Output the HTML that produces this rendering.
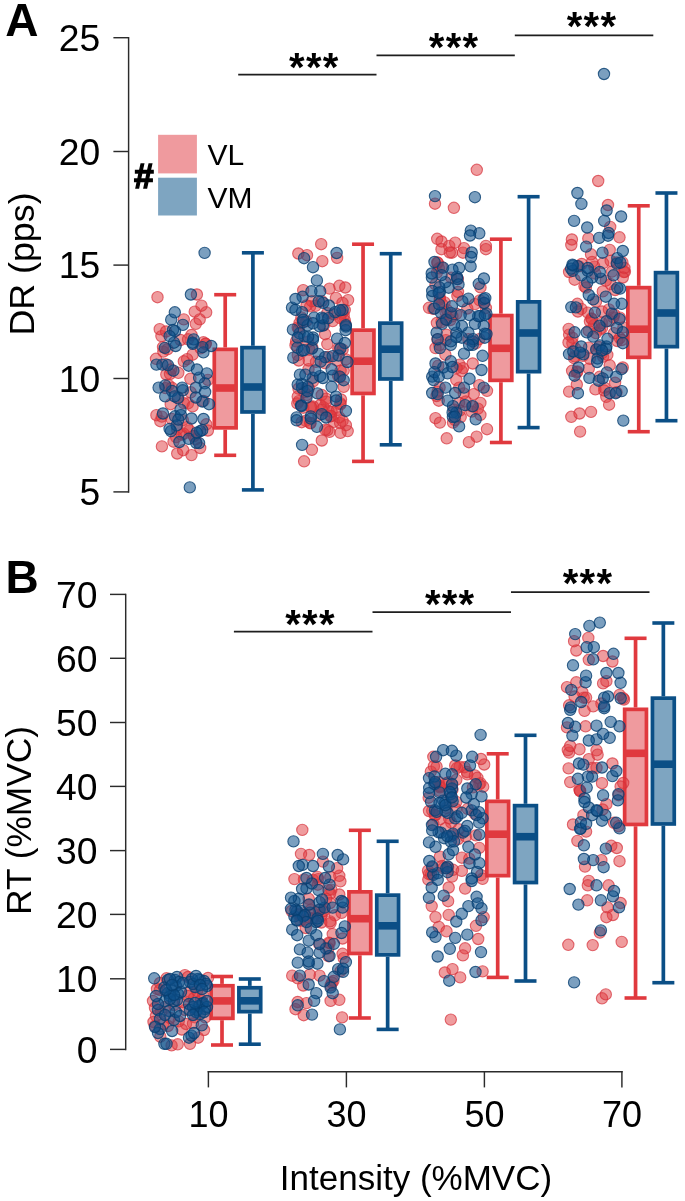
<!DOCTYPE html>
<html><head><meta charset="utf-8"><style>
html,body{margin:0;padding:0;background:#fff;}
svg{display:block;filter:blur(0.35px);}
text{font-family:"Liberation Sans",sans-serif;fill:#000;}
</style></head><body>
<svg width="685" height="1201" viewBox="0 0 685 1201">
<rect width="685" height="1201" fill="#fff"/>
<line x1="225.20" y1="294.70" x2="225.20" y2="347.50" stroke="#e0393e" stroke-width="3.7"/>
<line x1="225.20" y1="429.70" x2="225.20" y2="455.30" stroke="#e0393e" stroke-width="3.7"/>
<line x1="214.20" y1="294.70" x2="236.20" y2="294.70" stroke="#e0393e" stroke-width="3.6"/>
<line x1="214.20" y1="455.30" x2="236.20" y2="455.30" stroke="#e0393e" stroke-width="3.6"/>
<rect x="214.30" y="349.35" width="21.80" height="78.50" fill="#ef9a9e" stroke="#e0393e" stroke-width="3.7"/>
<rect x="214.30" y="384.20" width="21.80" height="7.60" fill="#e0393e"/>
<line x1="363.05" y1="244.20" x2="363.05" y2="328.30" stroke="#e0393e" stroke-width="3.7"/>
<line x1="363.05" y1="395.30" x2="363.05" y2="461.40" stroke="#e0393e" stroke-width="3.7"/>
<line x1="352.05" y1="244.20" x2="374.05" y2="244.20" stroke="#e0393e" stroke-width="3.6"/>
<line x1="352.05" y1="461.40" x2="374.05" y2="461.40" stroke="#e0393e" stroke-width="3.6"/>
<rect x="352.15" y="330.15" width="21.80" height="63.30" fill="#ef9a9e" stroke="#e0393e" stroke-width="3.7"/>
<rect x="352.15" y="357.40" width="21.80" height="7.60" fill="#e0393e"/>
<line x1="500.90" y1="239.20" x2="500.90" y2="313.70" stroke="#e0393e" stroke-width="3.7"/>
<line x1="500.90" y1="382.20" x2="500.90" y2="442.50" stroke="#e0393e" stroke-width="3.7"/>
<line x1="489.90" y1="239.20" x2="511.90" y2="239.20" stroke="#e0393e" stroke-width="3.6"/>
<line x1="489.90" y1="442.50" x2="511.90" y2="442.50" stroke="#e0393e" stroke-width="3.6"/>
<rect x="490.00" y="315.55" width="21.80" height="64.80" fill="#ef9a9e" stroke="#e0393e" stroke-width="3.7"/>
<rect x="490.00" y="344.50" width="21.80" height="7.60" fill="#e0393e"/>
<line x1="638.75" y1="205.80" x2="638.75" y2="285.80" stroke="#e0393e" stroke-width="3.7"/>
<line x1="638.75" y1="359.20" x2="638.75" y2="431.70" stroke="#e0393e" stroke-width="3.7"/>
<line x1="627.75" y1="205.80" x2="649.75" y2="205.80" stroke="#e0393e" stroke-width="3.6"/>
<line x1="627.75" y1="431.70" x2="649.75" y2="431.70" stroke="#e0393e" stroke-width="3.6"/>
<rect x="627.85" y="287.65" width="21.80" height="69.70" fill="#ef9a9e" stroke="#e0393e" stroke-width="3.7"/>
<rect x="627.85" y="325.40" width="21.80" height="7.60" fill="#e0393e"/>
<line x1="252.90" y1="252.80" x2="252.90" y2="345.80" stroke="#0b4f86" stroke-width="3.7"/>
<line x1="252.90" y1="413.80" x2="252.90" y2="489.90" stroke="#0b4f86" stroke-width="3.7"/>
<line x1="241.90" y1="252.80" x2="263.90" y2="252.80" stroke="#0b4f86" stroke-width="3.6"/>
<line x1="241.90" y1="489.90" x2="263.90" y2="489.90" stroke="#0b4f86" stroke-width="3.6"/>
<rect x="242.00" y="347.65" width="21.80" height="64.30" fill="#7ea5c1" stroke="#0b4f86" stroke-width="3.7"/>
<rect x="242.00" y="383.20" width="21.80" height="7.60" fill="#0b4f86"/>
<line x1="390.75" y1="253.70" x2="390.75" y2="321.30" stroke="#0b4f86" stroke-width="3.7"/>
<line x1="390.75" y1="380.80" x2="390.75" y2="444.80" stroke="#0b4f86" stroke-width="3.7"/>
<line x1="379.75" y1="253.70" x2="401.75" y2="253.70" stroke="#0b4f86" stroke-width="3.6"/>
<line x1="379.75" y1="444.80" x2="401.75" y2="444.80" stroke="#0b4f86" stroke-width="3.6"/>
<rect x="379.85" y="323.15" width="21.80" height="55.80" fill="#7ea5c1" stroke="#0b4f86" stroke-width="3.7"/>
<rect x="379.85" y="345.40" width="21.80" height="7.60" fill="#0b4f86"/>
<line x1="528.60" y1="196.70" x2="528.60" y2="300.00" stroke="#0b4f86" stroke-width="3.7"/>
<line x1="528.60" y1="373.50" x2="528.60" y2="427.60" stroke="#0b4f86" stroke-width="3.7"/>
<line x1="517.60" y1="196.70" x2="539.60" y2="196.70" stroke="#0b4f86" stroke-width="3.6"/>
<line x1="517.60" y1="427.60" x2="539.60" y2="427.60" stroke="#0b4f86" stroke-width="3.6"/>
<rect x="517.70" y="301.85" width="21.80" height="69.80" fill="#7ea5c1" stroke="#0b4f86" stroke-width="3.7"/>
<rect x="517.70" y="329.20" width="21.80" height="7.60" fill="#0b4f86"/>
<line x1="666.45" y1="193.00" x2="666.45" y2="270.80" stroke="#0b4f86" stroke-width="3.7"/>
<line x1="666.45" y1="348.50" x2="666.45" y2="420.70" stroke="#0b4f86" stroke-width="3.7"/>
<line x1="655.45" y1="193.00" x2="677.45" y2="193.00" stroke="#0b4f86" stroke-width="3.6"/>
<line x1="655.45" y1="420.70" x2="677.45" y2="420.70" stroke="#0b4f86" stroke-width="3.6"/>
<rect x="655.55" y="272.65" width="21.80" height="74.00" fill="#7ea5c1" stroke="#0b4f86" stroke-width="3.7"/>
<rect x="655.55" y="309.20" width="21.80" height="7.60" fill="#0b4f86"/>
<line x1="222.00" y1="976.50" x2="222.00" y2="983.90" stroke="#e0393e" stroke-width="3.7"/>
<line x1="222.00" y1="1020.20" x2="222.00" y2="1045.00" stroke="#e0393e" stroke-width="3.7"/>
<line x1="211.00" y1="976.50" x2="233.00" y2="976.50" stroke="#e0393e" stroke-width="3.6"/>
<line x1="211.00" y1="1045.00" x2="233.00" y2="1045.00" stroke="#e0393e" stroke-width="3.6"/>
<rect x="211.10" y="985.75" width="21.80" height="32.60" fill="#ef9a9e" stroke="#e0393e" stroke-width="3.7"/>
<rect x="211.10" y="997.10" width="21.80" height="7.60" fill="#e0393e"/>
<line x1="359.85" y1="830.30" x2="359.85" y2="890.00" stroke="#e0393e" stroke-width="3.7"/>
<line x1="359.85" y1="955.30" x2="359.85" y2="1018.00" stroke="#e0393e" stroke-width="3.7"/>
<line x1="348.85" y1="830.30" x2="370.85" y2="830.30" stroke="#e0393e" stroke-width="3.6"/>
<line x1="348.85" y1="1018.00" x2="370.85" y2="1018.00" stroke="#e0393e" stroke-width="3.6"/>
<rect x="348.95" y="891.85" width="21.80" height="61.60" fill="#ef9a9e" stroke="#e0393e" stroke-width="3.7"/>
<rect x="348.95" y="914.90" width="21.80" height="7.60" fill="#e0393e"/>
<line x1="497.70" y1="753.80" x2="497.70" y2="799.50" stroke="#e0393e" stroke-width="3.7"/>
<line x1="497.70" y1="877.50" x2="497.70" y2="977.40" stroke="#e0393e" stroke-width="3.7"/>
<line x1="486.70" y1="753.80" x2="508.70" y2="753.80" stroke="#e0393e" stroke-width="3.6"/>
<line x1="486.70" y1="977.40" x2="508.70" y2="977.40" stroke="#e0393e" stroke-width="3.6"/>
<rect x="486.80" y="801.35" width="21.80" height="74.30" fill="#ef9a9e" stroke="#e0393e" stroke-width="3.7"/>
<rect x="486.80" y="830.40" width="21.80" height="7.60" fill="#e0393e"/>
<line x1="635.55" y1="638.30" x2="635.55" y2="707.50" stroke="#e0393e" stroke-width="3.7"/>
<line x1="635.55" y1="826.30" x2="635.55" y2="998.00" stroke="#e0393e" stroke-width="3.7"/>
<line x1="624.55" y1="638.30" x2="646.55" y2="638.30" stroke="#e0393e" stroke-width="3.6"/>
<line x1="624.55" y1="998.00" x2="646.55" y2="998.00" stroke="#e0393e" stroke-width="3.6"/>
<rect x="624.65" y="709.35" width="21.80" height="115.10" fill="#ef9a9e" stroke="#e0393e" stroke-width="3.7"/>
<rect x="624.65" y="749.50" width="21.80" height="7.60" fill="#e0393e"/>
<line x1="249.80" y1="979.00" x2="249.80" y2="985.90" stroke="#0b4f86" stroke-width="3.7"/>
<line x1="249.80" y1="1013.50" x2="249.80" y2="1044.20" stroke="#0b4f86" stroke-width="3.7"/>
<line x1="238.80" y1="979.00" x2="260.80" y2="979.00" stroke="#0b4f86" stroke-width="3.6"/>
<line x1="238.80" y1="1044.20" x2="260.80" y2="1044.20" stroke="#0b4f86" stroke-width="3.6"/>
<rect x="238.90" y="987.75" width="21.80" height="23.90" fill="#7ea5c1" stroke="#0b4f86" stroke-width="3.7"/>
<rect x="238.90" y="997.00" width="21.80" height="7.60" fill="#0b4f86"/>
<line x1="387.65" y1="841.30" x2="387.65" y2="893.30" stroke="#0b4f86" stroke-width="3.7"/>
<line x1="387.65" y1="956.70" x2="387.65" y2="1029.40" stroke="#0b4f86" stroke-width="3.7"/>
<line x1="376.65" y1="841.30" x2="398.65" y2="841.30" stroke="#0b4f86" stroke-width="3.6"/>
<line x1="376.65" y1="1029.40" x2="398.65" y2="1029.40" stroke="#0b4f86" stroke-width="3.6"/>
<rect x="376.75" y="895.15" width="21.80" height="59.70" fill="#7ea5c1" stroke="#0b4f86" stroke-width="3.7"/>
<rect x="376.75" y="922.00" width="21.80" height="7.60" fill="#0b4f86"/>
<line x1="525.50" y1="735.30" x2="525.50" y2="803.80" stroke="#0b4f86" stroke-width="3.7"/>
<line x1="525.50" y1="884.40" x2="525.50" y2="981.00" stroke="#0b4f86" stroke-width="3.7"/>
<line x1="514.50" y1="735.30" x2="536.50" y2="735.30" stroke="#0b4f86" stroke-width="3.6"/>
<line x1="514.50" y1="981.00" x2="536.50" y2="981.00" stroke="#0b4f86" stroke-width="3.6"/>
<rect x="514.60" y="805.65" width="21.80" height="76.90" fill="#7ea5c1" stroke="#0b4f86" stroke-width="3.7"/>
<rect x="514.60" y="832.90" width="21.80" height="7.60" fill="#0b4f86"/>
<line x1="663.35" y1="623.00" x2="663.35" y2="696.30" stroke="#0b4f86" stroke-width="3.7"/>
<line x1="663.35" y1="825.80" x2="663.35" y2="982.70" stroke="#0b4f86" stroke-width="3.7"/>
<line x1="652.35" y1="623.00" x2="674.35" y2="623.00" stroke="#0b4f86" stroke-width="3.6"/>
<line x1="652.35" y1="982.70" x2="674.35" y2="982.70" stroke="#0b4f86" stroke-width="3.6"/>
<rect x="652.45" y="698.15" width="21.80" height="125.80" fill="#7ea5c1" stroke="#0b4f86" stroke-width="3.7"/>
<rect x="652.45" y="760.40" width="21.80" height="7.60" fill="#0b4f86"/>
<circle cx="189.5" cy="430.4" r="5.65" fill="rgba(224,58,62,0.5)" stroke="rgba(214,48,58,0.7)" stroke-width="1.1"/>
<circle cx="168.6" cy="385.2" r="5.65" fill="rgba(224,58,62,0.5)" stroke="rgba(214,48,58,0.7)" stroke-width="1.1"/>
<circle cx="191.5" cy="335.0" r="5.65" fill="rgba(224,58,62,0.5)" stroke="rgba(214,48,58,0.7)" stroke-width="1.1"/>
<circle cx="188.0" cy="403.3" r="5.65" fill="rgba(224,58,62,0.5)" stroke="rgba(214,48,58,0.7)" stroke-width="1.1"/>
<circle cx="163.3" cy="351.6" r="5.65" fill="rgba(224,58,62,0.5)" stroke="rgba(214,48,58,0.7)" stroke-width="1.1"/>
<circle cx="182.8" cy="420.2" r="5.65" fill="rgba(224,58,62,0.5)" stroke="rgba(214,48,58,0.7)" stroke-width="1.1"/>
<circle cx="165.6" cy="388.1" r="5.65" fill="rgba(224,58,62,0.5)" stroke="rgba(214,48,58,0.7)" stroke-width="1.1"/>
<circle cx="181.8" cy="434.7" r="5.65" fill="rgba(224,58,62,0.5)" stroke="rgba(214,48,58,0.7)" stroke-width="1.1"/>
<circle cx="193.9" cy="436.1" r="5.65" fill="rgba(224,58,62,0.5)" stroke="rgba(214,48,58,0.7)" stroke-width="1.1"/>
<circle cx="205.6" cy="343.8" r="5.65" fill="rgba(224,58,62,0.5)" stroke="rgba(214,48,58,0.7)" stroke-width="1.1"/>
<circle cx="177.2" cy="453.5" r="5.65" fill="rgba(224,58,62,0.5)" stroke="rgba(214,48,58,0.7)" stroke-width="1.1"/>
<circle cx="200.2" cy="448.0" r="5.65" fill="rgba(224,58,62,0.5)" stroke="rgba(214,48,58,0.7)" stroke-width="1.1"/>
<circle cx="178.3" cy="372.8" r="5.65" fill="rgba(224,58,62,0.5)" stroke="rgba(214,48,58,0.7)" stroke-width="1.1"/>
<circle cx="192.6" cy="354.7" r="5.65" fill="rgba(224,58,62,0.5)" stroke="rgba(214,48,58,0.7)" stroke-width="1.1"/>
<circle cx="183.2" cy="450.2" r="5.65" fill="rgba(224,58,62,0.5)" stroke="rgba(214,48,58,0.7)" stroke-width="1.1"/>
<circle cx="156.0" cy="358.8" r="5.65" fill="rgba(224,58,62,0.5)" stroke="rgba(214,48,58,0.7)" stroke-width="1.1"/>
<circle cx="173.5" cy="441.7" r="5.65" fill="rgba(224,58,62,0.5)" stroke="rgba(214,48,58,0.7)" stroke-width="1.1"/>
<circle cx="161.4" cy="336.1" r="5.65" fill="rgba(224,58,62,0.5)" stroke="rgba(214,48,58,0.7)" stroke-width="1.1"/>
<circle cx="159.7" cy="329.2" r="5.65" fill="rgba(224,58,62,0.5)" stroke="rgba(214,48,58,0.7)" stroke-width="1.1"/>
<circle cx="187.1" cy="359.1" r="5.65" fill="rgba(224,58,62,0.5)" stroke="rgba(214,48,58,0.7)" stroke-width="1.1"/>
<circle cx="161.9" cy="446.4" r="5.65" fill="rgba(224,58,62,0.5)" stroke="rgba(214,48,58,0.7)" stroke-width="1.1"/>
<circle cx="165.7" cy="364.1" r="5.65" fill="rgba(224,58,62,0.5)" stroke="rgba(214,48,58,0.7)" stroke-width="1.1"/>
<circle cx="171.0" cy="369.5" r="5.65" fill="rgba(224,58,62,0.5)" stroke="rgba(214,48,58,0.7)" stroke-width="1.1"/>
<circle cx="190.4" cy="378.8" r="5.65" fill="rgba(224,58,62,0.5)" stroke="rgba(214,48,58,0.7)" stroke-width="1.1"/>
<circle cx="195.8" cy="323.8" r="5.65" fill="rgba(224,58,62,0.5)" stroke="rgba(214,48,58,0.7)" stroke-width="1.1"/>
<circle cx="190.7" cy="392.3" r="5.65" fill="rgba(224,58,62,0.5)" stroke="rgba(214,48,58,0.7)" stroke-width="1.1"/>
<circle cx="203.6" cy="400.9" r="5.65" fill="rgba(224,58,62,0.5)" stroke="rgba(214,48,58,0.7)" stroke-width="1.1"/>
<circle cx="160.3" cy="421.2" r="5.65" fill="rgba(224,58,62,0.5)" stroke="rgba(214,48,58,0.7)" stroke-width="1.1"/>
<circle cx="157.5" cy="297.2" r="5.65" fill="rgba(224,58,62,0.5)" stroke="rgba(214,48,58,0.7)" stroke-width="1.1"/>
<circle cx="196.9" cy="294.5" r="5.65" fill="rgba(224,58,62,0.5)" stroke="rgba(214,48,58,0.7)" stroke-width="1.1"/>
<circle cx="171.8" cy="387.6" r="5.65" fill="rgba(224,58,62,0.5)" stroke="rgba(214,48,58,0.7)" stroke-width="1.1"/>
<circle cx="207.9" cy="430.5" r="5.65" fill="rgba(224,58,62,0.5)" stroke="rgba(214,48,58,0.7)" stroke-width="1.1"/>
<circle cx="194.7" cy="311.7" r="5.65" fill="rgba(224,58,62,0.5)" stroke="rgba(214,48,58,0.7)" stroke-width="1.1"/>
<circle cx="183.8" cy="361.3" r="5.65" fill="rgba(224,58,62,0.5)" stroke="rgba(214,48,58,0.7)" stroke-width="1.1"/>
<circle cx="166.1" cy="331.5" r="5.65" fill="rgba(224,58,62,0.5)" stroke="rgba(214,48,58,0.7)" stroke-width="1.1"/>
<circle cx="203.4" cy="342.3" r="5.65" fill="rgba(224,58,62,0.5)" stroke="rgba(214,48,58,0.7)" stroke-width="1.1"/>
<circle cx="163.0" cy="347.1" r="5.65" fill="rgba(224,58,62,0.5)" stroke="rgba(214,48,58,0.7)" stroke-width="1.1"/>
<circle cx="206.2" cy="312.3" r="5.65" fill="rgba(224,58,62,0.5)" stroke="rgba(214,48,58,0.7)" stroke-width="1.1"/>
<circle cx="191.5" cy="455.1" r="5.65" fill="rgba(224,58,62,0.5)" stroke="rgba(214,48,58,0.7)" stroke-width="1.1"/>
<circle cx="199.7" cy="319.4" r="5.65" fill="rgba(224,58,62,0.5)" stroke="rgba(214,48,58,0.7)" stroke-width="1.1"/>
<circle cx="206.3" cy="424.3" r="5.65" fill="rgba(224,58,62,0.5)" stroke="rgba(214,48,58,0.7)" stroke-width="1.1"/>
<circle cx="156.4" cy="415.2" r="5.65" fill="rgba(224,58,62,0.5)" stroke="rgba(214,48,58,0.7)" stroke-width="1.1"/>
<circle cx="188.0" cy="339.3" r="5.65" fill="rgba(224,58,62,0.5)" stroke="rgba(214,48,58,0.7)" stroke-width="1.1"/>
<circle cx="177.2" cy="429.4" r="5.65" fill="rgba(224,58,62,0.5)" stroke="rgba(214,48,58,0.7)" stroke-width="1.1"/>
<circle cx="183.8" cy="319.4" r="5.65" fill="rgba(224,58,62,0.5)" stroke="rgba(214,48,58,0.7)" stroke-width="1.1"/>
<circle cx="205.7" cy="343.8" r="5.65" fill="rgba(224,58,62,0.5)" stroke="rgba(214,48,58,0.7)" stroke-width="1.1"/>
<circle cx="166.3" cy="374.5" r="5.65" fill="rgba(224,58,62,0.5)" stroke="rgba(214,48,58,0.7)" stroke-width="1.1"/>
<circle cx="193.7" cy="436.0" r="5.65" fill="rgba(224,58,62,0.5)" stroke="rgba(214,48,58,0.7)" stroke-width="1.1"/>
<circle cx="200.6" cy="348.3" r="5.65" fill="rgba(224,58,62,0.5)" stroke="rgba(214,48,58,0.7)" stroke-width="1.1"/>
<circle cx="180.5" cy="340.0" r="5.65" fill="rgba(224,58,62,0.5)" stroke="rgba(214,48,58,0.7)" stroke-width="1.1"/>
<circle cx="170.0" cy="374.0" r="5.65" fill="rgba(224,58,62,0.5)" stroke="rgba(214,48,58,0.7)" stroke-width="1.1"/>
<circle cx="183.8" cy="403.1" r="5.65" fill="rgba(224,58,62,0.5)" stroke="rgba(214,48,58,0.7)" stroke-width="1.1"/>
<circle cx="183.8" cy="433.8" r="5.65" fill="rgba(224,58,62,0.5)" stroke="rgba(214,48,58,0.7)" stroke-width="1.1"/>
<circle cx="170.7" cy="404.2" r="5.65" fill="rgba(224,58,62,0.5)" stroke="rgba(214,48,58,0.7)" stroke-width="1.1"/>
<circle cx="161.8" cy="416.6" r="5.65" fill="rgba(224,58,62,0.5)" stroke="rgba(214,48,58,0.7)" stroke-width="1.1"/>
<circle cx="167.4" cy="349.3" r="5.65" fill="rgba(224,58,62,0.5)" stroke="rgba(214,48,58,0.7)" stroke-width="1.1"/>
<circle cx="195.5" cy="439.4" r="5.65" fill="rgba(224,58,62,0.5)" stroke="rgba(214,48,58,0.7)" stroke-width="1.1"/>
<circle cx="192.6" cy="406.4" r="5.65" fill="rgba(224,58,62,0.5)" stroke="rgba(214,48,58,0.7)" stroke-width="1.1"/>
<circle cx="187.1" cy="427.2" r="5.65" fill="rgba(224,58,62,0.5)" stroke="rgba(214,48,58,0.7)" stroke-width="1.1"/>
<circle cx="201.5" cy="305.7" r="5.65" fill="rgba(224,58,62,0.5)" stroke="rgba(214,48,58,0.7)" stroke-width="1.1"/>
<circle cx="207.9" cy="379.9" r="5.65" fill="rgba(224,58,62,0.5)" stroke="rgba(214,48,58,0.7)" stroke-width="1.1"/>
<circle cx="176.1" cy="437.1" r="5.65" fill="rgba(224,58,62,0.5)" stroke="rgba(214,48,58,0.7)" stroke-width="1.1"/>
<circle cx="171.6" cy="418.9" r="5.65" fill="rgba(224,58,62,0.5)" stroke="rgba(214,48,58,0.7)" stroke-width="1.1"/>
<circle cx="178.3" cy="397.5" r="5.65" fill="rgba(224,58,62,0.5)" stroke="rgba(214,48,58,0.7)" stroke-width="1.1"/>
<circle cx="173.0" cy="330.0" r="5.65" fill="rgba(14,80,138,0.55)" stroke="rgba(8,62,112,0.8)" stroke-width="1.1"/>
<circle cx="172.0" cy="391.0" r="5.65" fill="rgba(14,80,138,0.55)" stroke="rgba(8,62,112,0.8)" stroke-width="1.1"/>
<circle cx="180.5" cy="409.7" r="5.65" fill="rgba(14,80,138,0.55)" stroke="rgba(8,62,112,0.8)" stroke-width="1.1"/>
<circle cx="165.2" cy="396.4" r="5.65" fill="rgba(14,80,138,0.55)" stroke="rgba(8,62,112,0.8)" stroke-width="1.1"/>
<circle cx="171.0" cy="431.1" r="5.65" fill="rgba(14,80,138,0.55)" stroke="rgba(8,62,112,0.8)" stroke-width="1.1"/>
<circle cx="175.0" cy="416.3" r="5.65" fill="rgba(14,80,138,0.55)" stroke="rgba(8,62,112,0.8)" stroke-width="1.1"/>
<circle cx="199.1" cy="443.1" r="5.65" fill="rgba(14,80,138,0.55)" stroke="rgba(8,62,112,0.8)" stroke-width="1.1"/>
<circle cx="165.2" cy="385.4" r="5.65" fill="rgba(14,80,138,0.55)" stroke="rgba(8,62,112,0.8)" stroke-width="1.1"/>
<circle cx="171.2" cy="319.7" r="5.65" fill="rgba(14,80,138,0.55)" stroke="rgba(8,62,112,0.8)" stroke-width="1.1"/>
<circle cx="202.4" cy="401.5" r="5.65" fill="rgba(14,80,138,0.55)" stroke="rgba(8,62,112,0.8)" stroke-width="1.1"/>
<circle cx="192.8" cy="343.8" r="5.65" fill="rgba(14,80,138,0.55)" stroke="rgba(8,62,112,0.8)" stroke-width="1.1"/>
<circle cx="200.2" cy="431.1" r="5.65" fill="rgba(14,80,138,0.55)" stroke="rgba(8,62,112,0.8)" stroke-width="1.1"/>
<circle cx="179.4" cy="442.0" r="5.65" fill="rgba(14,80,138,0.55)" stroke="rgba(8,62,112,0.8)" stroke-width="1.1"/>
<circle cx="204.7" cy="383.3" r="5.65" fill="rgba(14,80,138,0.55)" stroke="rgba(8,62,112,0.8)" stroke-width="1.1"/>
<circle cx="177.8" cy="398.2" r="5.65" fill="rgba(14,80,138,0.55)" stroke="rgba(8,62,112,0.8)" stroke-width="1.1"/>
<circle cx="211.2" cy="346.0" r="5.65" fill="rgba(14,80,138,0.55)" stroke="rgba(8,62,112,0.8)" stroke-width="1.1"/>
<circle cx="173.4" cy="370.7" r="5.65" fill="rgba(14,80,138,0.55)" stroke="rgba(8,62,112,0.8)" stroke-width="1.1"/>
<circle cx="175.0" cy="331.2" r="5.65" fill="rgba(14,80,138,0.55)" stroke="rgba(8,62,112,0.8)" stroke-width="1.1"/>
<circle cx="199.1" cy="377.7" r="5.65" fill="rgba(14,80,138,0.55)" stroke="rgba(8,62,112,0.8)" stroke-width="1.1"/>
<circle cx="180.9" cy="415.1" r="5.65" fill="rgba(14,80,138,0.55)" stroke="rgba(8,62,112,0.8)" stroke-width="1.1"/>
<circle cx="188.7" cy="365.7" r="5.65" fill="rgba(14,80,138,0.55)" stroke="rgba(8,62,112,0.8)" stroke-width="1.1"/>
<circle cx="156.4" cy="364.6" r="5.65" fill="rgba(14,80,138,0.55)" stroke="rgba(8,62,112,0.8)" stroke-width="1.1"/>
<circle cx="195.8" cy="387.6" r="5.65" fill="rgba(14,80,138,0.55)" stroke="rgba(8,62,112,0.8)" stroke-width="1.1"/>
<circle cx="176.7" cy="425.4" r="5.65" fill="rgba(14,80,138,0.55)" stroke="rgba(8,62,112,0.8)" stroke-width="1.1"/>
<circle cx="196.9" cy="369.5" r="5.65" fill="rgba(14,80,138,0.55)" stroke="rgba(8,62,112,0.8)" stroke-width="1.1"/>
<circle cx="196.2" cy="442.9" r="5.65" fill="rgba(14,80,138,0.55)" stroke="rgba(8,62,112,0.8)" stroke-width="1.1"/>
<circle cx="175.6" cy="346.0" r="5.65" fill="rgba(14,80,138,0.55)" stroke="rgba(8,62,112,0.8)" stroke-width="1.1"/>
<circle cx="182.8" cy="390.3" r="5.65" fill="rgba(14,80,138,0.55)" stroke="rgba(8,62,112,0.8)" stroke-width="1.1"/>
<circle cx="163.0" cy="413.5" r="5.65" fill="rgba(14,80,138,0.55)" stroke="rgba(8,62,112,0.8)" stroke-width="1.1"/>
<circle cx="188.7" cy="438.8" r="5.65" fill="rgba(14,80,138,0.55)" stroke="rgba(8,62,112,0.8)" stroke-width="1.1"/>
<circle cx="162.4" cy="364.6" r="5.65" fill="rgba(14,80,138,0.55)" stroke="rgba(8,62,112,0.8)" stroke-width="1.1"/>
<circle cx="178.3" cy="419.6" r="5.65" fill="rgba(14,80,138,0.55)" stroke="rgba(8,62,112,0.8)" stroke-width="1.1"/>
<circle cx="203.4" cy="352.4" r="5.65" fill="rgba(14,80,138,0.55)" stroke="rgba(8,62,112,0.8)" stroke-width="1.1"/>
<circle cx="204.6" cy="252.9" r="5.65" fill="rgba(14,80,138,0.55)" stroke="rgba(8,62,112,0.8)" stroke-width="1.1"/>
<circle cx="206.8" cy="373.4" r="5.65" fill="rgba(14,80,138,0.55)" stroke="rgba(8,62,112,0.8)" stroke-width="1.1"/>
<circle cx="182.9" cy="324.9" r="5.65" fill="rgba(14,80,138,0.55)" stroke="rgba(8,62,112,0.8)" stroke-width="1.1"/>
<circle cx="189.8" cy="487.4" r="5.65" fill="rgba(14,80,138,0.55)" stroke="rgba(8,62,112,0.8)" stroke-width="1.1"/>
<circle cx="191.5" cy="418.5" r="5.65" fill="rgba(14,80,138,0.55)" stroke="rgba(8,62,112,0.8)" stroke-width="1.1"/>
<circle cx="182.2" cy="387.6" r="5.65" fill="rgba(14,80,138,0.55)" stroke="rgba(8,62,112,0.8)" stroke-width="1.1"/>
<circle cx="167.9" cy="365.1" r="5.65" fill="rgba(14,80,138,0.55)" stroke="rgba(8,62,112,0.8)" stroke-width="1.1"/>
<circle cx="209.0" cy="404.2" r="5.65" fill="rgba(14,80,138,0.55)" stroke="rgba(8,62,112,0.8)" stroke-width="1.1"/>
<circle cx="205.1" cy="392.0" r="5.65" fill="rgba(14,80,138,0.55)" stroke="rgba(8,62,112,0.8)" stroke-width="1.1"/>
<circle cx="174.0" cy="342.7" r="5.65" fill="rgba(14,80,138,0.55)" stroke="rgba(8,62,112,0.8)" stroke-width="1.1"/>
<circle cx="193.7" cy="339.4" r="5.65" fill="rgba(14,80,138,0.55)" stroke="rgba(8,62,112,0.8)" stroke-width="1.1"/>
<circle cx="174.8" cy="312.3" r="5.65" fill="rgba(14,80,138,0.55)" stroke="rgba(8,62,112,0.8)" stroke-width="1.1"/>
<circle cx="202.2" cy="430.2" r="5.65" fill="rgba(14,80,138,0.55)" stroke="rgba(8,62,112,0.8)" stroke-width="1.1"/>
<circle cx="190.9" cy="294.5" r="5.65" fill="rgba(14,80,138,0.55)" stroke="rgba(8,62,112,0.8)" stroke-width="1.1"/>
<circle cx="203.5" cy="419.0" r="5.65" fill="rgba(14,80,138,0.55)" stroke="rgba(8,62,112,0.8)" stroke-width="1.1"/>
<circle cx="196.7" cy="432.7" r="5.65" fill="rgba(14,80,138,0.55)" stroke="rgba(8,62,112,0.8)" stroke-width="1.1"/>
<circle cx="164.9" cy="347.9" r="5.65" fill="rgba(14,80,138,0.55)" stroke="rgba(8,62,112,0.8)" stroke-width="1.1"/>
<circle cx="195.8" cy="397.5" r="5.65" fill="rgba(14,80,138,0.55)" stroke="rgba(8,62,112,0.8)" stroke-width="1.1"/>
<circle cx="169.6" cy="336.1" r="5.65" fill="rgba(14,80,138,0.55)" stroke="rgba(8,62,112,0.8)" stroke-width="1.1"/>
<circle cx="174.6" cy="396.4" r="5.65" fill="rgba(14,80,138,0.55)" stroke="rgba(8,62,112,0.8)" stroke-width="1.1"/>
<circle cx="169.6" cy="428.9" r="5.65" fill="rgba(14,80,138,0.55)" stroke="rgba(8,62,112,0.8)" stroke-width="1.1"/>
<circle cx="158.6" cy="387.6" r="5.65" fill="rgba(14,80,138,0.55)" stroke="rgba(8,62,112,0.8)" stroke-width="1.1"/>
<circle cx="192.6" cy="342.7" r="5.65" fill="rgba(14,80,138,0.55)" stroke="rgba(8,62,112,0.8)" stroke-width="1.1"/>
<circle cx="202.4" cy="347.1" r="5.65" fill="rgba(14,80,138,0.55)" stroke="rgba(8,62,112,0.8)" stroke-width="1.1"/>
<circle cx="295.5" cy="345.2" r="5.65" fill="rgba(224,58,62,0.5)" stroke="rgba(214,48,58,0.7)" stroke-width="1.1"/>
<circle cx="311.4" cy="407.8" r="5.65" fill="rgba(224,58,62,0.5)" stroke="rgba(214,48,58,0.7)" stroke-width="1.1"/>
<circle cx="343.7" cy="315.4" r="5.65" fill="rgba(224,58,62,0.5)" stroke="rgba(214,48,58,0.7)" stroke-width="1.1"/>
<circle cx="298.5" cy="388.7" r="5.65" fill="rgba(224,58,62,0.5)" stroke="rgba(214,48,58,0.7)" stroke-width="1.1"/>
<circle cx="315.5" cy="305.8" r="5.65" fill="rgba(224,58,62,0.5)" stroke="rgba(214,48,58,0.7)" stroke-width="1.1"/>
<circle cx="316.0" cy="361.8" r="5.65" fill="rgba(224,58,62,0.5)" stroke="rgba(214,48,58,0.7)" stroke-width="1.1"/>
<circle cx="340.6" cy="370.8" r="5.65" fill="rgba(224,58,62,0.5)" stroke="rgba(214,48,58,0.7)" stroke-width="1.1"/>
<circle cx="318.5" cy="415.3" r="5.65" fill="rgba(224,58,62,0.5)" stroke="rgba(214,48,58,0.7)" stroke-width="1.1"/>
<circle cx="323.6" cy="407.3" r="5.65" fill="rgba(224,58,62,0.5)" stroke="rgba(214,48,58,0.7)" stroke-width="1.1"/>
<circle cx="310.2" cy="306.3" r="5.65" fill="rgba(224,58,62,0.5)" stroke="rgba(214,48,58,0.7)" stroke-width="1.1"/>
<circle cx="339.9" cy="377.4" r="5.65" fill="rgba(224,58,62,0.5)" stroke="rgba(214,48,58,0.7)" stroke-width="1.1"/>
<circle cx="325.1" cy="334.2" r="5.65" fill="rgba(224,58,62,0.5)" stroke="rgba(214,48,58,0.7)" stroke-width="1.1"/>
<circle cx="327.3" cy="313.2" r="5.65" fill="rgba(224,58,62,0.5)" stroke="rgba(214,48,58,0.7)" stroke-width="1.1"/>
<circle cx="348.1" cy="300.1" r="5.65" fill="rgba(224,58,62,0.5)" stroke="rgba(214,48,58,0.7)" stroke-width="1.1"/>
<circle cx="307.0" cy="255.2" r="5.65" fill="rgba(224,58,62,0.5)" stroke="rgba(214,48,58,0.7)" stroke-width="1.1"/>
<circle cx="312.4" cy="347.6" r="5.65" fill="rgba(224,58,62,0.5)" stroke="rgba(214,48,58,0.7)" stroke-width="1.1"/>
<circle cx="326.2" cy="398.8" r="5.65" fill="rgba(224,58,62,0.5)" stroke="rgba(214,48,58,0.7)" stroke-width="1.1"/>
<circle cx="297.8" cy="355.2" r="5.65" fill="rgba(224,58,62,0.5)" stroke="rgba(214,48,58,0.7)" stroke-width="1.1"/>
<circle cx="298.8" cy="401.1" r="5.65" fill="rgba(224,58,62,0.5)" stroke="rgba(214,48,58,0.7)" stroke-width="1.1"/>
<circle cx="339.3" cy="285.8" r="5.65" fill="rgba(224,58,62,0.5)" stroke="rgba(214,48,58,0.7)" stroke-width="1.1"/>
<circle cx="298.3" cy="253.5" r="5.65" fill="rgba(224,58,62,0.5)" stroke="rgba(214,48,58,0.7)" stroke-width="1.1"/>
<circle cx="308.9" cy="388.1" r="5.65" fill="rgba(224,58,62,0.5)" stroke="rgba(214,48,58,0.7)" stroke-width="1.1"/>
<circle cx="320.4" cy="405.0" r="5.65" fill="rgba(224,58,62,0.5)" stroke="rgba(214,48,58,0.7)" stroke-width="1.1"/>
<circle cx="345.3" cy="324.0" r="5.65" fill="rgba(224,58,62,0.5)" stroke="rgba(214,48,58,0.7)" stroke-width="1.1"/>
<circle cx="306.8" cy="395.0" r="5.65" fill="rgba(224,58,62,0.5)" stroke="rgba(214,48,58,0.7)" stroke-width="1.1"/>
<circle cx="345.9" cy="425.2" r="5.65" fill="rgba(224,58,62,0.5)" stroke="rgba(214,48,58,0.7)" stroke-width="1.1"/>
<circle cx="330.6" cy="416.4" r="5.65" fill="rgba(224,58,62,0.5)" stroke="rgba(214,48,58,0.7)" stroke-width="1.1"/>
<circle cx="331.6" cy="412.0" r="5.65" fill="rgba(224,58,62,0.5)" stroke="rgba(214,48,58,0.7)" stroke-width="1.1"/>
<circle cx="306.3" cy="321.2" r="5.65" fill="rgba(224,58,62,0.5)" stroke="rgba(214,48,58,0.7)" stroke-width="1.1"/>
<circle cx="343.7" cy="370.4" r="5.65" fill="rgba(224,58,62,0.5)" stroke="rgba(214,48,58,0.7)" stroke-width="1.1"/>
<circle cx="347.7" cy="431.1" r="5.65" fill="rgba(224,58,62,0.5)" stroke="rgba(214,48,58,0.7)" stroke-width="1.1"/>
<circle cx="321.7" cy="395.0" r="5.65" fill="rgba(224,58,62,0.5)" stroke="rgba(214,48,58,0.7)" stroke-width="1.1"/>
<circle cx="339.6" cy="349.4" r="5.65" fill="rgba(224,58,62,0.5)" stroke="rgba(214,48,58,0.7)" stroke-width="1.1"/>
<circle cx="310.4" cy="423.3" r="5.65" fill="rgba(224,58,62,0.5)" stroke="rgba(214,48,58,0.7)" stroke-width="1.1"/>
<circle cx="311.9" cy="301.2" r="5.65" fill="rgba(224,58,62,0.5)" stroke="rgba(214,48,58,0.7)" stroke-width="1.1"/>
<circle cx="333.8" cy="421.9" r="5.65" fill="rgba(224,58,62,0.5)" stroke="rgba(214,48,58,0.7)" stroke-width="1.1"/>
<circle cx="308.5" cy="369.2" r="5.65" fill="rgba(224,58,62,0.5)" stroke="rgba(214,48,58,0.7)" stroke-width="1.1"/>
<circle cx="305.9" cy="420.8" r="5.65" fill="rgba(224,58,62,0.5)" stroke="rgba(214,48,58,0.7)" stroke-width="1.1"/>
<circle cx="336.0" cy="297.9" r="5.65" fill="rgba(224,58,62,0.5)" stroke="rgba(214,48,58,0.7)" stroke-width="1.1"/>
<circle cx="344.7" cy="310.0" r="5.65" fill="rgba(224,58,62,0.5)" stroke="rgba(214,48,58,0.7)" stroke-width="1.1"/>
<circle cx="337.1" cy="360.5" r="5.65" fill="rgba(224,58,62,0.5)" stroke="rgba(214,48,58,0.7)" stroke-width="1.1"/>
<circle cx="332.7" cy="321.1" r="5.65" fill="rgba(224,58,62,0.5)" stroke="rgba(214,48,58,0.7)" stroke-width="1.1"/>
<circle cx="306.5" cy="305.5" r="5.65" fill="rgba(224,58,62,0.5)" stroke="rgba(214,48,58,0.7)" stroke-width="1.1"/>
<circle cx="308.7" cy="360.5" r="5.65" fill="rgba(224,58,62,0.5)" stroke="rgba(214,48,58,0.7)" stroke-width="1.1"/>
<circle cx="328.4" cy="410.9" r="5.65" fill="rgba(224,58,62,0.5)" stroke="rgba(214,48,58,0.7)" stroke-width="1.1"/>
<circle cx="329.5" cy="288.6" r="5.65" fill="rgba(224,58,62,0.5)" stroke="rgba(214,48,58,0.7)" stroke-width="1.1"/>
<circle cx="321.8" cy="301.2" r="5.65" fill="rgba(224,58,62,0.5)" stroke="rgba(214,48,58,0.7)" stroke-width="1.1"/>
<circle cx="342.5" cy="302.9" r="5.65" fill="rgba(224,58,62,0.5)" stroke="rgba(214,48,58,0.7)" stroke-width="1.1"/>
<circle cx="340.4" cy="432.8" r="5.65" fill="rgba(224,58,62,0.5)" stroke="rgba(214,48,58,0.7)" stroke-width="1.1"/>
<circle cx="344.8" cy="320.5" r="5.65" fill="rgba(224,58,62,0.5)" stroke="rgba(214,48,58,0.7)" stroke-width="1.1"/>
<circle cx="322.3" cy="261.2" r="5.65" fill="rgba(224,58,62,0.5)" stroke="rgba(214,48,58,0.7)" stroke-width="1.1"/>
<circle cx="337.1" cy="257.9" r="5.65" fill="rgba(224,58,62,0.5)" stroke="rgba(214,48,58,0.7)" stroke-width="1.1"/>
<circle cx="298.8" cy="360.5" r="5.65" fill="rgba(224,58,62,0.5)" stroke="rgba(214,48,58,0.7)" stroke-width="1.1"/>
<circle cx="309.2" cy="349.3" r="5.65" fill="rgba(224,58,62,0.5)" stroke="rgba(214,48,58,0.7)" stroke-width="1.1"/>
<circle cx="343.7" cy="386.8" r="5.65" fill="rgba(224,58,62,0.5)" stroke="rgba(214,48,58,0.7)" stroke-width="1.1"/>
<circle cx="303.2" cy="290.2" r="5.65" fill="rgba(224,58,62,0.5)" stroke="rgba(214,48,58,0.7)" stroke-width="1.1"/>
<circle cx="313.0" cy="381.3" r="5.65" fill="rgba(224,58,62,0.5)" stroke="rgba(214,48,58,0.7)" stroke-width="1.1"/>
<circle cx="333.8" cy="314.3" r="5.65" fill="rgba(224,58,62,0.5)" stroke="rgba(214,48,58,0.7)" stroke-width="1.1"/>
<circle cx="311.9" cy="449.8" r="5.65" fill="rgba(224,58,62,0.5)" stroke="rgba(214,48,58,0.7)" stroke-width="1.1"/>
<circle cx="337.0" cy="410.1" r="5.65" fill="rgba(224,58,62,0.5)" stroke="rgba(214,48,58,0.7)" stroke-width="1.1"/>
<circle cx="342.6" cy="349.7" r="5.65" fill="rgba(224,58,62,0.5)" stroke="rgba(214,48,58,0.7)" stroke-width="1.1"/>
<circle cx="340.4" cy="403.2" r="5.65" fill="rgba(224,58,62,0.5)" stroke="rgba(214,48,58,0.7)" stroke-width="1.1"/>
<circle cx="326.2" cy="401.6" r="5.65" fill="rgba(224,58,62,0.5)" stroke="rgba(214,48,58,0.7)" stroke-width="1.1"/>
<circle cx="308.0" cy="341.8" r="5.65" fill="rgba(224,58,62,0.5)" stroke="rgba(214,48,58,0.7)" stroke-width="1.1"/>
<circle cx="329.5" cy="431.8" r="5.65" fill="rgba(224,58,62,0.5)" stroke="rgba(214,48,58,0.7)" stroke-width="1.1"/>
<circle cx="345.9" cy="359.4" r="5.65" fill="rgba(224,58,62,0.5)" stroke="rgba(214,48,58,0.7)" stroke-width="1.1"/>
<circle cx="297.7" cy="327.5" r="5.65" fill="rgba(224,58,62,0.5)" stroke="rgba(214,48,58,0.7)" stroke-width="1.1"/>
<circle cx="342.2" cy="312.7" r="5.65" fill="rgba(224,58,62,0.5)" stroke="rgba(214,48,58,0.7)" stroke-width="1.1"/>
<circle cx="324.1" cy="325.1" r="5.65" fill="rgba(224,58,62,0.5)" stroke="rgba(214,48,58,0.7)" stroke-width="1.1"/>
<circle cx="331.0" cy="416.0" r="5.65" fill="rgba(224,58,62,0.5)" stroke="rgba(214,48,58,0.7)" stroke-width="1.1"/>
<circle cx="313.0" cy="406.5" r="5.65" fill="rgba(224,58,62,0.5)" stroke="rgba(214,48,58,0.7)" stroke-width="1.1"/>
<circle cx="341.0" cy="399.5" r="5.65" fill="rgba(224,58,62,0.5)" stroke="rgba(214,48,58,0.7)" stroke-width="1.1"/>
<circle cx="299.6" cy="322.9" r="5.65" fill="rgba(224,58,62,0.5)" stroke="rgba(214,48,58,0.7)" stroke-width="1.1"/>
<circle cx="345.3" cy="287.5" r="5.65" fill="rgba(224,58,62,0.5)" stroke="rgba(214,48,58,0.7)" stroke-width="1.1"/>
<circle cx="298.8" cy="328.8" r="5.65" fill="rgba(224,58,62,0.5)" stroke="rgba(214,48,58,0.7)" stroke-width="1.1"/>
<circle cx="340.1" cy="423.1" r="5.65" fill="rgba(224,58,62,0.5)" stroke="rgba(214,48,58,0.7)" stroke-width="1.1"/>
<circle cx="301.7" cy="422.2" r="5.65" fill="rgba(224,58,62,0.5)" stroke="rgba(214,48,58,0.7)" stroke-width="1.1"/>
<circle cx="303.3" cy="407.7" r="5.65" fill="rgba(224,58,62,0.5)" stroke="rgba(214,48,58,0.7)" stroke-width="1.1"/>
<circle cx="340.2" cy="318.1" r="5.65" fill="rgba(224,58,62,0.5)" stroke="rgba(214,48,58,0.7)" stroke-width="1.1"/>
<circle cx="324.8" cy="363.1" r="5.65" fill="rgba(224,58,62,0.5)" stroke="rgba(214,48,58,0.7)" stroke-width="1.1"/>
<circle cx="327.3" cy="344.1" r="5.65" fill="rgba(224,58,62,0.5)" stroke="rgba(214,48,58,0.7)" stroke-width="1.1"/>
<circle cx="339.3" cy="417.4" r="5.65" fill="rgba(224,58,62,0.5)" stroke="rgba(214,48,58,0.7)" stroke-width="1.1"/>
<circle cx="338.3" cy="348.4" r="5.65" fill="rgba(224,58,62,0.5)" stroke="rgba(214,48,58,0.7)" stroke-width="1.1"/>
<circle cx="301.4" cy="317.4" r="5.65" fill="rgba(224,58,62,0.5)" stroke="rgba(214,48,58,0.7)" stroke-width="1.1"/>
<circle cx="321.8" cy="440.5" r="5.65" fill="rgba(224,58,62,0.5)" stroke="rgba(214,48,58,0.7)" stroke-width="1.1"/>
<circle cx="296.1" cy="341.3" r="5.65" fill="rgba(224,58,62,0.5)" stroke="rgba(214,48,58,0.7)" stroke-width="1.1"/>
<circle cx="340.4" cy="404.4" r="5.65" fill="rgba(224,58,62,0.5)" stroke="rgba(214,48,58,0.7)" stroke-width="1.1"/>
<circle cx="297.7" cy="396.6" r="5.65" fill="rgba(224,58,62,0.5)" stroke="rgba(214,48,58,0.7)" stroke-width="1.1"/>
<circle cx="327.4" cy="430.2" r="5.65" fill="rgba(224,58,62,0.5)" stroke="rgba(214,48,58,0.7)" stroke-width="1.1"/>
<circle cx="342.6" cy="420.8" r="5.65" fill="rgba(224,58,62,0.5)" stroke="rgba(214,48,58,0.7)" stroke-width="1.1"/>
<circle cx="304.1" cy="461.3" r="5.65" fill="rgba(224,58,62,0.5)" stroke="rgba(214,48,58,0.7)" stroke-width="1.1"/>
<circle cx="310.8" cy="406.6" r="5.65" fill="rgba(224,58,62,0.5)" stroke="rgba(214,48,58,0.7)" stroke-width="1.1"/>
<circle cx="321.2" cy="244.2" r="5.65" fill="rgba(224,58,62,0.5)" stroke="rgba(214,48,58,0.7)" stroke-width="1.1"/>
<circle cx="338.1" cy="375.9" r="5.65" fill="rgba(224,58,62,0.5)" stroke="rgba(214,48,58,0.7)" stroke-width="1.1"/>
<circle cx="328.6" cy="357.0" r="5.65" fill="rgba(224,58,62,0.5)" stroke="rgba(214,48,58,0.7)" stroke-width="1.1"/>
<circle cx="321.8" cy="409.9" r="5.65" fill="rgba(224,58,62,0.5)" stroke="rgba(214,48,58,0.7)" stroke-width="1.1"/>
<circle cx="325.1" cy="429.6" r="5.65" fill="rgba(224,58,62,0.5)" stroke="rgba(214,48,58,0.7)" stroke-width="1.1"/>
<circle cx="304.3" cy="392.0" r="5.65" fill="rgba(224,58,62,0.5)" stroke="rgba(214,48,58,0.7)" stroke-width="1.1"/>
<circle cx="297.3" cy="403.4" r="5.65" fill="rgba(224,58,62,0.5)" stroke="rgba(214,48,58,0.7)" stroke-width="1.1"/>
<circle cx="310.3" cy="422.9" r="5.65" fill="rgba(224,58,62,0.5)" stroke="rgba(214,48,58,0.7)" stroke-width="1.1"/>
<circle cx="313.0" cy="267.2" r="5.65" fill="rgba(14,80,138,0.55)" stroke="rgba(8,62,112,0.8)" stroke-width="1.1"/>
<circle cx="331.6" cy="386.8" r="5.65" fill="rgba(14,80,138,0.55)" stroke="rgba(8,62,112,0.8)" stroke-width="1.1"/>
<circle cx="304.3" cy="336.4" r="5.65" fill="rgba(14,80,138,0.55)" stroke="rgba(8,62,112,0.8)" stroke-width="1.1"/>
<circle cx="336.0" cy="396.6" r="5.65" fill="rgba(14,80,138,0.55)" stroke="rgba(8,62,112,0.8)" stroke-width="1.1"/>
<circle cx="302.6" cy="296.8" r="5.65" fill="rgba(14,80,138,0.55)" stroke="rgba(8,62,112,0.8)" stroke-width="1.1"/>
<circle cx="345.9" cy="326.6" r="5.65" fill="rgba(14,80,138,0.55)" stroke="rgba(8,62,112,0.8)" stroke-width="1.1"/>
<circle cx="318.5" cy="353.9" r="5.65" fill="rgba(14,80,138,0.55)" stroke="rgba(8,62,112,0.8)" stroke-width="1.1"/>
<circle cx="328.9" cy="305.5" r="5.65" fill="rgba(14,80,138,0.55)" stroke="rgba(8,62,112,0.8)" stroke-width="1.1"/>
<circle cx="296.6" cy="417.4" r="5.65" fill="rgba(14,80,138,0.55)" stroke="rgba(8,62,112,0.8)" stroke-width="1.1"/>
<circle cx="301.0" cy="405.4" r="5.65" fill="rgba(14,80,138,0.55)" stroke="rgba(8,62,112,0.8)" stroke-width="1.1"/>
<circle cx="323.3" cy="318.6" r="5.65" fill="rgba(14,80,138,0.55)" stroke="rgba(8,62,112,0.8)" stroke-width="1.1"/>
<circle cx="325.1" cy="357.2" r="5.65" fill="rgba(14,80,138,0.55)" stroke="rgba(8,62,112,0.8)" stroke-width="1.1"/>
<circle cx="320.7" cy="361.6" r="5.65" fill="rgba(14,80,138,0.55)" stroke="rgba(8,62,112,0.8)" stroke-width="1.1"/>
<circle cx="310.8" cy="416.4" r="5.65" fill="rgba(14,80,138,0.55)" stroke="rgba(8,62,112,0.8)" stroke-width="1.1"/>
<circle cx="345.6" cy="330.2" r="5.65" fill="rgba(14,80,138,0.55)" stroke="rgba(8,62,112,0.8)" stroke-width="1.1"/>
<circle cx="302.1" cy="312.1" r="5.65" fill="rgba(14,80,138,0.55)" stroke="rgba(8,62,112,0.8)" stroke-width="1.1"/>
<circle cx="339.8" cy="376.7" r="5.65" fill="rgba(14,80,138,0.55)" stroke="rgba(8,62,112,0.8)" stroke-width="1.1"/>
<circle cx="336.0" cy="400.5" r="5.65" fill="rgba(14,80,138,0.55)" stroke="rgba(8,62,112,0.8)" stroke-width="1.1"/>
<circle cx="316.9" cy="280.4" r="5.65" fill="rgba(14,80,138,0.55)" stroke="rgba(8,62,112,0.8)" stroke-width="1.1"/>
<circle cx="347.4" cy="362.0" r="5.65" fill="rgba(14,80,138,0.55)" stroke="rgba(8,62,112,0.8)" stroke-width="1.1"/>
<circle cx="345.9" cy="410.9" r="5.65" fill="rgba(14,80,138,0.55)" stroke="rgba(8,62,112,0.8)" stroke-width="1.1"/>
<circle cx="301.9" cy="383.9" r="5.65" fill="rgba(14,80,138,0.55)" stroke="rgba(8,62,112,0.8)" stroke-width="1.1"/>
<circle cx="303.2" cy="322.2" r="5.65" fill="rgba(14,80,138,0.55)" stroke="rgba(8,62,112,0.8)" stroke-width="1.1"/>
<circle cx="312.8" cy="377.8" r="5.65" fill="rgba(14,80,138,0.55)" stroke="rgba(8,62,112,0.8)" stroke-width="1.1"/>
<circle cx="338.6" cy="355.5" r="5.65" fill="rgba(14,80,138,0.55)" stroke="rgba(8,62,112,0.8)" stroke-width="1.1"/>
<circle cx="302.1" cy="350.7" r="5.65" fill="rgba(14,80,138,0.55)" stroke="rgba(8,62,112,0.8)" stroke-width="1.1"/>
<circle cx="314.1" cy="317.6" r="5.65" fill="rgba(14,80,138,0.55)" stroke="rgba(8,62,112,0.8)" stroke-width="1.1"/>
<circle cx="313.0" cy="337.5" r="5.65" fill="rgba(14,80,138,0.55)" stroke="rgba(8,62,112,0.8)" stroke-width="1.1"/>
<circle cx="307.6" cy="325.3" r="5.65" fill="rgba(14,80,138,0.55)" stroke="rgba(8,62,112,0.8)" stroke-width="1.1"/>
<circle cx="292.0" cy="307.6" r="5.65" fill="rgba(14,80,138,0.55)" stroke="rgba(8,62,112,0.8)" stroke-width="1.1"/>
<circle cx="302.1" cy="388.1" r="5.65" fill="rgba(14,80,138,0.55)" stroke="rgba(8,62,112,0.8)" stroke-width="1.1"/>
<circle cx="302.1" cy="444.9" r="5.65" fill="rgba(14,80,138,0.55)" stroke="rgba(8,62,112,0.8)" stroke-width="1.1"/>
<circle cx="299.6" cy="333.3" r="5.65" fill="rgba(14,80,138,0.55)" stroke="rgba(8,62,112,0.8)" stroke-width="1.1"/>
<circle cx="292.9" cy="329.7" r="5.65" fill="rgba(14,80,138,0.55)" stroke="rgba(8,62,112,0.8)" stroke-width="1.1"/>
<circle cx="313.0" cy="323.3" r="5.65" fill="rgba(14,80,138,0.55)" stroke="rgba(8,62,112,0.8)" stroke-width="1.1"/>
<circle cx="337.1" cy="338.6" r="5.65" fill="rgba(14,80,138,0.55)" stroke="rgba(8,62,112,0.8)" stroke-width="1.1"/>
<circle cx="335.1" cy="312.2" r="5.65" fill="rgba(14,80,138,0.55)" stroke="rgba(8,62,112,0.8)" stroke-width="1.1"/>
<circle cx="344.8" cy="343.0" r="5.65" fill="rgba(14,80,138,0.55)" stroke="rgba(8,62,112,0.8)" stroke-width="1.1"/>
<circle cx="332.7" cy="356.1" r="5.65" fill="rgba(14,80,138,0.55)" stroke="rgba(8,62,112,0.8)" stroke-width="1.1"/>
<circle cx="320.2" cy="291.3" r="5.65" fill="rgba(14,80,138,0.55)" stroke="rgba(8,62,112,0.8)" stroke-width="1.1"/>
<circle cx="320.1" cy="376.2" r="5.65" fill="rgba(14,80,138,0.55)" stroke="rgba(8,62,112,0.8)" stroke-width="1.1"/>
<circle cx="307.6" cy="386.8" r="5.65" fill="rgba(14,80,138,0.55)" stroke="rgba(8,62,112,0.8)" stroke-width="1.1"/>
<circle cx="322.9" cy="325.5" r="5.65" fill="rgba(14,80,138,0.55)" stroke="rgba(8,62,112,0.8)" stroke-width="1.1"/>
<circle cx="321.8" cy="414.2" r="5.65" fill="rgba(14,80,138,0.55)" stroke="rgba(8,62,112,0.8)" stroke-width="1.1"/>
<circle cx="301.5" cy="406.0" r="5.65" fill="rgba(14,80,138,0.55)" stroke="rgba(8,62,112,0.8)" stroke-width="1.1"/>
<circle cx="336.6" cy="253.0" r="5.65" fill="rgba(14,80,138,0.55)" stroke="rgba(8,62,112,0.8)" stroke-width="1.1"/>
<circle cx="299.9" cy="374.7" r="5.65" fill="rgba(14,80,138,0.55)" stroke="rgba(8,62,112,0.8)" stroke-width="1.1"/>
<circle cx="322.9" cy="378.0" r="5.65" fill="rgba(14,80,138,0.55)" stroke="rgba(8,62,112,0.8)" stroke-width="1.1"/>
<circle cx="311.9" cy="348.5" r="5.65" fill="rgba(14,80,138,0.55)" stroke="rgba(8,62,112,0.8)" stroke-width="1.1"/>
<circle cx="305.4" cy="374.7" r="5.65" fill="rgba(14,80,138,0.55)" stroke="rgba(8,62,112,0.8)" stroke-width="1.1"/>
<circle cx="332.7" cy="375.8" r="5.65" fill="rgba(14,80,138,0.55)" stroke="rgba(8,62,112,0.8)" stroke-width="1.1"/>
<circle cx="317.4" cy="393.4" r="5.65" fill="rgba(14,80,138,0.55)" stroke="rgba(8,62,112,0.8)" stroke-width="1.1"/>
<circle cx="331.6" cy="369.3" r="5.65" fill="rgba(14,80,138,0.55)" stroke="rgba(8,62,112,0.8)" stroke-width="1.1"/>
<circle cx="297.7" cy="337.5" r="5.65" fill="rgba(14,80,138,0.55)" stroke="rgba(8,62,112,0.8)" stroke-width="1.1"/>
<circle cx="345.9" cy="325.3" r="5.65" fill="rgba(14,80,138,0.55)" stroke="rgba(8,62,112,0.8)" stroke-width="1.1"/>
<circle cx="319.6" cy="326.4" r="5.65" fill="rgba(14,80,138,0.55)" stroke="rgba(8,62,112,0.8)" stroke-width="1.1"/>
<circle cx="323.2" cy="302.9" r="5.65" fill="rgba(14,80,138,0.55)" stroke="rgba(8,62,112,0.8)" stroke-width="1.1"/>
<circle cx="304.1" cy="258.2" r="5.65" fill="rgba(14,80,138,0.55)" stroke="rgba(8,62,112,0.8)" stroke-width="1.1"/>
<circle cx="295.5" cy="309.9" r="5.65" fill="rgba(14,80,138,0.55)" stroke="rgba(8,62,112,0.8)" stroke-width="1.1"/>
<circle cx="321.8" cy="317.6" r="5.65" fill="rgba(14,80,138,0.55)" stroke="rgba(8,62,112,0.8)" stroke-width="1.1"/>
<circle cx="343.7" cy="380.2" r="5.65" fill="rgba(14,80,138,0.55)" stroke="rgba(8,62,112,0.8)" stroke-width="1.1"/>
<circle cx="340.4" cy="348.5" r="5.65" fill="rgba(14,80,138,0.55)" stroke="rgba(8,62,112,0.8)" stroke-width="1.1"/>
<circle cx="315.2" cy="370.4" r="5.65" fill="rgba(14,80,138,0.55)" stroke="rgba(8,62,112,0.8)" stroke-width="1.1"/>
<circle cx="342.6" cy="309.9" r="5.65" fill="rgba(14,80,138,0.55)" stroke="rgba(8,62,112,0.8)" stroke-width="1.1"/>
<circle cx="339.9" cy="310.3" r="5.65" fill="rgba(14,80,138,0.55)" stroke="rgba(8,62,112,0.8)" stroke-width="1.1"/>
<circle cx="297.3" cy="347.7" r="5.65" fill="rgba(14,80,138,0.55)" stroke="rgba(8,62,112,0.8)" stroke-width="1.1"/>
<circle cx="303.9" cy="350.1" r="5.65" fill="rgba(14,80,138,0.55)" stroke="rgba(8,62,112,0.8)" stroke-width="1.1"/>
<circle cx="295.5" cy="299.0" r="5.65" fill="rgba(14,80,138,0.55)" stroke="rgba(8,62,112,0.8)" stroke-width="1.1"/>
<circle cx="310.8" cy="418.6" r="5.65" fill="rgba(14,80,138,0.55)" stroke="rgba(8,62,112,0.8)" stroke-width="1.1"/>
<circle cx="293.3" cy="357.7" r="5.65" fill="rgba(14,80,138,0.55)" stroke="rgba(8,62,112,0.8)" stroke-width="1.1"/>
<circle cx="306.5" cy="397.7" r="5.65" fill="rgba(14,80,138,0.55)" stroke="rgba(8,62,112,0.8)" stroke-width="1.1"/>
<circle cx="297.7" cy="384.6" r="5.65" fill="rgba(14,80,138,0.55)" stroke="rgba(8,62,112,0.8)" stroke-width="1.1"/>
<circle cx="328.3" cy="318.1" r="5.65" fill="rgba(14,80,138,0.55)" stroke="rgba(8,62,112,0.8)" stroke-width="1.1"/>
<circle cx="318.7" cy="301.3" r="5.65" fill="rgba(14,80,138,0.55)" stroke="rgba(8,62,112,0.8)" stroke-width="1.1"/>
<circle cx="307.6" cy="391.2" r="5.65" fill="rgba(14,80,138,0.55)" stroke="rgba(8,62,112,0.8)" stroke-width="1.1"/>
<circle cx="326.2" cy="417.5" r="5.65" fill="rgba(14,80,138,0.55)" stroke="rgba(8,62,112,0.8)" stroke-width="1.1"/>
<circle cx="303.2" cy="319.8" r="5.65" fill="rgba(14,80,138,0.55)" stroke="rgba(8,62,112,0.8)" stroke-width="1.1"/>
<circle cx="312.9" cy="339.7" r="5.65" fill="rgba(14,80,138,0.55)" stroke="rgba(8,62,112,0.8)" stroke-width="1.1"/>
<circle cx="296.6" cy="420.3" r="5.65" fill="rgba(14,80,138,0.55)" stroke="rgba(8,62,112,0.8)" stroke-width="1.1"/>
<circle cx="316.9" cy="426.8" r="5.65" fill="rgba(14,80,138,0.55)" stroke="rgba(8,62,112,0.8)" stroke-width="1.1"/>
<circle cx="311.4" cy="291.3" r="5.65" fill="rgba(14,80,138,0.55)" stroke="rgba(8,62,112,0.8)" stroke-width="1.1"/>
<circle cx="308.1" cy="336.9" r="5.65" fill="rgba(14,80,138,0.55)" stroke="rgba(8,62,112,0.8)" stroke-width="1.1"/>
<circle cx="459.6" cy="364.6" r="5.65" fill="rgba(224,58,62,0.5)" stroke="rgba(214,48,58,0.7)" stroke-width="1.1"/>
<circle cx="452.0" cy="252.7" r="5.65" fill="rgba(224,58,62,0.5)" stroke="rgba(214,48,58,0.7)" stroke-width="1.1"/>
<circle cx="461.8" cy="371.1" r="5.65" fill="rgba(224,58,62,0.5)" stroke="rgba(214,48,58,0.7)" stroke-width="1.1"/>
<circle cx="451.2" cy="277.7" r="5.65" fill="rgba(224,58,62,0.5)" stroke="rgba(214,48,58,0.7)" stroke-width="1.1"/>
<circle cx="476.6" cy="436.7" r="5.65" fill="rgba(224,58,62,0.5)" stroke="rgba(214,48,58,0.7)" stroke-width="1.1"/>
<circle cx="437.2" cy="238.8" r="5.65" fill="rgba(224,58,62,0.5)" stroke="rgba(214,48,58,0.7)" stroke-width="1.1"/>
<circle cx="453.0" cy="422.6" r="5.65" fill="rgba(224,58,62,0.5)" stroke="rgba(214,48,58,0.7)" stroke-width="1.1"/>
<circle cx="447.1" cy="310.1" r="5.65" fill="rgba(224,58,62,0.5)" stroke="rgba(214,48,58,0.7)" stroke-width="1.1"/>
<circle cx="475.7" cy="343.3" r="5.65" fill="rgba(224,58,62,0.5)" stroke="rgba(214,48,58,0.7)" stroke-width="1.1"/>
<circle cx="453.9" cy="207.8" r="5.65" fill="rgba(224,58,62,0.5)" stroke="rgba(214,48,58,0.7)" stroke-width="1.1"/>
<circle cx="476.8" cy="169.8" r="5.65" fill="rgba(224,58,62,0.5)" stroke="rgba(214,48,58,0.7)" stroke-width="1.1"/>
<circle cx="439.3" cy="344.9" r="5.65" fill="rgba(224,58,62,0.5)" stroke="rgba(214,48,58,0.7)" stroke-width="1.1"/>
<circle cx="450.4" cy="320.0" r="5.65" fill="rgba(224,58,62,0.5)" stroke="rgba(214,48,58,0.7)" stroke-width="1.1"/>
<circle cx="460.7" cy="417.1" r="5.65" fill="rgba(224,58,62,0.5)" stroke="rgba(214,48,58,0.7)" stroke-width="1.1"/>
<circle cx="479.3" cy="385.1" r="5.65" fill="rgba(224,58,62,0.5)" stroke="rgba(214,48,58,0.7)" stroke-width="1.1"/>
<circle cx="463.1" cy="368.1" r="5.65" fill="rgba(224,58,62,0.5)" stroke="rgba(214,48,58,0.7)" stroke-width="1.1"/>
<circle cx="441.5" cy="241.5" r="5.65" fill="rgba(224,58,62,0.5)" stroke="rgba(214,48,58,0.7)" stroke-width="1.1"/>
<circle cx="439.6" cy="387.4" r="5.65" fill="rgba(224,58,62,0.5)" stroke="rgba(214,48,58,0.7)" stroke-width="1.1"/>
<circle cx="456.3" cy="379.9" r="5.65" fill="rgba(224,58,62,0.5)" stroke="rgba(214,48,58,0.7)" stroke-width="1.1"/>
<circle cx="458.0" cy="292.0" r="5.65" fill="rgba(224,58,62,0.5)" stroke="rgba(214,48,58,0.7)" stroke-width="1.1"/>
<circle cx="445.4" cy="319.5" r="5.65" fill="rgba(224,58,62,0.5)" stroke="rgba(214,48,58,0.7)" stroke-width="1.1"/>
<circle cx="483.9" cy="303.1" r="5.65" fill="rgba(224,58,62,0.5)" stroke="rgba(214,48,58,0.7)" stroke-width="1.1"/>
<circle cx="439.9" cy="297.6" r="5.65" fill="rgba(224,58,62,0.5)" stroke="rgba(214,48,58,0.7)" stroke-width="1.1"/>
<circle cx="465.8" cy="401.5" r="5.65" fill="rgba(224,58,62,0.5)" stroke="rgba(214,48,58,0.7)" stroke-width="1.1"/>
<circle cx="436.9" cy="323.0" r="5.65" fill="rgba(224,58,62,0.5)" stroke="rgba(214,48,58,0.7)" stroke-width="1.1"/>
<circle cx="437.8" cy="262.8" r="5.65" fill="rgba(224,58,62,0.5)" stroke="rgba(214,48,58,0.7)" stroke-width="1.1"/>
<circle cx="437.6" cy="391.6" r="5.65" fill="rgba(224,58,62,0.5)" stroke="rgba(214,48,58,0.7)" stroke-width="1.1"/>
<circle cx="487.0" cy="429.2" r="5.65" fill="rgba(224,58,62,0.5)" stroke="rgba(214,48,58,0.7)" stroke-width="1.1"/>
<circle cx="480.4" cy="414.9" r="5.65" fill="rgba(224,58,62,0.5)" stroke="rgba(214,48,58,0.7)" stroke-width="1.1"/>
<circle cx="441.5" cy="249.2" r="5.65" fill="rgba(224,58,62,0.5)" stroke="rgba(214,48,58,0.7)" stroke-width="1.1"/>
<circle cx="435.5" cy="418.2" r="5.65" fill="rgba(224,58,62,0.5)" stroke="rgba(214,48,58,0.7)" stroke-width="1.1"/>
<circle cx="456.6" cy="368.1" r="5.65" fill="rgba(224,58,62,0.5)" stroke="rgba(214,48,58,0.7)" stroke-width="1.1"/>
<circle cx="437.4" cy="339.5" r="5.65" fill="rgba(224,58,62,0.5)" stroke="rgba(214,48,58,0.7)" stroke-width="1.1"/>
<circle cx="445.5" cy="312.1" r="5.65" fill="rgba(224,58,62,0.5)" stroke="rgba(214,48,58,0.7)" stroke-width="1.1"/>
<circle cx="454.0" cy="409.6" r="5.65" fill="rgba(224,58,62,0.5)" stroke="rgba(214,48,58,0.7)" stroke-width="1.1"/>
<circle cx="435.5" cy="348.1" r="5.65" fill="rgba(224,58,62,0.5)" stroke="rgba(214,48,58,0.7)" stroke-width="1.1"/>
<circle cx="429.0" cy="307.8" r="5.65" fill="rgba(224,58,62,0.5)" stroke="rgba(214,48,58,0.7)" stroke-width="1.1"/>
<circle cx="445.9" cy="340.2" r="5.65" fill="rgba(224,58,62,0.5)" stroke="rgba(214,48,58,0.7)" stroke-width="1.1"/>
<circle cx="435.5" cy="284.4" r="5.65" fill="rgba(224,58,62,0.5)" stroke="rgba(214,48,58,0.7)" stroke-width="1.1"/>
<circle cx="467.3" cy="308.5" r="5.65" fill="rgba(224,58,62,0.5)" stroke="rgba(214,48,58,0.7)" stroke-width="1.1"/>
<circle cx="439.8" cy="299.4" r="5.65" fill="rgba(224,58,62,0.5)" stroke="rgba(214,48,58,0.7)" stroke-width="1.1"/>
<circle cx="436.9" cy="272.6" r="5.65" fill="rgba(224,58,62,0.5)" stroke="rgba(214,48,58,0.7)" stroke-width="1.1"/>
<circle cx="487.0" cy="390.8" r="5.65" fill="rgba(224,58,62,0.5)" stroke="rgba(214,48,58,0.7)" stroke-width="1.1"/>
<circle cx="477.9" cy="408.6" r="5.65" fill="rgba(224,58,62,0.5)" stroke="rgba(214,48,58,0.7)" stroke-width="1.1"/>
<circle cx="438.8" cy="400.7" r="5.65" fill="rgba(224,58,62,0.5)" stroke="rgba(214,48,58,0.7)" stroke-width="1.1"/>
<circle cx="433.3" cy="308.9" r="5.65" fill="rgba(224,58,62,0.5)" stroke="rgba(214,48,58,0.7)" stroke-width="1.1"/>
<circle cx="462.9" cy="252.7" r="5.65" fill="rgba(224,58,62,0.5)" stroke="rgba(214,48,58,0.7)" stroke-width="1.1"/>
<circle cx="439.9" cy="422.6" r="5.65" fill="rgba(224,58,62,0.5)" stroke="rgba(214,48,58,0.7)" stroke-width="1.1"/>
<circle cx="456.3" cy="313.8" r="5.65" fill="rgba(224,58,62,0.5)" stroke="rgba(214,48,58,0.7)" stroke-width="1.1"/>
<circle cx="457.8" cy="279.0" r="5.65" fill="rgba(224,58,62,0.5)" stroke="rgba(214,48,58,0.7)" stroke-width="1.1"/>
<circle cx="485.9" cy="245.9" r="5.65" fill="rgba(224,58,62,0.5)" stroke="rgba(214,48,58,0.7)" stroke-width="1.1"/>
<circle cx="452.4" cy="316.2" r="5.65" fill="rgba(224,58,62,0.5)" stroke="rgba(214,48,58,0.7)" stroke-width="1.1"/>
<circle cx="457.4" cy="295.9" r="5.65" fill="rgba(224,58,62,0.5)" stroke="rgba(214,48,58,0.7)" stroke-width="1.1"/>
<circle cx="473.8" cy="394.1" r="5.65" fill="rgba(224,58,62,0.5)" stroke="rgba(214,48,58,0.7)" stroke-width="1.1"/>
<circle cx="485.9" cy="249.2" r="5.65" fill="rgba(224,58,62,0.5)" stroke="rgba(214,48,58,0.7)" stroke-width="1.1"/>
<circle cx="449.2" cy="245.9" r="5.65" fill="rgba(224,58,62,0.5)" stroke="rgba(214,48,58,0.7)" stroke-width="1.1"/>
<circle cx="455.0" cy="420.0" r="5.65" fill="rgba(224,58,62,0.5)" stroke="rgba(214,48,58,0.7)" stroke-width="1.1"/>
<circle cx="459.0" cy="402.9" r="5.65" fill="rgba(224,58,62,0.5)" stroke="rgba(214,48,58,0.7)" stroke-width="1.1"/>
<circle cx="479.8" cy="300.4" r="5.65" fill="rgba(224,58,62,0.5)" stroke="rgba(214,48,58,0.7)" stroke-width="1.1"/>
<circle cx="474.9" cy="304.1" r="5.65" fill="rgba(224,58,62,0.5)" stroke="rgba(214,48,58,0.7)" stroke-width="1.1"/>
<circle cx="444.6" cy="302.4" r="5.65" fill="rgba(224,58,62,0.5)" stroke="rgba(214,48,58,0.7)" stroke-width="1.1"/>
<circle cx="441.5" cy="322.1" r="5.65" fill="rgba(224,58,62,0.5)" stroke="rgba(214,48,58,0.7)" stroke-width="1.1"/>
<circle cx="479.3" cy="339.2" r="5.65" fill="rgba(224,58,62,0.5)" stroke="rgba(214,48,58,0.7)" stroke-width="1.1"/>
<circle cx="438.2" cy="365.7" r="5.65" fill="rgba(224,58,62,0.5)" stroke="rgba(214,48,58,0.7)" stroke-width="1.1"/>
<circle cx="441.5" cy="266.9" r="5.65" fill="rgba(224,58,62,0.5)" stroke="rgba(214,48,58,0.7)" stroke-width="1.1"/>
<circle cx="438.9" cy="268.3" r="5.65" fill="rgba(224,58,62,0.5)" stroke="rgba(214,48,58,0.7)" stroke-width="1.1"/>
<circle cx="463.7" cy="393.4" r="5.65" fill="rgba(224,58,62,0.5)" stroke="rgba(214,48,58,0.7)" stroke-width="1.1"/>
<circle cx="480.4" cy="402.9" r="5.65" fill="rgba(224,58,62,0.5)" stroke="rgba(214,48,58,0.7)" stroke-width="1.1"/>
<circle cx="459.2" cy="387.6" r="5.65" fill="rgba(224,58,62,0.5)" stroke="rgba(214,48,58,0.7)" stroke-width="1.1"/>
<circle cx="480.5" cy="287.4" r="5.65" fill="rgba(224,58,62,0.5)" stroke="rgba(214,48,58,0.7)" stroke-width="1.1"/>
<circle cx="471.7" cy="411.6" r="5.65" fill="rgba(224,58,62,0.5)" stroke="rgba(214,48,58,0.7)" stroke-width="1.1"/>
<circle cx="442.1" cy="304.1" r="5.65" fill="rgba(224,58,62,0.5)" stroke="rgba(214,48,58,0.7)" stroke-width="1.1"/>
<circle cx="468.4" cy="339.2" r="5.65" fill="rgba(224,58,62,0.5)" stroke="rgba(214,48,58,0.7)" stroke-width="1.1"/>
<circle cx="446.5" cy="334.8" r="5.65" fill="rgba(224,58,62,0.5)" stroke="rgba(214,48,58,0.7)" stroke-width="1.1"/>
<circle cx="485.9" cy="308.0" r="5.65" fill="rgba(224,58,62,0.5)" stroke="rgba(214,48,58,0.7)" stroke-width="1.1"/>
<circle cx="459.7" cy="410.7" r="5.65" fill="rgba(224,58,62,0.5)" stroke="rgba(214,48,58,0.7)" stroke-width="1.1"/>
<circle cx="449.8" cy="252.5" r="5.65" fill="rgba(224,58,62,0.5)" stroke="rgba(214,48,58,0.7)" stroke-width="1.1"/>
<circle cx="455.2" cy="242.6" r="5.65" fill="rgba(224,58,62,0.5)" stroke="rgba(214,48,58,0.7)" stroke-width="1.1"/>
<circle cx="472.7" cy="363.5" r="5.65" fill="rgba(224,58,62,0.5)" stroke="rgba(214,48,58,0.7)" stroke-width="1.1"/>
<circle cx="436.6" cy="396.0" r="5.65" fill="rgba(224,58,62,0.5)" stroke="rgba(214,48,58,0.7)" stroke-width="1.1"/>
<circle cx="446.7" cy="438.3" r="5.65" fill="rgba(224,58,62,0.5)" stroke="rgba(214,48,58,0.7)" stroke-width="1.1"/>
<circle cx="445.4" cy="354.7" r="5.65" fill="rgba(224,58,62,0.5)" stroke="rgba(214,48,58,0.7)" stroke-width="1.1"/>
<circle cx="464.0" cy="248.1" r="5.65" fill="rgba(224,58,62,0.5)" stroke="rgba(214,48,58,0.7)" stroke-width="1.1"/>
<circle cx="437.2" cy="262.5" r="5.65" fill="rgba(224,58,62,0.5)" stroke="rgba(214,48,58,0.7)" stroke-width="1.1"/>
<circle cx="468.9" cy="442.2" r="5.65" fill="rgba(224,58,62,0.5)" stroke="rgba(214,48,58,0.7)" stroke-width="1.1"/>
<circle cx="471.9" cy="406.4" r="5.65" fill="rgba(224,58,62,0.5)" stroke="rgba(214,48,58,0.7)" stroke-width="1.1"/>
<circle cx="435.0" cy="203.7" r="5.65" fill="rgba(224,58,62,0.5)" stroke="rgba(214,48,58,0.7)" stroke-width="1.1"/>
<circle cx="441.0" cy="312.9" r="5.65" fill="rgba(14,80,138,0.55)" stroke="rgba(8,62,112,0.8)" stroke-width="1.1"/>
<circle cx="470.8" cy="230.6" r="5.65" fill="rgba(14,80,138,0.55)" stroke="rgba(8,62,112,0.8)" stroke-width="1.1"/>
<circle cx="468.4" cy="332.6" r="5.65" fill="rgba(14,80,138,0.55)" stroke="rgba(8,62,112,0.8)" stroke-width="1.1"/>
<circle cx="432.3" cy="296.0" r="5.65" fill="rgba(14,80,138,0.55)" stroke="rgba(8,62,112,0.8)" stroke-width="1.1"/>
<circle cx="478.8" cy="283.9" r="5.65" fill="rgba(14,80,138,0.55)" stroke="rgba(8,62,112,0.8)" stroke-width="1.1"/>
<circle cx="471.7" cy="252.5" r="5.65" fill="rgba(14,80,138,0.55)" stroke="rgba(8,62,112,0.8)" stroke-width="1.1"/>
<circle cx="453.0" cy="406.2" r="5.65" fill="rgba(14,80,138,0.55)" stroke="rgba(8,62,112,0.8)" stroke-width="1.1"/>
<circle cx="482.6" cy="355.8" r="5.65" fill="rgba(14,80,138,0.55)" stroke="rgba(8,62,112,0.8)" stroke-width="1.1"/>
<circle cx="470.6" cy="266.4" r="5.65" fill="rgba(14,80,138,0.55)" stroke="rgba(8,62,112,0.8)" stroke-width="1.1"/>
<circle cx="443.2" cy="367.5" r="5.65" fill="rgba(14,80,138,0.55)" stroke="rgba(8,62,112,0.8)" stroke-width="1.1"/>
<circle cx="483.7" cy="326.0" r="5.65" fill="rgba(14,80,138,0.55)" stroke="rgba(8,62,112,0.8)" stroke-width="1.1"/>
<circle cx="450.8" cy="344.9" r="5.65" fill="rgba(14,80,138,0.55)" stroke="rgba(8,62,112,0.8)" stroke-width="1.1"/>
<circle cx="455.2" cy="393.0" r="5.65" fill="rgba(14,80,138,0.55)" stroke="rgba(8,62,112,0.8)" stroke-width="1.1"/>
<circle cx="484.8" cy="337.7" r="5.65" fill="rgba(14,80,138,0.55)" stroke="rgba(8,62,112,0.8)" stroke-width="1.1"/>
<circle cx="434.5" cy="262.0" r="5.65" fill="rgba(14,80,138,0.55)" stroke="rgba(8,62,112,0.8)" stroke-width="1.1"/>
<circle cx="486.4" cy="313.7" r="5.65" fill="rgba(14,80,138,0.55)" stroke="rgba(8,62,112,0.8)" stroke-width="1.1"/>
<circle cx="474.9" cy="197.2" r="5.65" fill="rgba(14,80,138,0.55)" stroke="rgba(8,62,112,0.8)" stroke-width="1.1"/>
<circle cx="461.8" cy="337.7" r="5.65" fill="rgba(14,80,138,0.55)" stroke="rgba(8,62,112,0.8)" stroke-width="1.1"/>
<circle cx="448.7" cy="287.7" r="5.65" fill="rgba(14,80,138,0.55)" stroke="rgba(8,62,112,0.8)" stroke-width="1.1"/>
<circle cx="483.7" cy="299.2" r="5.65" fill="rgba(14,80,138,0.55)" stroke="rgba(8,62,112,0.8)" stroke-width="1.1"/>
<circle cx="472.7" cy="406.2" r="5.65" fill="rgba(14,80,138,0.55)" stroke="rgba(8,62,112,0.8)" stroke-width="1.1"/>
<circle cx="439.9" cy="292.1" r="5.65" fill="rgba(14,80,138,0.55)" stroke="rgba(8,62,112,0.8)" stroke-width="1.1"/>
<circle cx="431.9" cy="277.5" r="5.65" fill="rgba(14,80,138,0.55)" stroke="rgba(8,62,112,0.8)" stroke-width="1.1"/>
<circle cx="457.3" cy="279.0" r="5.65" fill="rgba(14,80,138,0.55)" stroke="rgba(8,62,112,0.8)" stroke-width="1.1"/>
<circle cx="435.5" cy="363.5" r="5.65" fill="rgba(14,80,138,0.55)" stroke="rgba(8,62,112,0.8)" stroke-width="1.1"/>
<circle cx="464.0" cy="353.6" r="5.65" fill="rgba(14,80,138,0.55)" stroke="rgba(8,62,112,0.8)" stroke-width="1.1"/>
<circle cx="447.6" cy="373.3" r="5.65" fill="rgba(14,80,138,0.55)" stroke="rgba(8,62,112,0.8)" stroke-width="1.1"/>
<circle cx="456.3" cy="332.6" r="5.65" fill="rgba(14,80,138,0.55)" stroke="rgba(8,62,112,0.8)" stroke-width="1.1"/>
<circle cx="443.1" cy="267.7" r="5.65" fill="rgba(14,80,138,0.55)" stroke="rgba(8,62,112,0.8)" stroke-width="1.1"/>
<circle cx="456.9" cy="276.8" r="5.65" fill="rgba(14,80,138,0.55)" stroke="rgba(8,62,112,0.8)" stroke-width="1.1"/>
<circle cx="445.4" cy="282.2" r="5.65" fill="rgba(14,80,138,0.55)" stroke="rgba(8,62,112,0.8)" stroke-width="1.1"/>
<circle cx="461.8" cy="326.0" r="5.65" fill="rgba(14,80,138,0.55)" stroke="rgba(8,62,112,0.8)" stroke-width="1.1"/>
<circle cx="472.7" cy="341.4" r="5.65" fill="rgba(14,80,138,0.55)" stroke="rgba(8,62,112,0.8)" stroke-width="1.1"/>
<circle cx="456.3" cy="337.2" r="5.65" fill="rgba(14,80,138,0.55)" stroke="rgba(8,62,112,0.8)" stroke-width="1.1"/>
<circle cx="479.3" cy="233.3" r="5.65" fill="rgba(14,80,138,0.55)" stroke="rgba(8,62,112,0.8)" stroke-width="1.1"/>
<circle cx="472.7" cy="344.9" r="5.65" fill="rgba(14,80,138,0.55)" stroke="rgba(8,62,112,0.8)" stroke-width="1.1"/>
<circle cx="474.9" cy="323.8" r="5.65" fill="rgba(14,80,138,0.55)" stroke="rgba(8,62,112,0.8)" stroke-width="1.1"/>
<circle cx="483.9" cy="278.5" r="5.65" fill="rgba(14,80,138,0.55)" stroke="rgba(8,62,112,0.8)" stroke-width="1.1"/>
<circle cx="459.1" cy="268.0" r="5.65" fill="rgba(14,80,138,0.55)" stroke="rgba(8,62,112,0.8)" stroke-width="1.1"/>
<circle cx="468.4" cy="298.7" r="5.65" fill="rgba(14,80,138,0.55)" stroke="rgba(8,62,112,0.8)" stroke-width="1.1"/>
<circle cx="484.2" cy="303.0" r="5.65" fill="rgba(14,80,138,0.55)" stroke="rgba(8,62,112,0.8)" stroke-width="1.1"/>
<circle cx="442.1" cy="323.8" r="5.65" fill="rgba(14,80,138,0.55)" stroke="rgba(8,62,112,0.8)" stroke-width="1.1"/>
<circle cx="471.1" cy="257.0" r="5.65" fill="rgba(14,80,138,0.55)" stroke="rgba(8,62,112,0.8)" stroke-width="1.1"/>
<circle cx="484.8" cy="333.7" r="5.65" fill="rgba(14,80,138,0.55)" stroke="rgba(8,62,112,0.8)" stroke-width="1.1"/>
<circle cx="436.6" cy="332.6" r="5.65" fill="rgba(14,80,138,0.55)" stroke="rgba(8,62,112,0.8)" stroke-width="1.1"/>
<circle cx="434.4" cy="308.5" r="5.65" fill="rgba(14,80,138,0.55)" stroke="rgba(8,62,112,0.8)" stroke-width="1.1"/>
<circle cx="450.8" cy="361.3" r="5.65" fill="rgba(14,80,138,0.55)" stroke="rgba(8,62,112,0.8)" stroke-width="1.1"/>
<circle cx="486.5" cy="334.1" r="5.65" fill="rgba(14,80,138,0.55)" stroke="rgba(8,62,112,0.8)" stroke-width="1.1"/>
<circle cx="445.4" cy="387.6" r="5.65" fill="rgba(14,80,138,0.55)" stroke="rgba(8,62,112,0.8)" stroke-width="1.1"/>
<circle cx="456.3" cy="412.7" r="5.65" fill="rgba(14,80,138,0.55)" stroke="rgba(8,62,112,0.8)" stroke-width="1.1"/>
<circle cx="475.7" cy="419.3" r="5.65" fill="rgba(14,80,138,0.55)" stroke="rgba(8,62,112,0.8)" stroke-width="1.1"/>
<circle cx="446.3" cy="319.7" r="5.65" fill="rgba(14,80,138,0.55)" stroke="rgba(8,62,112,0.8)" stroke-width="1.1"/>
<circle cx="441.5" cy="275.1" r="5.65" fill="rgba(14,80,138,0.55)" stroke="rgba(8,62,112,0.8)" stroke-width="1.1"/>
<circle cx="454.1" cy="324.9" r="5.65" fill="rgba(14,80,138,0.55)" stroke="rgba(8,62,112,0.8)" stroke-width="1.1"/>
<circle cx="473.1" cy="339.2" r="5.65" fill="rgba(14,80,138,0.55)" stroke="rgba(8,62,112,0.8)" stroke-width="1.1"/>
<circle cx="432.2" cy="393.0" r="5.65" fill="rgba(14,80,138,0.55)" stroke="rgba(8,62,112,0.8)" stroke-width="1.1"/>
<circle cx="452.6" cy="412.4" r="5.65" fill="rgba(14,80,138,0.55)" stroke="rgba(8,62,112,0.8)" stroke-width="1.1"/>
<circle cx="452.9" cy="417.1" r="5.65" fill="rgba(14,80,138,0.55)" stroke="rgba(8,62,112,0.8)" stroke-width="1.1"/>
<circle cx="432.2" cy="376.6" r="5.65" fill="rgba(14,80,138,0.55)" stroke="rgba(8,62,112,0.8)" stroke-width="1.1"/>
<circle cx="450.8" cy="312.9" r="5.65" fill="rgba(14,80,138,0.55)" stroke="rgba(8,62,112,0.8)" stroke-width="1.1"/>
<circle cx="459.1" cy="426.4" r="5.65" fill="rgba(14,80,138,0.55)" stroke="rgba(8,62,112,0.8)" stroke-width="1.1"/>
<circle cx="454.8" cy="416.6" r="5.65" fill="rgba(14,80,138,0.55)" stroke="rgba(8,62,112,0.8)" stroke-width="1.1"/>
<circle cx="435.0" cy="196.1" r="5.65" fill="rgba(14,80,138,0.55)" stroke="rgba(8,62,112,0.8)" stroke-width="1.1"/>
<circle cx="479.9" cy="316.2" r="5.65" fill="rgba(14,80,138,0.55)" stroke="rgba(8,62,112,0.8)" stroke-width="1.1"/>
<circle cx="433.7" cy="380.1" r="5.65" fill="rgba(14,80,138,0.55)" stroke="rgba(8,62,112,0.8)" stroke-width="1.1"/>
<circle cx="452.4" cy="367.0" r="5.65" fill="rgba(14,80,138,0.55)" stroke="rgba(8,62,112,0.8)" stroke-width="1.1"/>
<circle cx="439.1" cy="304.4" r="5.65" fill="rgba(14,80,138,0.55)" stroke="rgba(8,62,112,0.8)" stroke-width="1.1"/>
<circle cx="481.5" cy="370.0" r="5.65" fill="rgba(14,80,138,0.55)" stroke="rgba(8,62,112,0.8)" stroke-width="1.1"/>
<circle cx="478.2" cy="316.2" r="5.65" fill="rgba(14,80,138,0.55)" stroke="rgba(8,62,112,0.8)" stroke-width="1.1"/>
<circle cx="431.7" cy="273.5" r="5.65" fill="rgba(14,80,138,0.55)" stroke="rgba(8,62,112,0.8)" stroke-width="1.1"/>
<circle cx="439.9" cy="348.1" r="5.65" fill="rgba(14,80,138,0.55)" stroke="rgba(8,62,112,0.8)" stroke-width="1.1"/>
<circle cx="485.3" cy="298.1" r="5.65" fill="rgba(14,80,138,0.55)" stroke="rgba(8,62,112,0.8)" stroke-width="1.1"/>
<circle cx="465.1" cy="405.1" r="5.65" fill="rgba(14,80,138,0.55)" stroke="rgba(8,62,112,0.8)" stroke-width="1.1"/>
<circle cx="439.3" cy="287.3" r="5.65" fill="rgba(14,80,138,0.55)" stroke="rgba(8,62,112,0.8)" stroke-width="1.1"/>
<circle cx="469.5" cy="378.8" r="5.65" fill="rgba(14,80,138,0.55)" stroke="rgba(8,62,112,0.8)" stroke-width="1.1"/>
<circle cx="437.7" cy="339.2" r="5.65" fill="rgba(14,80,138,0.55)" stroke="rgba(8,62,112,0.8)" stroke-width="1.1"/>
<circle cx="464.0" cy="387.6" r="5.65" fill="rgba(14,80,138,0.55)" stroke="rgba(8,62,112,0.8)" stroke-width="1.1"/>
<circle cx="437.7" cy="394.1" r="5.65" fill="rgba(14,80,138,0.55)" stroke="rgba(8,62,112,0.8)" stroke-width="1.1"/>
<circle cx="469.5" cy="315.1" r="5.65" fill="rgba(14,80,138,0.55)" stroke="rgba(8,62,112,0.8)" stroke-width="1.1"/>
<circle cx="470.0" cy="235.5" r="5.65" fill="rgba(14,80,138,0.55)" stroke="rgba(8,62,112,0.8)" stroke-width="1.1"/>
<circle cx="432.2" cy="291.0" r="5.65" fill="rgba(14,80,138,0.55)" stroke="rgba(8,62,112,0.8)" stroke-width="1.1"/>
<circle cx="458.5" cy="284.4" r="5.65" fill="rgba(14,80,138,0.55)" stroke="rgba(8,62,112,0.8)" stroke-width="1.1"/>
<circle cx="450.8" cy="341.4" r="5.65" fill="rgba(14,80,138,0.55)" stroke="rgba(8,62,112,0.8)" stroke-width="1.1"/>
<circle cx="462.4" cy="301.4" r="5.65" fill="rgba(14,80,138,0.55)" stroke="rgba(8,62,112,0.8)" stroke-width="1.1"/>
<circle cx="460.7" cy="315.1" r="5.65" fill="rgba(14,80,138,0.55)" stroke="rgba(8,62,112,0.8)" stroke-width="1.1"/>
<circle cx="438.7" cy="293.1" r="5.65" fill="rgba(14,80,138,0.55)" stroke="rgba(8,62,112,0.8)" stroke-width="1.1"/>
<circle cx="469.1" cy="345.0" r="5.65" fill="rgba(14,80,138,0.55)" stroke="rgba(8,62,112,0.8)" stroke-width="1.1"/>
<circle cx="434.4" cy="372.2" r="5.65" fill="rgba(14,80,138,0.55)" stroke="rgba(8,62,112,0.8)" stroke-width="1.1"/>
<circle cx="447.6" cy="400.7" r="5.65" fill="rgba(14,80,138,0.55)" stroke="rgba(8,62,112,0.8)" stroke-width="1.1"/>
<circle cx="483.7" cy="387.6" r="5.65" fill="rgba(14,80,138,0.55)" stroke="rgba(8,62,112,0.8)" stroke-width="1.1"/>
<circle cx="484.8" cy="315.1" r="5.65" fill="rgba(14,80,138,0.55)" stroke="rgba(8,62,112,0.8)" stroke-width="1.1"/>
<circle cx="452.5" cy="269.6" r="5.65" fill="rgba(14,80,138,0.55)" stroke="rgba(8,62,112,0.8)" stroke-width="1.1"/>
<circle cx="451.9" cy="306.3" r="5.65" fill="rgba(14,80,138,0.55)" stroke="rgba(8,62,112,0.8)" stroke-width="1.1"/>
<circle cx="438.8" cy="376.6" r="5.65" fill="rgba(14,80,138,0.55)" stroke="rgba(8,62,112,0.8)" stroke-width="1.1"/>
<circle cx="612.0" cy="271.6" r="5.65" fill="rgba(224,58,62,0.5)" stroke="rgba(214,48,58,0.7)" stroke-width="1.1"/>
<circle cx="598.8" cy="347.0" r="5.65" fill="rgba(224,58,62,0.5)" stroke="rgba(214,48,58,0.7)" stroke-width="1.1"/>
<circle cx="602.8" cy="291.4" r="5.65" fill="rgba(224,58,62,0.5)" stroke="rgba(214,48,58,0.7)" stroke-width="1.1"/>
<circle cx="602.0" cy="327.9" r="5.65" fill="rgba(224,58,62,0.5)" stroke="rgba(214,48,58,0.7)" stroke-width="1.1"/>
<circle cx="577.3" cy="371.5" r="5.65" fill="rgba(224,58,62,0.5)" stroke="rgba(214,48,58,0.7)" stroke-width="1.1"/>
<circle cx="596.6" cy="349.7" r="5.65" fill="rgba(224,58,62,0.5)" stroke="rgba(214,48,58,0.7)" stroke-width="1.1"/>
<circle cx="617.3" cy="341.0" r="5.65" fill="rgba(224,58,62,0.5)" stroke="rgba(214,48,58,0.7)" stroke-width="1.1"/>
<circle cx="606.3" cy="396.8" r="5.65" fill="rgba(224,58,62,0.5)" stroke="rgba(214,48,58,0.7)" stroke-width="1.1"/>
<circle cx="595.3" cy="273.6" r="5.65" fill="rgba(224,58,62,0.5)" stroke="rgba(214,48,58,0.7)" stroke-width="1.1"/>
<circle cx="603.1" cy="263.1" r="5.65" fill="rgba(224,58,62,0.5)" stroke="rgba(214,48,58,0.7)" stroke-width="1.1"/>
<circle cx="584.5" cy="286.3" r="5.65" fill="rgba(224,58,62,0.5)" stroke="rgba(214,48,58,0.7)" stroke-width="1.1"/>
<circle cx="588.8" cy="368.6" r="5.65" fill="rgba(224,58,62,0.5)" stroke="rgba(214,48,58,0.7)" stroke-width="1.1"/>
<circle cx="581.7" cy="264.0" r="5.65" fill="rgba(224,58,62,0.5)" stroke="rgba(214,48,58,0.7)" stroke-width="1.1"/>
<circle cx="589.9" cy="358.8" r="5.65" fill="rgba(224,58,62,0.5)" stroke="rgba(214,48,58,0.7)" stroke-width="1.1"/>
<circle cx="615.1" cy="290.0" r="5.65" fill="rgba(224,58,62,0.5)" stroke="rgba(214,48,58,0.7)" stroke-width="1.1"/>
<circle cx="624.9" cy="271.8" r="5.65" fill="rgba(224,58,62,0.5)" stroke="rgba(214,48,58,0.7)" stroke-width="1.1"/>
<circle cx="609.1" cy="404.7" r="5.65" fill="rgba(224,58,62,0.5)" stroke="rgba(214,48,58,0.7)" stroke-width="1.1"/>
<circle cx="569.1" cy="272.0" r="5.65" fill="rgba(224,58,62,0.5)" stroke="rgba(214,48,58,0.7)" stroke-width="1.1"/>
<circle cx="588.8" cy="347.6" r="5.65" fill="rgba(224,58,62,0.5)" stroke="rgba(214,48,58,0.7)" stroke-width="1.1"/>
<circle cx="577.4" cy="303.8" r="5.65" fill="rgba(224,58,62,0.5)" stroke="rgba(214,48,58,0.7)" stroke-width="1.1"/>
<circle cx="594.4" cy="266.7" r="5.65" fill="rgba(224,58,62,0.5)" stroke="rgba(214,48,58,0.7)" stroke-width="1.1"/>
<circle cx="610.7" cy="284.1" r="5.65" fill="rgba(224,58,62,0.5)" stroke="rgba(214,48,58,0.7)" stroke-width="1.1"/>
<circle cx="623.4" cy="327.4" r="5.65" fill="rgba(224,58,62,0.5)" stroke="rgba(214,48,58,0.7)" stroke-width="1.1"/>
<circle cx="599.9" cy="329.6" r="5.65" fill="rgba(224,58,62,0.5)" stroke="rgba(214,48,58,0.7)" stroke-width="1.1"/>
<circle cx="576.8" cy="384.5" r="5.65" fill="rgba(224,58,62,0.5)" stroke="rgba(214,48,58,0.7)" stroke-width="1.1"/>
<circle cx="623.9" cy="272.0" r="5.65" fill="rgba(224,58,62,0.5)" stroke="rgba(214,48,58,0.7)" stroke-width="1.1"/>
<circle cx="603.1" cy="356.6" r="5.65" fill="rgba(224,58,62,0.5)" stroke="rgba(214,48,58,0.7)" stroke-width="1.1"/>
<circle cx="610.7" cy="260.9" r="5.65" fill="rgba(224,58,62,0.5)" stroke="rgba(214,48,58,0.7)" stroke-width="1.1"/>
<circle cx="594.1" cy="325.1" r="5.65" fill="rgba(224,58,62,0.5)" stroke="rgba(214,48,58,0.7)" stroke-width="1.1"/>
<circle cx="605.8" cy="280.7" r="5.65" fill="rgba(224,58,62,0.5)" stroke="rgba(214,48,58,0.7)" stroke-width="1.1"/>
<circle cx="616.5" cy="392.3" r="5.65" fill="rgba(224,58,62,0.5)" stroke="rgba(214,48,58,0.7)" stroke-width="1.1"/>
<circle cx="614.0" cy="333.1" r="5.65" fill="rgba(224,58,62,0.5)" stroke="rgba(214,48,58,0.7)" stroke-width="1.1"/>
<circle cx="604.2" cy="390.5" r="5.65" fill="rgba(224,58,62,0.5)" stroke="rgba(214,48,58,0.7)" stroke-width="1.1"/>
<circle cx="579.0" cy="266.4" r="5.65" fill="rgba(224,58,62,0.5)" stroke="rgba(214,48,58,0.7)" stroke-width="1.1"/>
<circle cx="576.6" cy="372.3" r="5.65" fill="rgba(224,58,62,0.5)" stroke="rgba(214,48,58,0.7)" stroke-width="1.1"/>
<circle cx="619.9" cy="317.6" r="5.65" fill="rgba(224,58,62,0.5)" stroke="rgba(214,48,58,0.7)" stroke-width="1.1"/>
<circle cx="608.0" cy="205.0" r="5.65" fill="rgba(224,58,62,0.5)" stroke="rgba(214,48,58,0.7)" stroke-width="1.1"/>
<circle cx="588.3" cy="238.4" r="5.65" fill="rgba(224,58,62,0.5)" stroke="rgba(214,48,58,0.7)" stroke-width="1.1"/>
<circle cx="574.6" cy="279.7" r="5.65" fill="rgba(224,58,62,0.5)" stroke="rgba(214,48,58,0.7)" stroke-width="1.1"/>
<circle cx="604.4" cy="387.6" r="5.65" fill="rgba(224,58,62,0.5)" stroke="rgba(214,48,58,0.7)" stroke-width="1.1"/>
<circle cx="591.7" cy="319.1" r="5.65" fill="rgba(224,58,62,0.5)" stroke="rgba(214,48,58,0.7)" stroke-width="1.1"/>
<circle cx="571.3" cy="416.8" r="5.65" fill="rgba(224,58,62,0.5)" stroke="rgba(214,48,58,0.7)" stroke-width="1.1"/>
<circle cx="592.1" cy="262.0" r="5.65" fill="rgba(224,58,62,0.5)" stroke="rgba(214,48,58,0.7)" stroke-width="1.1"/>
<circle cx="572.4" cy="343.2" r="5.65" fill="rgba(224,58,62,0.5)" stroke="rgba(214,48,58,0.7)" stroke-width="1.1"/>
<circle cx="622.4" cy="262.4" r="5.65" fill="rgba(224,58,62,0.5)" stroke="rgba(214,48,58,0.7)" stroke-width="1.1"/>
<circle cx="624.4" cy="268.0" r="5.65" fill="rgba(224,58,62,0.5)" stroke="rgba(214,48,58,0.7)" stroke-width="1.1"/>
<circle cx="571.9" cy="239.5" r="5.65" fill="rgba(224,58,62,0.5)" stroke="rgba(214,48,58,0.7)" stroke-width="1.1"/>
<circle cx="569.1" cy="334.6" r="5.65" fill="rgba(224,58,62,0.5)" stroke="rgba(214,48,58,0.7)" stroke-width="1.1"/>
<circle cx="616.8" cy="262.4" r="5.65" fill="rgba(224,58,62,0.5)" stroke="rgba(214,48,58,0.7)" stroke-width="1.1"/>
<circle cx="580.1" cy="431.6" r="5.65" fill="rgba(224,58,62,0.5)" stroke="rgba(214,48,58,0.7)" stroke-width="1.1"/>
<circle cx="622.8" cy="277.5" r="5.65" fill="rgba(224,58,62,0.5)" stroke="rgba(214,48,58,0.7)" stroke-width="1.1"/>
<circle cx="622.8" cy="367.5" r="5.65" fill="rgba(224,58,62,0.5)" stroke="rgba(214,48,58,0.7)" stroke-width="1.1"/>
<circle cx="569.1" cy="391.6" r="5.65" fill="rgba(224,58,62,0.5)" stroke="rgba(214,48,58,0.7)" stroke-width="1.1"/>
<circle cx="610.2" cy="226.9" r="5.65" fill="rgba(224,58,62,0.5)" stroke="rgba(214,48,58,0.7)" stroke-width="1.1"/>
<circle cx="591.0" cy="411.9" r="5.65" fill="rgba(224,58,62,0.5)" stroke="rgba(214,48,58,0.7)" stroke-width="1.1"/>
<circle cx="619.8" cy="338.0" r="5.65" fill="rgba(224,58,62,0.5)" stroke="rgba(214,48,58,0.7)" stroke-width="1.1"/>
<circle cx="609.7" cy="365.3" r="5.65" fill="rgba(224,58,62,0.5)" stroke="rgba(214,48,58,0.7)" stroke-width="1.1"/>
<circle cx="581.3" cy="308.9" r="5.65" fill="rgba(224,58,62,0.5)" stroke="rgba(214,48,58,0.7)" stroke-width="1.1"/>
<circle cx="602.0" cy="311.5" r="5.65" fill="rgba(224,58,62,0.5)" stroke="rgba(214,48,58,0.7)" stroke-width="1.1"/>
<circle cx="602.0" cy="353.1" r="5.65" fill="rgba(224,58,62,0.5)" stroke="rgba(214,48,58,0.7)" stroke-width="1.1"/>
<circle cx="613.3" cy="317.4" r="5.65" fill="rgba(224,58,62,0.5)" stroke="rgba(214,48,58,0.7)" stroke-width="1.1"/>
<circle cx="588.7" cy="330.7" r="5.65" fill="rgba(224,58,62,0.5)" stroke="rgba(214,48,58,0.7)" stroke-width="1.1"/>
<circle cx="591.4" cy="318.4" r="5.65" fill="rgba(224,58,62,0.5)" stroke="rgba(214,48,58,0.7)" stroke-width="1.1"/>
<circle cx="601.8" cy="322.9" r="5.65" fill="rgba(224,58,62,0.5)" stroke="rgba(214,48,58,0.7)" stroke-width="1.1"/>
<circle cx="574.6" cy="356.4" r="5.65" fill="rgba(224,58,62,0.5)" stroke="rgba(214,48,58,0.7)" stroke-width="1.1"/>
<circle cx="608.9" cy="309.4" r="5.65" fill="rgba(224,58,62,0.5)" stroke="rgba(214,48,58,0.7)" stroke-width="1.1"/>
<circle cx="583.0" cy="355.9" r="5.65" fill="rgba(224,58,62,0.5)" stroke="rgba(214,48,58,0.7)" stroke-width="1.1"/>
<circle cx="598.2" cy="181.0" r="5.65" fill="rgba(224,58,62,0.5)" stroke="rgba(214,48,58,0.7)" stroke-width="1.1"/>
<circle cx="619.5" cy="237.3" r="5.65" fill="rgba(224,58,62,0.5)" stroke="rgba(214,48,58,0.7)" stroke-width="1.1"/>
<circle cx="572.4" cy="337.7" r="5.65" fill="rgba(224,58,62,0.5)" stroke="rgba(214,48,58,0.7)" stroke-width="1.1"/>
<circle cx="596.0" cy="301.6" r="5.65" fill="rgba(224,58,62,0.5)" stroke="rgba(214,48,58,0.7)" stroke-width="1.1"/>
<circle cx="568.5" cy="342.5" r="5.65" fill="rgba(224,58,62,0.5)" stroke="rgba(214,48,58,0.7)" stroke-width="1.1"/>
<circle cx="572.1" cy="370.8" r="5.65" fill="rgba(224,58,62,0.5)" stroke="rgba(214,48,58,0.7)" stroke-width="1.1"/>
<circle cx="589.9" cy="321.3" r="5.65" fill="rgba(224,58,62,0.5)" stroke="rgba(214,48,58,0.7)" stroke-width="1.1"/>
<circle cx="574.1" cy="358.2" r="5.65" fill="rgba(224,58,62,0.5)" stroke="rgba(214,48,58,0.7)" stroke-width="1.1"/>
<circle cx="595.4" cy="389.4" r="5.65" fill="rgba(224,58,62,0.5)" stroke="rgba(214,48,58,0.7)" stroke-width="1.1"/>
<circle cx="609.6" cy="321.0" r="5.65" fill="rgba(224,58,62,0.5)" stroke="rgba(214,48,58,0.7)" stroke-width="1.1"/>
<circle cx="587.8" cy="312.6" r="5.65" fill="rgba(224,58,62,0.5)" stroke="rgba(214,48,58,0.7)" stroke-width="1.1"/>
<circle cx="595.9" cy="333.1" r="5.65" fill="rgba(224,58,62,0.5)" stroke="rgba(214,48,58,0.7)" stroke-width="1.1"/>
<circle cx="591.0" cy="254.3" r="5.65" fill="rgba(224,58,62,0.5)" stroke="rgba(214,48,58,0.7)" stroke-width="1.1"/>
<circle cx="615.1" cy="382.8" r="5.65" fill="rgba(224,58,62,0.5)" stroke="rgba(214,48,58,0.7)" stroke-width="1.1"/>
<circle cx="575.6" cy="348.8" r="5.65" fill="rgba(224,58,62,0.5)" stroke="rgba(214,48,58,0.7)" stroke-width="1.1"/>
<circle cx="621.9" cy="340.0" r="5.65" fill="rgba(224,58,62,0.5)" stroke="rgba(214,48,58,0.7)" stroke-width="1.1"/>
<circle cx="609.7" cy="249.9" r="5.65" fill="rgba(224,58,62,0.5)" stroke="rgba(214,48,58,0.7)" stroke-width="1.1"/>
<circle cx="585.9" cy="287.6" r="5.65" fill="rgba(224,58,62,0.5)" stroke="rgba(214,48,58,0.7)" stroke-width="1.1"/>
<circle cx="579.5" cy="413.5" r="5.65" fill="rgba(224,58,62,0.5)" stroke="rgba(214,48,58,0.7)" stroke-width="1.1"/>
<circle cx="607.3" cy="354.9" r="5.65" fill="rgba(224,58,62,0.5)" stroke="rgba(214,48,58,0.7)" stroke-width="1.1"/>
<circle cx="614.2" cy="314.4" r="5.65" fill="rgba(224,58,62,0.5)" stroke="rgba(214,48,58,0.7)" stroke-width="1.1"/>
<circle cx="599.7" cy="376.8" r="5.65" fill="rgba(224,58,62,0.5)" stroke="rgba(214,48,58,0.7)" stroke-width="1.1"/>
<circle cx="577.9" cy="311.5" r="5.65" fill="rgba(224,58,62,0.5)" stroke="rgba(214,48,58,0.7)" stroke-width="1.1"/>
<circle cx="568.7" cy="328.9" r="5.65" fill="rgba(224,58,62,0.5)" stroke="rgba(214,48,58,0.7)" stroke-width="1.1"/>
<circle cx="571.3" cy="245.0" r="5.65" fill="rgba(224,58,62,0.5)" stroke="rgba(214,48,58,0.7)" stroke-width="1.1"/>
<circle cx="609.7" cy="393.2" r="5.65" fill="rgba(14,80,138,0.55)" stroke="rgba(8,62,112,0.8)" stroke-width="1.1"/>
<circle cx="593.2" cy="336.6" r="5.65" fill="rgba(14,80,138,0.55)" stroke="rgba(8,62,112,0.8)" stroke-width="1.1"/>
<circle cx="589.4" cy="377.9" r="5.65" fill="rgba(14,80,138,0.55)" stroke="rgba(8,62,112,0.8)" stroke-width="1.1"/>
<circle cx="621.7" cy="303.8" r="5.65" fill="rgba(14,80,138,0.55)" stroke="rgba(8,62,112,0.8)" stroke-width="1.1"/>
<circle cx="599.2" cy="237.9" r="5.65" fill="rgba(14,80,138,0.55)" stroke="rgba(8,62,112,0.8)" stroke-width="1.1"/>
<circle cx="569.0" cy="354.1" r="5.65" fill="rgba(14,80,138,0.55)" stroke="rgba(8,62,112,0.8)" stroke-width="1.1"/>
<circle cx="616.8" cy="327.9" r="5.65" fill="rgba(14,80,138,0.55)" stroke="rgba(8,62,112,0.8)" stroke-width="1.1"/>
<circle cx="573.0" cy="265.5" r="5.65" fill="rgba(14,80,138,0.55)" stroke="rgba(8,62,112,0.8)" stroke-width="1.1"/>
<circle cx="577.7" cy="266.1" r="5.65" fill="rgba(14,80,138,0.55)" stroke="rgba(8,62,112,0.8)" stroke-width="1.1"/>
<circle cx="622.8" cy="343.2" r="5.65" fill="rgba(14,80,138,0.55)" stroke="rgba(8,62,112,0.8)" stroke-width="1.1"/>
<circle cx="604.2" cy="220.9" r="5.65" fill="rgba(14,80,138,0.55)" stroke="rgba(8,62,112,0.8)" stroke-width="1.1"/>
<circle cx="621.5" cy="369.2" r="5.65" fill="rgba(14,80,138,0.55)" stroke="rgba(8,62,112,0.8)" stroke-width="1.1"/>
<circle cx="605.8" cy="296.7" r="5.65" fill="rgba(14,80,138,0.55)" stroke="rgba(8,62,112,0.8)" stroke-width="1.1"/>
<circle cx="577.9" cy="393.2" r="5.65" fill="rgba(14,80,138,0.55)" stroke="rgba(8,62,112,0.8)" stroke-width="1.1"/>
<circle cx="600.9" cy="278.6" r="5.65" fill="rgba(14,80,138,0.55)" stroke="rgba(8,62,112,0.8)" stroke-width="1.1"/>
<circle cx="593.2" cy="299.4" r="5.65" fill="rgba(14,80,138,0.55)" stroke="rgba(8,62,112,0.8)" stroke-width="1.1"/>
<circle cx="577.4" cy="193.0" r="5.65" fill="rgba(14,80,138,0.55)" stroke="rgba(8,62,112,0.8)" stroke-width="1.1"/>
<circle cx="573.3" cy="351.5" r="5.65" fill="rgba(14,80,138,0.55)" stroke="rgba(8,62,112,0.8)" stroke-width="1.1"/>
<circle cx="614.0" cy="303.8" r="5.65" fill="rgba(14,80,138,0.55)" stroke="rgba(8,62,112,0.8)" stroke-width="1.1"/>
<circle cx="574.1" cy="220.9" r="5.65" fill="rgba(14,80,138,0.55)" stroke="rgba(8,62,112,0.8)" stroke-width="1.1"/>
<circle cx="586.7" cy="332.3" r="5.65" fill="rgba(14,80,138,0.55)" stroke="rgba(8,62,112,0.8)" stroke-width="1.1"/>
<circle cx="592.1" cy="277.5" r="5.65" fill="rgba(14,80,138,0.55)" stroke="rgba(8,62,112,0.8)" stroke-width="1.1"/>
<circle cx="606.4" cy="346.5" r="5.65" fill="rgba(14,80,138,0.55)" stroke="rgba(8,62,112,0.8)" stroke-width="1.1"/>
<circle cx="578.4" cy="367.5" r="5.65" fill="rgba(14,80,138,0.55)" stroke="rgba(8,62,112,0.8)" stroke-width="1.1"/>
<circle cx="611.8" cy="313.7" r="5.65" fill="rgba(14,80,138,0.55)" stroke="rgba(8,62,112,0.8)" stroke-width="1.1"/>
<circle cx="572.7" cy="270.9" r="5.65" fill="rgba(14,80,138,0.55)" stroke="rgba(8,62,112,0.8)" stroke-width="1.1"/>
<circle cx="571.3" cy="307.1" r="5.65" fill="rgba(14,80,138,0.55)" stroke="rgba(8,62,112,0.8)" stroke-width="1.1"/>
<circle cx="622.8" cy="332.3" r="5.65" fill="rgba(14,80,138,0.55)" stroke="rgba(8,62,112,0.8)" stroke-width="1.1"/>
<circle cx="586.1" cy="246.6" r="5.65" fill="rgba(14,80,138,0.55)" stroke="rgba(8,62,112,0.8)" stroke-width="1.1"/>
<circle cx="596.2" cy="349.4" r="5.65" fill="rgba(14,80,138,0.55)" stroke="rgba(8,62,112,0.8)" stroke-width="1.1"/>
<circle cx="587.2" cy="282.6" r="5.65" fill="rgba(14,80,138,0.55)" stroke="rgba(8,62,112,0.8)" stroke-width="1.1"/>
<circle cx="571.1" cy="268.6" r="5.65" fill="rgba(14,80,138,0.55)" stroke="rgba(8,62,112,0.8)" stroke-width="1.1"/>
<circle cx="604.0" cy="74.0" r="5.65" fill="rgba(14,80,138,0.55)" stroke="rgba(8,62,112,0.8)" stroke-width="1.1"/>
<circle cx="572.4" cy="264.7" r="5.65" fill="rgba(14,80,138,0.55)" stroke="rgba(8,62,112,0.8)" stroke-width="1.1"/>
<circle cx="606.6" cy="210.5" r="5.65" fill="rgba(14,80,138,0.55)" stroke="rgba(8,62,112,0.8)" stroke-width="1.1"/>
<circle cx="607.5" cy="338.8" r="5.65" fill="rgba(14,80,138,0.55)" stroke="rgba(8,62,112,0.8)" stroke-width="1.1"/>
<circle cx="581.4" cy="203.9" r="5.65" fill="rgba(14,80,138,0.55)" stroke="rgba(8,62,112,0.8)" stroke-width="1.1"/>
<circle cx="616.2" cy="376.8" r="5.65" fill="rgba(14,80,138,0.55)" stroke="rgba(8,62,112,0.8)" stroke-width="1.1"/>
<circle cx="608.6" cy="233.0" r="5.65" fill="rgba(14,80,138,0.55)" stroke="rgba(8,62,112,0.8)" stroke-width="1.1"/>
<circle cx="606.9" cy="372.4" r="5.65" fill="rgba(14,80,138,0.55)" stroke="rgba(8,62,112,0.8)" stroke-width="1.1"/>
<circle cx="575.9" cy="307.4" r="5.65" fill="rgba(14,80,138,0.55)" stroke="rgba(8,62,112,0.8)" stroke-width="1.1"/>
<circle cx="620.1" cy="288.6" r="5.65" fill="rgba(14,80,138,0.55)" stroke="rgba(8,62,112,0.8)" stroke-width="1.1"/>
<circle cx="621.7" cy="391.1" r="5.65" fill="rgba(14,80,138,0.55)" stroke="rgba(8,62,112,0.8)" stroke-width="1.1"/>
<circle cx="587.2" cy="227.5" r="5.65" fill="rgba(14,80,138,0.55)" stroke="rgba(8,62,112,0.8)" stroke-width="1.1"/>
<circle cx="583.4" cy="354.4" r="5.65" fill="rgba(14,80,138,0.55)" stroke="rgba(8,62,112,0.8)" stroke-width="1.1"/>
<circle cx="616.8" cy="263.6" r="5.65" fill="rgba(14,80,138,0.55)" stroke="rgba(8,62,112,0.8)" stroke-width="1.1"/>
<circle cx="608.0" cy="235.7" r="5.65" fill="rgba(14,80,138,0.55)" stroke="rgba(8,62,112,0.8)" stroke-width="1.1"/>
<circle cx="602.7" cy="378.4" r="5.65" fill="rgba(14,80,138,0.55)" stroke="rgba(8,62,112,0.8)" stroke-width="1.1"/>
<circle cx="602.5" cy="252.7" r="5.65" fill="rgba(14,80,138,0.55)" stroke="rgba(8,62,112,0.8)" stroke-width="1.1"/>
<circle cx="597.6" cy="358.5" r="5.65" fill="rgba(14,80,138,0.55)" stroke="rgba(8,62,112,0.8)" stroke-width="1.1"/>
<circle cx="617.3" cy="258.1" r="5.65" fill="rgba(14,80,138,0.55)" stroke="rgba(8,62,112,0.8)" stroke-width="1.1"/>
<circle cx="620.4" cy="262.7" r="5.65" fill="rgba(14,80,138,0.55)" stroke="rgba(8,62,112,0.8)" stroke-width="1.1"/>
<circle cx="599.8" cy="345.4" r="5.65" fill="rgba(14,80,138,0.55)" stroke="rgba(8,62,112,0.8)" stroke-width="1.1"/>
<circle cx="581.2" cy="346.5" r="5.65" fill="rgba(14,80,138,0.55)" stroke="rgba(8,62,112,0.8)" stroke-width="1.1"/>
<circle cx="606.4" cy="321.3" r="5.65" fill="rgba(14,80,138,0.55)" stroke="rgba(8,62,112,0.8)" stroke-width="1.1"/>
<circle cx="606.0" cy="348.7" r="5.65" fill="rgba(14,80,138,0.55)" stroke="rgba(8,62,112,0.8)" stroke-width="1.1"/>
<circle cx="617.3" cy="287.9" r="5.65" fill="rgba(14,80,138,0.55)" stroke="rgba(8,62,112,0.8)" stroke-width="1.1"/>
<circle cx="580.0" cy="352.7" r="5.65" fill="rgba(14,80,138,0.55)" stroke="rgba(8,62,112,0.8)" stroke-width="1.1"/>
<circle cx="581.2" cy="275.3" r="5.65" fill="rgba(14,80,138,0.55)" stroke="rgba(8,62,112,0.8)" stroke-width="1.1"/>
<circle cx="587.8" cy="270.9" r="5.65" fill="rgba(14,80,138,0.55)" stroke="rgba(8,62,112,0.8)" stroke-width="1.1"/>
<circle cx="619.5" cy="319.1" r="5.65" fill="rgba(14,80,138,0.55)" stroke="rgba(8,62,112,0.8)" stroke-width="1.1"/>
<circle cx="574.6" cy="375.7" r="5.65" fill="rgba(14,80,138,0.55)" stroke="rgba(8,62,112,0.8)" stroke-width="1.1"/>
<circle cx="622.8" cy="251.0" r="5.65" fill="rgba(14,80,138,0.55)" stroke="rgba(8,62,112,0.8)" stroke-width="1.1"/>
<circle cx="574.6" cy="332.3" r="5.65" fill="rgba(14,80,138,0.55)" stroke="rgba(8,62,112,0.8)" stroke-width="1.1"/>
<circle cx="597.1" cy="362.0" r="5.65" fill="rgba(14,80,138,0.55)" stroke="rgba(8,62,112,0.8)" stroke-width="1.1"/>
<circle cx="602.0" cy="350.5" r="5.65" fill="rgba(14,80,138,0.55)" stroke="rgba(8,62,112,0.8)" stroke-width="1.1"/>
<circle cx="588.8" cy="295.0" r="5.65" fill="rgba(14,80,138,0.55)" stroke="rgba(8,62,112,0.8)" stroke-width="1.1"/>
<circle cx="615.7" cy="393.2" r="5.65" fill="rgba(14,80,138,0.55)" stroke="rgba(8,62,112,0.8)" stroke-width="1.1"/>
<circle cx="599.5" cy="325.8" r="5.65" fill="rgba(14,80,138,0.55)" stroke="rgba(8,62,112,0.8)" stroke-width="1.1"/>
<circle cx="587.8" cy="268.0" r="5.65" fill="rgba(14,80,138,0.55)" stroke="rgba(8,62,112,0.8)" stroke-width="1.1"/>
<circle cx="623.3" cy="420.6" r="5.65" fill="rgba(14,80,138,0.55)" stroke="rgba(8,62,112,0.8)" stroke-width="1.1"/>
<circle cx="613.5" cy="275.3" r="5.65" fill="rgba(14,80,138,0.55)" stroke="rgba(8,62,112,0.8)" stroke-width="1.1"/>
<circle cx="599.8" cy="272.0" r="5.65" fill="rgba(14,80,138,0.55)" stroke="rgba(8,62,112,0.8)" stroke-width="1.1"/>
<circle cx="598.7" cy="380.7" r="5.65" fill="rgba(14,80,138,0.55)" stroke="rgba(8,62,112,0.8)" stroke-width="1.1"/>
<circle cx="594.9" cy="312.6" r="5.65" fill="rgba(14,80,138,0.55)" stroke="rgba(8,62,112,0.8)" stroke-width="1.1"/>
<circle cx="621.1" cy="216.5" r="5.65" fill="rgba(14,80,138,0.55)" stroke="rgba(8,62,112,0.8)" stroke-width="1.1"/>
<circle cx="184.9" cy="975.2" r="5.65" fill="rgba(224,58,62,0.5)" stroke="rgba(214,48,58,0.7)" stroke-width="1.1"/>
<circle cx="155.0" cy="1026.0" r="5.65" fill="rgba(224,58,62,0.5)" stroke="rgba(214,48,58,0.7)" stroke-width="1.1"/>
<circle cx="157.0" cy="989.0" r="5.65" fill="rgba(224,58,62,0.5)" stroke="rgba(214,48,58,0.7)" stroke-width="1.1"/>
<circle cx="195.0" cy="1017.3" r="5.65" fill="rgba(224,58,62,0.5)" stroke="rgba(214,48,58,0.7)" stroke-width="1.1"/>
<circle cx="201.0" cy="1000.0" r="5.65" fill="rgba(224,58,62,0.5)" stroke="rgba(214,48,58,0.7)" stroke-width="1.1"/>
<circle cx="160.0" cy="983.0" r="5.65" fill="rgba(224,58,62,0.5)" stroke="rgba(214,48,58,0.7)" stroke-width="1.1"/>
<circle cx="185.0" cy="1010.0" r="5.65" fill="rgba(224,58,62,0.5)" stroke="rgba(214,48,58,0.7)" stroke-width="1.1"/>
<circle cx="186.0" cy="1024.0" r="5.65" fill="rgba(224,58,62,0.5)" stroke="rgba(214,48,58,0.7)" stroke-width="1.1"/>
<circle cx="204.0" cy="1030.0" r="5.65" fill="rgba(224,58,62,0.5)" stroke="rgba(214,48,58,0.7)" stroke-width="1.1"/>
<circle cx="203.0" cy="995.0" r="5.65" fill="rgba(224,58,62,0.5)" stroke="rgba(214,48,58,0.7)" stroke-width="1.1"/>
<circle cx="160.0" cy="990.0" r="5.65" fill="rgba(224,58,62,0.5)" stroke="rgba(214,48,58,0.7)" stroke-width="1.1"/>
<circle cx="156.0" cy="1016.0" r="5.65" fill="rgba(224,58,62,0.5)" stroke="rgba(214,48,58,0.7)" stroke-width="1.1"/>
<circle cx="190.0" cy="992.0" r="5.65" fill="rgba(224,58,62,0.5)" stroke="rgba(214,48,58,0.7)" stroke-width="1.1"/>
<circle cx="194.0" cy="998.0" r="5.65" fill="rgba(224,58,62,0.5)" stroke="rgba(214,48,58,0.7)" stroke-width="1.1"/>
<circle cx="160.3" cy="1036.7" r="5.65" fill="rgba(224,58,62,0.5)" stroke="rgba(214,48,58,0.7)" stroke-width="1.1"/>
<circle cx="174.0" cy="1005.0" r="5.65" fill="rgba(224,58,62,0.5)" stroke="rgba(214,48,58,0.7)" stroke-width="1.1"/>
<circle cx="168.0" cy="1026.0" r="5.65" fill="rgba(224,58,62,0.5)" stroke="rgba(214,48,58,0.7)" stroke-width="1.1"/>
<circle cx="188.0" cy="977.0" r="5.65" fill="rgba(224,58,62,0.5)" stroke="rgba(214,48,58,0.7)" stroke-width="1.1"/>
<circle cx="198.1" cy="1037.7" r="5.65" fill="rgba(224,58,62,0.5)" stroke="rgba(214,48,58,0.7)" stroke-width="1.1"/>
<circle cx="208.0" cy="978.0" r="5.65" fill="rgba(224,58,62,0.5)" stroke="rgba(214,48,58,0.7)" stroke-width="1.1"/>
<circle cx="170.0" cy="1018.0" r="5.65" fill="rgba(224,58,62,0.5)" stroke="rgba(214,48,58,0.7)" stroke-width="1.1"/>
<circle cx="171.6" cy="1045.4" r="5.65" fill="rgba(224,58,62,0.5)" stroke="rgba(214,48,58,0.7)" stroke-width="1.1"/>
<circle cx="183.0" cy="1002.0" r="5.65" fill="rgba(224,58,62,0.5)" stroke="rgba(214,48,58,0.7)" stroke-width="1.1"/>
<circle cx="165.0" cy="1007.0" r="5.65" fill="rgba(224,58,62,0.5)" stroke="rgba(214,48,58,0.7)" stroke-width="1.1"/>
<circle cx="153.5" cy="1022.0" r="5.65" fill="rgba(224,58,62,0.5)" stroke="rgba(214,48,58,0.7)" stroke-width="1.1"/>
<circle cx="197.0" cy="991.0" r="5.65" fill="rgba(224,58,62,0.5)" stroke="rgba(214,48,58,0.7)" stroke-width="1.1"/>
<circle cx="188.0" cy="996.0" r="5.65" fill="rgba(224,58,62,0.5)" stroke="rgba(214,48,58,0.7)" stroke-width="1.1"/>
<circle cx="181.8" cy="1029.5" r="5.65" fill="rgba(224,58,62,0.5)" stroke="rgba(214,48,58,0.7)" stroke-width="1.1"/>
<circle cx="163.0" cy="1024.0" r="5.65" fill="rgba(224,58,62,0.5)" stroke="rgba(214,48,58,0.7)" stroke-width="1.1"/>
<circle cx="178.7" cy="1021.3" r="5.65" fill="rgba(224,58,62,0.5)" stroke="rgba(214,48,58,0.7)" stroke-width="1.1"/>
<circle cx="153.0" cy="1001.0" r="5.65" fill="rgba(224,58,62,0.5)" stroke="rgba(214,48,58,0.7)" stroke-width="1.1"/>
<circle cx="166.5" cy="978.3" r="5.65" fill="rgba(224,58,62,0.5)" stroke="rgba(214,48,58,0.7)" stroke-width="1.1"/>
<circle cx="155.0" cy="1008.0" r="5.65" fill="rgba(224,58,62,0.5)" stroke="rgba(214,48,58,0.7)" stroke-width="1.1"/>
<circle cx="205.3" cy="1017.3" r="5.65" fill="rgba(224,58,62,0.5)" stroke="rgba(214,48,58,0.7)" stroke-width="1.1"/>
<circle cx="193.0" cy="1023.4" r="5.65" fill="rgba(224,58,62,0.5)" stroke="rgba(214,48,58,0.7)" stroke-width="1.1"/>
<circle cx="177.7" cy="1044.3" r="5.65" fill="rgba(224,58,62,0.5)" stroke="rgba(214,48,58,0.7)" stroke-width="1.1"/>
<circle cx="190.0" cy="1043.8" r="5.65" fill="rgba(224,58,62,0.5)" stroke="rgba(214,48,58,0.7)" stroke-width="1.1"/>
<circle cx="161.0" cy="1012.0" r="5.65" fill="rgba(224,58,62,0.5)" stroke="rgba(214,48,58,0.7)" stroke-width="1.1"/>
<circle cx="178.0" cy="994.0" r="5.65" fill="rgba(14,80,138,0.55)" stroke="rgba(8,62,112,0.8)" stroke-width="1.1"/>
<circle cx="205.0" cy="1009.0" r="5.65" fill="rgba(14,80,138,0.55)" stroke="rgba(8,62,112,0.8)" stroke-width="1.1"/>
<circle cx="202.0" cy="1004.0" r="5.65" fill="rgba(14,80,138,0.55)" stroke="rgba(8,62,112,0.8)" stroke-width="1.1"/>
<circle cx="197.0" cy="1010.0" r="5.65" fill="rgba(14,80,138,0.55)" stroke="rgba(8,62,112,0.8)" stroke-width="1.1"/>
<circle cx="190.0" cy="982.0" r="5.65" fill="rgba(14,80,138,0.55)" stroke="rgba(8,62,112,0.8)" stroke-width="1.1"/>
<circle cx="200.0" cy="980.0" r="5.65" fill="rgba(14,80,138,0.55)" stroke="rgba(8,62,112,0.8)" stroke-width="1.1"/>
<circle cx="199.0" cy="1006.0" r="5.65" fill="rgba(14,80,138,0.55)" stroke="rgba(8,62,112,0.8)" stroke-width="1.1"/>
<circle cx="160.0" cy="1029.0" r="5.65" fill="rgba(14,80,138,0.55)" stroke="rgba(8,62,112,0.8)" stroke-width="1.1"/>
<circle cx="204.0" cy="981.0" r="5.65" fill="rgba(14,80,138,0.55)" stroke="rgba(8,62,112,0.8)" stroke-width="1.1"/>
<circle cx="189.0" cy="1004.0" r="5.65" fill="rgba(14,80,138,0.55)" stroke="rgba(8,62,112,0.8)" stroke-width="1.1"/>
<circle cx="198.0" cy="979.0" r="5.65" fill="rgba(14,80,138,0.55)" stroke="rgba(8,62,112,0.8)" stroke-width="1.1"/>
<circle cx="175.0" cy="980.0" r="5.65" fill="rgba(14,80,138,0.55)" stroke="rgba(8,62,112,0.8)" stroke-width="1.1"/>
<circle cx="158.0" cy="1010.0" r="5.65" fill="rgba(14,80,138,0.55)" stroke="rgba(8,62,112,0.8)" stroke-width="1.1"/>
<circle cx="174.0" cy="1020.0" r="5.65" fill="rgba(14,80,138,0.55)" stroke="rgba(8,62,112,0.8)" stroke-width="1.1"/>
<circle cx="158.0" cy="1033.0" r="5.65" fill="rgba(14,80,138,0.55)" stroke="rgba(8,62,112,0.8)" stroke-width="1.1"/>
<circle cx="172.0" cy="991.0" r="5.65" fill="rgba(14,80,138,0.55)" stroke="rgba(8,62,112,0.8)" stroke-width="1.1"/>
<circle cx="168.0" cy="993.0" r="5.65" fill="rgba(14,80,138,0.55)" stroke="rgba(8,62,112,0.8)" stroke-width="1.1"/>
<circle cx="195.0" cy="987.0" r="5.65" fill="rgba(14,80,138,0.55)" stroke="rgba(8,62,112,0.8)" stroke-width="1.1"/>
<circle cx="154.2" cy="978.3" r="5.65" fill="rgba(14,80,138,0.55)" stroke="rgba(8,62,112,0.8)" stroke-width="1.1"/>
<circle cx="176.0" cy="1012.0" r="5.65" fill="rgba(14,80,138,0.55)" stroke="rgba(8,62,112,0.8)" stroke-width="1.1"/>
<circle cx="192.0" cy="979.0" r="5.65" fill="rgba(14,80,138,0.55)" stroke="rgba(8,62,112,0.8)" stroke-width="1.1"/>
<circle cx="193.0" cy="1007.0" r="5.65" fill="rgba(14,80,138,0.55)" stroke="rgba(8,62,112,0.8)" stroke-width="1.1"/>
<circle cx="170.0" cy="996.0" r="5.65" fill="rgba(14,80,138,0.55)" stroke="rgba(8,62,112,0.8)" stroke-width="1.1"/>
<circle cx="193.0" cy="984.0" r="5.65" fill="rgba(14,80,138,0.55)" stroke="rgba(8,62,112,0.8)" stroke-width="1.1"/>
<circle cx="176.0" cy="986.0" r="5.65" fill="rgba(14,80,138,0.55)" stroke="rgba(8,62,112,0.8)" stroke-width="1.1"/>
<circle cx="169.0" cy="1011.0" r="5.65" fill="rgba(14,80,138,0.55)" stroke="rgba(8,62,112,0.8)" stroke-width="1.1"/>
<circle cx="165.0" cy="1001.0" r="5.65" fill="rgba(14,80,138,0.55)" stroke="rgba(8,62,112,0.8)" stroke-width="1.1"/>
<circle cx="207.0" cy="986.0" r="5.65" fill="rgba(14,80,138,0.55)" stroke="rgba(8,62,112,0.8)" stroke-width="1.1"/>
<circle cx="177.0" cy="977.0" r="5.65" fill="rgba(14,80,138,0.55)" stroke="rgba(8,62,112,0.8)" stroke-width="1.1"/>
<circle cx="189.0" cy="1037.7" r="5.65" fill="rgba(14,80,138,0.55)" stroke="rgba(8,62,112,0.8)" stroke-width="1.1"/>
<circle cx="179.0" cy="982.0" r="5.65" fill="rgba(14,80,138,0.55)" stroke="rgba(8,62,112,0.8)" stroke-width="1.1"/>
<circle cx="160.0" cy="1019.0" r="5.65" fill="rgba(14,80,138,0.55)" stroke="rgba(8,62,112,0.8)" stroke-width="1.1"/>
<circle cx="206.0" cy="984.0" r="5.65" fill="rgba(14,80,138,0.55)" stroke="rgba(8,62,112,0.8)" stroke-width="1.1"/>
<circle cx="174.0" cy="1001.0" r="5.65" fill="rgba(14,80,138,0.55)" stroke="rgba(8,62,112,0.8)" stroke-width="1.1"/>
<circle cx="180.0" cy="1016.0" r="5.65" fill="rgba(14,80,138,0.55)" stroke="rgba(8,62,112,0.8)" stroke-width="1.1"/>
<circle cx="196.0" cy="1012.0" r="5.65" fill="rgba(14,80,138,0.55)" stroke="rgba(8,62,112,0.8)" stroke-width="1.1"/>
<circle cx="196.0" cy="976.0" r="5.65" fill="rgba(14,80,138,0.55)" stroke="rgba(8,62,112,0.8)" stroke-width="1.1"/>
<circle cx="177.0" cy="1000.0" r="5.65" fill="rgba(14,80,138,0.55)" stroke="rgba(8,62,112,0.8)" stroke-width="1.1"/>
<circle cx="191.5" cy="1035.7" r="5.65" fill="rgba(14,80,138,0.55)" stroke="rgba(8,62,112,0.8)" stroke-width="1.1"/>
<circle cx="190.0" cy="1010.0" r="5.65" fill="rgba(14,80,138,0.55)" stroke="rgba(8,62,112,0.8)" stroke-width="1.1"/>
<circle cx="164.4" cy="1043.8" r="5.65" fill="rgba(14,80,138,0.55)" stroke="rgba(8,62,112,0.8)" stroke-width="1.1"/>
<circle cx="155.0" cy="1027.0" r="5.65" fill="rgba(14,80,138,0.55)" stroke="rgba(8,62,112,0.8)" stroke-width="1.1"/>
<circle cx="181.0" cy="992.0" r="5.65" fill="rgba(14,80,138,0.55)" stroke="rgba(8,62,112,0.8)" stroke-width="1.1"/>
<circle cx="200.0" cy="1014.0" r="5.65" fill="rgba(14,80,138,0.55)" stroke="rgba(8,62,112,0.8)" stroke-width="1.1"/>
<circle cx="203.0" cy="1003.0" r="5.65" fill="rgba(14,80,138,0.55)" stroke="rgba(8,62,112,0.8)" stroke-width="1.1"/>
<circle cx="168.0" cy="980.0" r="5.65" fill="rgba(14,80,138,0.55)" stroke="rgba(8,62,112,0.8)" stroke-width="1.1"/>
<circle cx="193.0" cy="1015.0" r="5.65" fill="rgba(14,80,138,0.55)" stroke="rgba(8,62,112,0.8)" stroke-width="1.1"/>
<circle cx="200.0" cy="985.0" r="5.65" fill="rgba(14,80,138,0.55)" stroke="rgba(8,62,112,0.8)" stroke-width="1.1"/>
<circle cx="195.0" cy="1003.0" r="5.65" fill="rgba(14,80,138,0.55)" stroke="rgba(8,62,112,0.8)" stroke-width="1.1"/>
<circle cx="170.0" cy="999.0" r="5.65" fill="rgba(14,80,138,0.55)" stroke="rgba(8,62,112,0.8)" stroke-width="1.1"/>
<circle cx="202.0" cy="989.0" r="5.65" fill="rgba(14,80,138,0.55)" stroke="rgba(8,62,112,0.8)" stroke-width="1.1"/>
<circle cx="166.5" cy="1043.8" r="5.65" fill="rgba(14,80,138,0.55)" stroke="rgba(8,62,112,0.8)" stroke-width="1.1"/>
<circle cx="164.4" cy="987.5" r="5.65" fill="rgba(14,80,138,0.55)" stroke="rgba(8,62,112,0.8)" stroke-width="1.1"/>
<circle cx="170.0" cy="979.0" r="5.65" fill="rgba(14,80,138,0.55)" stroke="rgba(8,62,112,0.8)" stroke-width="1.1"/>
<circle cx="207.0" cy="1007.0" r="5.65" fill="rgba(14,80,138,0.55)" stroke="rgba(8,62,112,0.8)" stroke-width="1.1"/>
<circle cx="158.0" cy="1004.0" r="5.65" fill="rgba(14,80,138,0.55)" stroke="rgba(8,62,112,0.8)" stroke-width="1.1"/>
<circle cx="201.7" cy="1025.4" r="5.65" fill="rgba(14,80,138,0.55)" stroke="rgba(8,62,112,0.8)" stroke-width="1.1"/>
<circle cx="156.0" cy="996.0" r="5.65" fill="rgba(14,80,138,0.55)" stroke="rgba(8,62,112,0.8)" stroke-width="1.1"/>
<circle cx="207.0" cy="1001.0" r="5.65" fill="rgba(14,80,138,0.55)" stroke="rgba(8,62,112,0.8)" stroke-width="1.1"/>
<circle cx="174.0" cy="995.0" r="5.65" fill="rgba(14,80,138,0.55)" stroke="rgba(8,62,112,0.8)" stroke-width="1.1"/>
<circle cx="194.0" cy="1033.0" r="5.65" fill="rgba(14,80,138,0.55)" stroke="rgba(8,62,112,0.8)" stroke-width="1.1"/>
<circle cx="166.0" cy="990.0" r="5.65" fill="rgba(14,80,138,0.55)" stroke="rgba(8,62,112,0.8)" stroke-width="1.1"/>
<circle cx="204.0" cy="1012.0" r="5.65" fill="rgba(14,80,138,0.55)" stroke="rgba(8,62,112,0.8)" stroke-width="1.1"/>
<circle cx="165.0" cy="1015.0" r="5.65" fill="rgba(14,80,138,0.55)" stroke="rgba(8,62,112,0.8)" stroke-width="1.1"/>
<circle cx="172.0" cy="985.0" r="5.65" fill="rgba(14,80,138,0.55)" stroke="rgba(8,62,112,0.8)" stroke-width="1.1"/>
<circle cx="172.1" cy="1031.0" r="5.65" fill="rgba(14,80,138,0.55)" stroke="rgba(8,62,112,0.8)" stroke-width="1.1"/>
<circle cx="183.0" cy="983.0" r="5.65" fill="rgba(14,80,138,0.55)" stroke="rgba(8,62,112,0.8)" stroke-width="1.1"/>
<circle cx="317.8" cy="884.7" r="5.65" fill="rgba(224,58,62,0.5)" stroke="rgba(214,48,58,0.7)" stroke-width="1.1"/>
<circle cx="310.8" cy="909.8" r="5.65" fill="rgba(224,58,62,0.5)" stroke="rgba(214,48,58,0.7)" stroke-width="1.1"/>
<circle cx="329.7" cy="943.1" r="5.65" fill="rgba(224,58,62,0.5)" stroke="rgba(214,48,58,0.7)" stroke-width="1.1"/>
<circle cx="339.3" cy="894.5" r="5.65" fill="rgba(224,58,62,0.5)" stroke="rgba(214,48,58,0.7)" stroke-width="1.1"/>
<circle cx="297.7" cy="1002.0" r="5.65" fill="rgba(224,58,62,0.5)" stroke="rgba(214,48,58,0.7)" stroke-width="1.1"/>
<circle cx="343.7" cy="958.2" r="5.65" fill="rgba(224,58,62,0.5)" stroke="rgba(214,48,58,0.7)" stroke-width="1.1"/>
<circle cx="309.2" cy="855.0" r="5.65" fill="rgba(224,58,62,0.5)" stroke="rgba(214,48,58,0.7)" stroke-width="1.1"/>
<circle cx="303.2" cy="985.5" r="5.65" fill="rgba(224,58,62,0.5)" stroke="rgba(214,48,58,0.7)" stroke-width="1.1"/>
<circle cx="321.1" cy="916.2" r="5.65" fill="rgba(224,58,62,0.5)" stroke="rgba(214,48,58,0.7)" stroke-width="1.1"/>
<circle cx="331.4" cy="889.6" r="5.65" fill="rgba(224,58,62,0.5)" stroke="rgba(214,48,58,0.7)" stroke-width="1.1"/>
<circle cx="305.8" cy="928.0" r="5.65" fill="rgba(224,58,62,0.5)" stroke="rgba(214,48,58,0.7)" stroke-width="1.1"/>
<circle cx="319.6" cy="975.7" r="5.65" fill="rgba(224,58,62,0.5)" stroke="rgba(214,48,58,0.7)" stroke-width="1.1"/>
<circle cx="324.0" cy="910.9" r="5.65" fill="rgba(224,58,62,0.5)" stroke="rgba(214,48,58,0.7)" stroke-width="1.1"/>
<circle cx="301.0" cy="853.9" r="5.65" fill="rgba(224,58,62,0.5)" stroke="rgba(214,48,58,0.7)" stroke-width="1.1"/>
<circle cx="342.6" cy="953.8" r="5.65" fill="rgba(224,58,62,0.5)" stroke="rgba(214,48,58,0.7)" stroke-width="1.1"/>
<circle cx="308.7" cy="898.8" r="5.65" fill="rgba(224,58,62,0.5)" stroke="rgba(214,48,58,0.7)" stroke-width="1.1"/>
<circle cx="297.8" cy="978.4" r="5.65" fill="rgba(224,58,62,0.5)" stroke="rgba(214,48,58,0.7)" stroke-width="1.1"/>
<circle cx="318.2" cy="879.1" r="5.65" fill="rgba(224,58,62,0.5)" stroke="rgba(214,48,58,0.7)" stroke-width="1.1"/>
<circle cx="303.7" cy="1015.2" r="5.65" fill="rgba(224,58,62,0.5)" stroke="rgba(214,48,58,0.7)" stroke-width="1.1"/>
<circle cx="330.6" cy="985.5" r="5.65" fill="rgba(224,58,62,0.5)" stroke="rgba(214,48,58,0.7)" stroke-width="1.1"/>
<circle cx="318.6" cy="910.2" r="5.65" fill="rgba(224,58,62,0.5)" stroke="rgba(214,48,58,0.7)" stroke-width="1.1"/>
<circle cx="328.4" cy="890.1" r="5.65" fill="rgba(224,58,62,0.5)" stroke="rgba(214,48,58,0.7)" stroke-width="1.1"/>
<circle cx="313.0" cy="918.5" r="5.65" fill="rgba(224,58,62,0.5)" stroke="rgba(214,48,58,0.7)" stroke-width="1.1"/>
<circle cx="330.1" cy="903.0" r="5.65" fill="rgba(224,58,62,0.5)" stroke="rgba(214,48,58,0.7)" stroke-width="1.1"/>
<circle cx="300.4" cy="920.7" r="5.65" fill="rgba(224,58,62,0.5)" stroke="rgba(214,48,58,0.7)" stroke-width="1.1"/>
<circle cx="330.1" cy="893.6" r="5.65" fill="rgba(224,58,62,0.5)" stroke="rgba(214,48,58,0.7)" stroke-width="1.1"/>
<circle cx="292.2" cy="975.7" r="5.65" fill="rgba(224,58,62,0.5)" stroke="rgba(214,48,58,0.7)" stroke-width="1.1"/>
<circle cx="331.9" cy="982.5" r="5.65" fill="rgba(224,58,62,0.5)" stroke="rgba(214,48,58,0.7)" stroke-width="1.1"/>
<circle cx="308.7" cy="917.3" r="5.65" fill="rgba(224,58,62,0.5)" stroke="rgba(214,48,58,0.7)" stroke-width="1.1"/>
<circle cx="342.1" cy="1017.4" r="5.65" fill="rgba(224,58,62,0.5)" stroke="rgba(214,48,58,0.7)" stroke-width="1.1"/>
<circle cx="334.9" cy="915.3" r="5.65" fill="rgba(224,58,62,0.5)" stroke="rgba(214,48,58,0.7)" stroke-width="1.1"/>
<circle cx="328.4" cy="948.3" r="5.65" fill="rgba(224,58,62,0.5)" stroke="rgba(214,48,58,0.7)" stroke-width="1.1"/>
<circle cx="322.9" cy="861.6" r="5.65" fill="rgba(224,58,62,0.5)" stroke="rgba(214,48,58,0.7)" stroke-width="1.1"/>
<circle cx="330.6" cy="1000.9" r="5.65" fill="rgba(224,58,62,0.5)" stroke="rgba(214,48,58,0.7)" stroke-width="1.1"/>
<circle cx="295.5" cy="1009.2" r="5.65" fill="rgba(224,58,62,0.5)" stroke="rgba(214,48,58,0.7)" stroke-width="1.1"/>
<circle cx="326.2" cy="898.8" r="5.65" fill="rgba(224,58,62,0.5)" stroke="rgba(214,48,58,0.7)" stroke-width="1.1"/>
<circle cx="291.6" cy="911.0" r="5.65" fill="rgba(224,58,62,0.5)" stroke="rgba(214,48,58,0.7)" stroke-width="1.1"/>
<circle cx="299.0" cy="914.9" r="5.65" fill="rgba(224,58,62,0.5)" stroke="rgba(214,48,58,0.7)" stroke-width="1.1"/>
<circle cx="309.8" cy="974.6" r="5.65" fill="rgba(224,58,62,0.5)" stroke="rgba(214,48,58,0.7)" stroke-width="1.1"/>
<circle cx="330.6" cy="923.1" r="5.65" fill="rgba(224,58,62,0.5)" stroke="rgba(214,48,58,0.7)" stroke-width="1.1"/>
<circle cx="303.9" cy="879.4" r="5.65" fill="rgba(224,58,62,0.5)" stroke="rgba(214,48,58,0.7)" stroke-width="1.1"/>
<circle cx="308.5" cy="905.1" r="5.65" fill="rgba(224,58,62,0.5)" stroke="rgba(214,48,58,0.7)" stroke-width="1.1"/>
<circle cx="332.7" cy="934.1" r="5.65" fill="rgba(224,58,62,0.5)" stroke="rgba(214,48,58,0.7)" stroke-width="1.1"/>
<circle cx="341.6" cy="912.8" r="5.65" fill="rgba(224,58,62,0.5)" stroke="rgba(214,48,58,0.7)" stroke-width="1.1"/>
<circle cx="339.3" cy="999.8" r="5.65" fill="rgba(224,58,62,0.5)" stroke="rgba(214,48,58,0.7)" stroke-width="1.1"/>
<circle cx="322.9" cy="911.3" r="5.65" fill="rgba(224,58,62,0.5)" stroke="rgba(214,48,58,0.7)" stroke-width="1.1"/>
<circle cx="330.0" cy="921.4" r="5.65" fill="rgba(224,58,62,0.5)" stroke="rgba(214,48,58,0.7)" stroke-width="1.1"/>
<circle cx="302.3" cy="829.9" r="5.65" fill="rgba(224,58,62,0.5)" stroke="rgba(214,48,58,0.7)" stroke-width="1.1"/>
<circle cx="312.9" cy="879.9" r="5.65" fill="rgba(224,58,62,0.5)" stroke="rgba(214,48,58,0.7)" stroke-width="1.1"/>
<circle cx="339.3" cy="875.8" r="5.65" fill="rgba(224,58,62,0.5)" stroke="rgba(214,48,58,0.7)" stroke-width="1.1"/>
<circle cx="328.9" cy="942.7" r="5.65" fill="rgba(224,58,62,0.5)" stroke="rgba(214,48,58,0.7)" stroke-width="1.1"/>
<circle cx="340.4" cy="881.3" r="5.65" fill="rgba(224,58,62,0.5)" stroke="rgba(214,48,58,0.7)" stroke-width="1.1"/>
<circle cx="330.3" cy="877.1" r="5.65" fill="rgba(224,58,62,0.5)" stroke="rgba(214,48,58,0.7)" stroke-width="1.1"/>
<circle cx="306.5" cy="1003.1" r="5.65" fill="rgba(224,58,62,0.5)" stroke="rgba(214,48,58,0.7)" stroke-width="1.1"/>
<circle cx="317.4" cy="876.9" r="5.65" fill="rgba(224,58,62,0.5)" stroke="rgba(214,48,58,0.7)" stroke-width="1.1"/>
<circle cx="328.4" cy="956.2" r="5.65" fill="rgba(224,58,62,0.5)" stroke="rgba(214,48,58,0.7)" stroke-width="1.1"/>
<circle cx="337.1" cy="868.2" r="5.65" fill="rgba(224,58,62,0.5)" stroke="rgba(214,48,58,0.7)" stroke-width="1.1"/>
<circle cx="319.3" cy="944.2" r="5.65" fill="rgba(224,58,62,0.5)" stroke="rgba(214,48,58,0.7)" stroke-width="1.1"/>
<circle cx="304.8" cy="919.7" r="5.65" fill="rgba(224,58,62,0.5)" stroke="rgba(214,48,58,0.7)" stroke-width="1.1"/>
<circle cx="294.4" cy="879.1" r="5.65" fill="rgba(224,58,62,0.5)" stroke="rgba(214,48,58,0.7)" stroke-width="1.1"/>
<circle cx="321.3" cy="922.5" r="5.65" fill="rgba(224,58,62,0.5)" stroke="rgba(214,48,58,0.7)" stroke-width="1.1"/>
<circle cx="299.5" cy="913.6" r="5.65" fill="rgba(224,58,62,0.5)" stroke="rgba(214,48,58,0.7)" stroke-width="1.1"/>
<circle cx="342.6" cy="938.5" r="5.65" fill="rgba(224,58,62,0.5)" stroke="rgba(214,48,58,0.7)" stroke-width="1.1"/>
<circle cx="333.4" cy="981.0" r="5.65" fill="rgba(224,58,62,0.5)" stroke="rgba(214,48,58,0.7)" stroke-width="1.1"/>
<circle cx="340.6" cy="971.1" r="5.65" fill="rgba(224,58,62,0.5)" stroke="rgba(214,48,58,0.7)" stroke-width="1.1"/>
<circle cx="329.5" cy="884.6" r="5.65" fill="rgba(14,80,138,0.55)" stroke="rgba(8,62,112,0.8)" stroke-width="1.1"/>
<circle cx="297.7" cy="962.6" r="5.65" fill="rgba(14,80,138,0.55)" stroke="rgba(8,62,112,0.8)" stroke-width="1.1"/>
<circle cx="313.0" cy="866.0" r="5.65" fill="rgba(14,80,138,0.55)" stroke="rgba(8,62,112,0.8)" stroke-width="1.1"/>
<circle cx="294.4" cy="916.4" r="5.65" fill="rgba(14,80,138,0.55)" stroke="rgba(8,62,112,0.8)" stroke-width="1.1"/>
<circle cx="297.1" cy="911.2" r="5.65" fill="rgba(14,80,138,0.55)" stroke="rgba(8,62,112,0.8)" stroke-width="1.1"/>
<circle cx="338.2" cy="969.2" r="5.65" fill="rgba(14,80,138,0.55)" stroke="rgba(8,62,112,0.8)" stroke-width="1.1"/>
<circle cx="297.7" cy="1005.3" r="5.65" fill="rgba(14,80,138,0.55)" stroke="rgba(8,62,112,0.8)" stroke-width="1.1"/>
<circle cx="337.7" cy="855.0" r="5.65" fill="rgba(14,80,138,0.55)" stroke="rgba(8,62,112,0.8)" stroke-width="1.1"/>
<circle cx="325.1" cy="878.0" r="5.65" fill="rgba(14,80,138,0.55)" stroke="rgba(8,62,112,0.8)" stroke-width="1.1"/>
<circle cx="330.6" cy="987.5" r="5.65" fill="rgba(14,80,138,0.55)" stroke="rgba(8,62,112,0.8)" stroke-width="1.1"/>
<circle cx="319.6" cy="909.8" r="5.65" fill="rgba(14,80,138,0.55)" stroke="rgba(8,62,112,0.8)" stroke-width="1.1"/>
<circle cx="324.6" cy="907.6" r="5.65" fill="rgba(14,80,138,0.55)" stroke="rgba(8,62,112,0.8)" stroke-width="1.1"/>
<circle cx="310.8" cy="928.6" r="5.65" fill="rgba(14,80,138,0.55)" stroke="rgba(8,62,112,0.8)" stroke-width="1.1"/>
<circle cx="328.9" cy="866.5" r="5.65" fill="rgba(14,80,138,0.55)" stroke="rgba(8,62,112,0.8)" stroke-width="1.1"/>
<circle cx="299.9" cy="975.7" r="5.65" fill="rgba(14,80,138,0.55)" stroke="rgba(8,62,112,0.8)" stroke-width="1.1"/>
<circle cx="302.6" cy="864.9" r="5.65" fill="rgba(14,80,138,0.55)" stroke="rgba(8,62,112,0.8)" stroke-width="1.1"/>
<circle cx="308.7" cy="984.5" r="5.65" fill="rgba(14,80,138,0.55)" stroke="rgba(8,62,112,0.8)" stroke-width="1.1"/>
<circle cx="329.5" cy="956.0" r="5.65" fill="rgba(14,80,138,0.55)" stroke="rgba(8,62,112,0.8)" stroke-width="1.1"/>
<circle cx="306.5" cy="888.4" r="5.65" fill="rgba(14,80,138,0.55)" stroke="rgba(8,62,112,0.8)" stroke-width="1.1"/>
<circle cx="316.3" cy="993.2" r="5.65" fill="rgba(14,80,138,0.55)" stroke="rgba(8,62,112,0.8)" stroke-width="1.1"/>
<circle cx="339.9" cy="1029.4" r="5.65" fill="rgba(14,80,138,0.55)" stroke="rgba(8,62,112,0.8)" stroke-width="1.1"/>
<circle cx="341.5" cy="901.0" r="5.65" fill="rgba(14,80,138,0.55)" stroke="rgba(8,62,112,0.8)" stroke-width="1.1"/>
<circle cx="301.0" cy="910.9" r="5.65" fill="rgba(14,80,138,0.55)" stroke="rgba(8,62,112,0.8)" stroke-width="1.1"/>
<circle cx="325.9" cy="948.5" r="5.65" fill="rgba(14,80,138,0.55)" stroke="rgba(8,62,112,0.8)" stroke-width="1.1"/>
<circle cx="332.7" cy="907.6" r="5.65" fill="rgba(14,80,138,0.55)" stroke="rgba(8,62,112,0.8)" stroke-width="1.1"/>
<circle cx="332.7" cy="993.2" r="5.65" fill="rgba(14,80,138,0.55)" stroke="rgba(8,62,112,0.8)" stroke-width="1.1"/>
<circle cx="299.9" cy="949.4" r="5.65" fill="rgba(14,80,138,0.55)" stroke="rgba(8,62,112,0.8)" stroke-width="1.1"/>
<circle cx="316.3" cy="935.2" r="5.65" fill="rgba(14,80,138,0.55)" stroke="rgba(8,62,112,0.8)" stroke-width="1.1"/>
<circle cx="298.8" cy="866.0" r="5.65" fill="rgba(14,80,138,0.55)" stroke="rgba(8,62,112,0.8)" stroke-width="1.1"/>
<circle cx="312.0" cy="1014.6" r="5.65" fill="rgba(14,80,138,0.55)" stroke="rgba(8,62,112,0.8)" stroke-width="1.1"/>
<circle cx="311.9" cy="883.5" r="5.65" fill="rgba(14,80,138,0.55)" stroke="rgba(8,62,112,0.8)" stroke-width="1.1"/>
<circle cx="316.3" cy="922.0" r="5.65" fill="rgba(14,80,138,0.55)" stroke="rgba(8,62,112,0.8)" stroke-width="1.1"/>
<circle cx="317.4" cy="963.7" r="5.65" fill="rgba(14,80,138,0.55)" stroke="rgba(8,62,112,0.8)" stroke-width="1.1"/>
<circle cx="344.8" cy="926.4" r="5.65" fill="rgba(14,80,138,0.55)" stroke="rgba(8,62,112,0.8)" stroke-width="1.1"/>
<circle cx="333.8" cy="976.8" r="5.65" fill="rgba(14,80,138,0.55)" stroke="rgba(8,62,112,0.8)" stroke-width="1.1"/>
<circle cx="319.6" cy="952.7" r="5.65" fill="rgba(14,80,138,0.55)" stroke="rgba(8,62,112,0.8)" stroke-width="1.1"/>
<circle cx="342.6" cy="907.6" r="5.65" fill="rgba(14,80,138,0.55)" stroke="rgba(8,62,112,0.8)" stroke-width="1.1"/>
<circle cx="345.9" cy="962.1" r="5.65" fill="rgba(14,80,138,0.55)" stroke="rgba(8,62,112,0.8)" stroke-width="1.1"/>
<circle cx="296.6" cy="919.9" r="5.65" fill="rgba(14,80,138,0.55)" stroke="rgba(8,62,112,0.8)" stroke-width="1.1"/>
<circle cx="314.1" cy="1000.9" r="5.65" fill="rgba(14,80,138,0.55)" stroke="rgba(8,62,112,0.8)" stroke-width="1.1"/>
<circle cx="319.6" cy="902.1" r="5.65" fill="rgba(14,80,138,0.55)" stroke="rgba(8,62,112,0.8)" stroke-width="1.1"/>
<circle cx="302.1" cy="889.0" r="5.65" fill="rgba(14,80,138,0.55)" stroke="rgba(8,62,112,0.8)" stroke-width="1.1"/>
<circle cx="333.8" cy="943.9" r="5.65" fill="rgba(14,80,138,0.55)" stroke="rgba(8,62,112,0.8)" stroke-width="1.1"/>
<circle cx="318.5" cy="890.1" r="5.65" fill="rgba(14,80,138,0.55)" stroke="rgba(8,62,112,0.8)" stroke-width="1.1"/>
<circle cx="310.1" cy="912.7" r="5.65" fill="rgba(14,80,138,0.55)" stroke="rgba(8,62,112,0.8)" stroke-width="1.1"/>
<circle cx="308.7" cy="963.7" r="5.65" fill="rgba(14,80,138,0.55)" stroke="rgba(8,62,112,0.8)" stroke-width="1.1"/>
<circle cx="304.8" cy="915.0" r="5.65" fill="rgba(14,80,138,0.55)" stroke="rgba(8,62,112,0.8)" stroke-width="1.1"/>
<circle cx="303.2" cy="916.4" r="5.65" fill="rgba(14,80,138,0.55)" stroke="rgba(8,62,112,0.8)" stroke-width="1.1"/>
<circle cx="322.9" cy="853.9" r="5.65" fill="rgba(14,80,138,0.55)" stroke="rgba(8,62,112,0.8)" stroke-width="1.1"/>
<circle cx="295.5" cy="909.8" r="5.65" fill="rgba(14,80,138,0.55)" stroke="rgba(8,62,112,0.8)" stroke-width="1.1"/>
<circle cx="306.5" cy="922.0" r="5.65" fill="rgba(14,80,138,0.55)" stroke="rgba(8,62,112,0.8)" stroke-width="1.1"/>
<circle cx="343.0" cy="971.9" r="5.65" fill="rgba(14,80,138,0.55)" stroke="rgba(8,62,112,0.8)" stroke-width="1.1"/>
<circle cx="343.1" cy="968.6" r="5.65" fill="rgba(14,80,138,0.55)" stroke="rgba(8,62,112,0.8)" stroke-width="1.1"/>
<circle cx="294.4" cy="901.0" r="5.65" fill="rgba(14,80,138,0.55)" stroke="rgba(8,62,112,0.8)" stroke-width="1.1"/>
<circle cx="324.0" cy="981.2" r="5.65" fill="rgba(14,80,138,0.55)" stroke="rgba(8,62,112,0.8)" stroke-width="1.1"/>
<circle cx="322.1" cy="899.4" r="5.65" fill="rgba(14,80,138,0.55)" stroke="rgba(8,62,112,0.8)" stroke-width="1.1"/>
<circle cx="307.6" cy="952.7" r="5.65" fill="rgba(14,80,138,0.55)" stroke="rgba(8,62,112,0.8)" stroke-width="1.1"/>
<circle cx="306.5" cy="878.0" r="5.65" fill="rgba(14,80,138,0.55)" stroke="rgba(8,62,112,0.8)" stroke-width="1.1"/>
<circle cx="319.6" cy="943.9" r="5.65" fill="rgba(14,80,138,0.55)" stroke="rgba(8,62,112,0.8)" stroke-width="1.1"/>
<circle cx="292.2" cy="929.7" r="5.65" fill="rgba(14,80,138,0.55)" stroke="rgba(8,62,112,0.8)" stroke-width="1.1"/>
<circle cx="341.5" cy="933.0" r="5.65" fill="rgba(14,80,138,0.55)" stroke="rgba(8,62,112,0.8)" stroke-width="1.1"/>
<circle cx="317.4" cy="918.5" r="5.65" fill="rgba(14,80,138,0.55)" stroke="rgba(8,62,112,0.8)" stroke-width="1.1"/>
<circle cx="291.0" cy="908.8" r="5.65" fill="rgba(14,80,138,0.55)" stroke="rgba(8,62,112,0.8)" stroke-width="1.1"/>
<circle cx="298.8" cy="898.8" r="5.65" fill="rgba(14,80,138,0.55)" stroke="rgba(8,62,112,0.8)" stroke-width="1.1"/>
<circle cx="343.0" cy="902.2" r="5.65" fill="rgba(14,80,138,0.55)" stroke="rgba(8,62,112,0.8)" stroke-width="1.1"/>
<circle cx="308.7" cy="940.7" r="5.65" fill="rgba(14,80,138,0.55)" stroke="rgba(8,62,112,0.8)" stroke-width="1.1"/>
<circle cx="309.0" cy="904.5" r="5.65" fill="rgba(14,80,138,0.55)" stroke="rgba(8,62,112,0.8)" stroke-width="1.1"/>
<circle cx="318.0" cy="920.8" r="5.65" fill="rgba(14,80,138,0.55)" stroke="rgba(8,62,112,0.8)" stroke-width="1.1"/>
<circle cx="297.0" cy="920.6" r="5.65" fill="rgba(14,80,138,0.55)" stroke="rgba(8,62,112,0.8)" stroke-width="1.1"/>
<circle cx="293.5" cy="841.4" r="5.65" fill="rgba(14,80,138,0.55)" stroke="rgba(8,62,112,0.8)" stroke-width="1.1"/>
<circle cx="343.1" cy="859.4" r="5.65" fill="rgba(14,80,138,0.55)" stroke="rgba(8,62,112,0.8)" stroke-width="1.1"/>
<circle cx="291.0" cy="897.6" r="5.65" fill="rgba(14,80,138,0.55)" stroke="rgba(8,62,112,0.8)" stroke-width="1.1"/>
<circle cx="308.7" cy="961.5" r="5.65" fill="rgba(14,80,138,0.55)" stroke="rgba(8,62,112,0.8)" stroke-width="1.1"/>
<circle cx="297.2" cy="935.2" r="5.65" fill="rgba(14,80,138,0.55)" stroke="rgba(8,62,112,0.8)" stroke-width="1.1"/>
<circle cx="448.1" cy="901.2" r="5.65" fill="rgba(224,58,62,0.5)" stroke="rgba(214,48,58,0.7)" stroke-width="1.1"/>
<circle cx="433.9" cy="766.2" r="5.65" fill="rgba(224,58,62,0.5)" stroke="rgba(214,48,58,0.7)" stroke-width="1.1"/>
<circle cx="432.3" cy="867.8" r="5.65" fill="rgba(224,58,62,0.5)" stroke="rgba(214,48,58,0.7)" stroke-width="1.1"/>
<circle cx="476.0" cy="925.8" r="5.65" fill="rgba(224,58,62,0.5)" stroke="rgba(214,48,58,0.7)" stroke-width="1.1"/>
<circle cx="460.2" cy="977.4" r="5.65" fill="rgba(224,58,62,0.5)" stroke="rgba(214,48,58,0.7)" stroke-width="1.1"/>
<circle cx="442.1" cy="866.0" r="5.65" fill="rgba(224,58,62,0.5)" stroke="rgba(214,48,58,0.7)" stroke-width="1.1"/>
<circle cx="466.9" cy="772.0" r="5.65" fill="rgba(224,58,62,0.5)" stroke="rgba(214,48,58,0.7)" stroke-width="1.1"/>
<circle cx="484.2" cy="764.5" r="5.65" fill="rgba(224,58,62,0.5)" stroke="rgba(214,48,58,0.7)" stroke-width="1.1"/>
<circle cx="452.0" cy="784.5" r="5.65" fill="rgba(224,58,62,0.5)" stroke="rgba(214,48,58,0.7)" stroke-width="1.1"/>
<circle cx="478.2" cy="939.0" r="5.65" fill="rgba(224,58,62,0.5)" stroke="rgba(214,48,58,0.7)" stroke-width="1.1"/>
<circle cx="450.7" cy="797.3" r="5.65" fill="rgba(224,58,62,0.5)" stroke="rgba(214,48,58,0.7)" stroke-width="1.1"/>
<circle cx="480.4" cy="783.1" r="5.65" fill="rgba(224,58,62,0.5)" stroke="rgba(214,48,58,0.7)" stroke-width="1.1"/>
<circle cx="446.5" cy="783.1" r="5.65" fill="rgba(224,58,62,0.5)" stroke="rgba(214,48,58,0.7)" stroke-width="1.1"/>
<circle cx="433.3" cy="823.8" r="5.65" fill="rgba(224,58,62,0.5)" stroke="rgba(214,48,58,0.7)" stroke-width="1.1"/>
<circle cx="438.8" cy="926.9" r="5.65" fill="rgba(224,58,62,0.5)" stroke="rgba(214,48,58,0.7)" stroke-width="1.1"/>
<circle cx="448.2" cy="867.3" r="5.65" fill="rgba(224,58,62,0.5)" stroke="rgba(214,48,58,0.7)" stroke-width="1.1"/>
<circle cx="430.8" cy="771.6" r="5.65" fill="rgba(224,58,62,0.5)" stroke="rgba(214,48,58,0.7)" stroke-width="1.1"/>
<circle cx="482.6" cy="971.4" r="5.65" fill="rgba(224,58,62,0.5)" stroke="rgba(214,48,58,0.7)" stroke-width="1.1"/>
<circle cx="474.9" cy="813.9" r="5.65" fill="rgba(224,58,62,0.5)" stroke="rgba(214,48,58,0.7)" stroke-width="1.1"/>
<circle cx="452.0" cy="876.6" r="5.65" fill="rgba(224,58,62,0.5)" stroke="rgba(214,48,58,0.7)" stroke-width="1.1"/>
<circle cx="432.2" cy="810.7" r="5.65" fill="rgba(224,58,62,0.5)" stroke="rgba(214,48,58,0.7)" stroke-width="1.1"/>
<circle cx="458.6" cy="829.3" r="5.65" fill="rgba(224,58,62,0.5)" stroke="rgba(214,48,58,0.7)" stroke-width="1.1"/>
<circle cx="444.8" cy="972.5" r="5.65" fill="rgba(224,58,62,0.5)" stroke="rgba(214,48,58,0.7)" stroke-width="1.1"/>
<circle cx="467.7" cy="808.9" r="5.65" fill="rgba(224,58,62,0.5)" stroke="rgba(214,48,58,0.7)" stroke-width="1.1"/>
<circle cx="428.3" cy="879.6" r="5.65" fill="rgba(224,58,62,0.5)" stroke="rgba(214,48,58,0.7)" stroke-width="1.1"/>
<circle cx="479.3" cy="847.9" r="5.65" fill="rgba(224,58,62,0.5)" stroke="rgba(214,48,58,0.7)" stroke-width="1.1"/>
<circle cx="461.8" cy="857.7" r="5.65" fill="rgba(224,58,62,0.5)" stroke="rgba(214,48,58,0.7)" stroke-width="1.1"/>
<circle cx="446.5" cy="931.3" r="5.65" fill="rgba(224,58,62,0.5)" stroke="rgba(214,48,58,0.7)" stroke-width="1.1"/>
<circle cx="448.7" cy="914.9" r="5.65" fill="rgba(224,58,62,0.5)" stroke="rgba(214,48,58,0.7)" stroke-width="1.1"/>
<circle cx="483.7" cy="917.1" r="5.65" fill="rgba(224,58,62,0.5)" stroke="rgba(214,48,58,0.7)" stroke-width="1.1"/>
<circle cx="436.6" cy="766.6" r="5.65" fill="rgba(224,58,62,0.5)" stroke="rgba(214,48,58,0.7)" stroke-width="1.1"/>
<circle cx="453.3" cy="835.2" r="5.65" fill="rgba(224,58,62,0.5)" stroke="rgba(214,48,58,0.7)" stroke-width="1.1"/>
<circle cx="464.5" cy="767.2" r="5.65" fill="rgba(224,58,62,0.5)" stroke="rgba(214,48,58,0.7)" stroke-width="1.1"/>
<circle cx="448.7" cy="887.5" r="5.65" fill="rgba(224,58,62,0.5)" stroke="rgba(214,48,58,0.7)" stroke-width="1.1"/>
<circle cx="465.1" cy="948.3" r="5.65" fill="rgba(224,58,62,0.5)" stroke="rgba(214,48,58,0.7)" stroke-width="1.1"/>
<circle cx="458.1" cy="839.0" r="5.65" fill="rgba(224,58,62,0.5)" stroke="rgba(214,48,58,0.7)" stroke-width="1.1"/>
<circle cx="465.8" cy="836.6" r="5.65" fill="rgba(224,58,62,0.5)" stroke="rgba(214,48,58,0.7)" stroke-width="1.1"/>
<circle cx="431.7" cy="906.1" r="5.65" fill="rgba(224,58,62,0.5)" stroke="rgba(214,48,58,0.7)" stroke-width="1.1"/>
<circle cx="462.9" cy="955.4" r="5.65" fill="rgba(224,58,62,0.5)" stroke="rgba(214,48,58,0.7)" stroke-width="1.1"/>
<circle cx="439.9" cy="819.4" r="5.65" fill="rgba(224,58,62,0.5)" stroke="rgba(214,48,58,0.7)" stroke-width="1.1"/>
<circle cx="467.3" cy="774.3" r="5.65" fill="rgba(224,58,62,0.5)" stroke="rgba(214,48,58,0.7)" stroke-width="1.1"/>
<circle cx="431.1" cy="874.4" r="5.65" fill="rgba(224,58,62,0.5)" stroke="rgba(214,48,58,0.7)" stroke-width="1.1"/>
<circle cx="457.0" cy="768.0" r="5.65" fill="rgba(224,58,62,0.5)" stroke="rgba(214,48,58,0.7)" stroke-width="1.1"/>
<circle cx="465.1" cy="888.6" r="5.65" fill="rgba(224,58,62,0.5)" stroke="rgba(214,48,58,0.7)" stroke-width="1.1"/>
<circle cx="452.5" cy="969.2" r="5.65" fill="rgba(224,58,62,0.5)" stroke="rgba(214,48,58,0.7)" stroke-width="1.1"/>
<circle cx="474.9" cy="775.4" r="5.65" fill="rgba(224,58,62,0.5)" stroke="rgba(214,48,58,0.7)" stroke-width="1.1"/>
<circle cx="428.7" cy="797.7" r="5.65" fill="rgba(224,58,62,0.5)" stroke="rgba(214,48,58,0.7)" stroke-width="1.1"/>
<circle cx="469.3" cy="858.6" r="5.65" fill="rgba(224,58,62,0.5)" stroke="rgba(214,48,58,0.7)" stroke-width="1.1"/>
<circle cx="459.6" cy="766.6" r="5.65" fill="rgba(224,58,62,0.5)" stroke="rgba(214,48,58,0.7)" stroke-width="1.1"/>
<circle cx="451.2" cy="822.6" r="5.65" fill="rgba(224,58,62,0.5)" stroke="rgba(214,48,58,0.7)" stroke-width="1.1"/>
<circle cx="449.2" cy="818.4" r="5.65" fill="rgba(224,58,62,0.5)" stroke="rgba(214,48,58,0.7)" stroke-width="1.1"/>
<circle cx="456.0" cy="809.1" r="5.65" fill="rgba(224,58,62,0.5)" stroke="rgba(214,48,58,0.7)" stroke-width="1.1"/>
<circle cx="434.8" cy="815.3" r="5.65" fill="rgba(224,58,62,0.5)" stroke="rgba(214,48,58,0.7)" stroke-width="1.1"/>
<circle cx="455.2" cy="765.5" r="5.65" fill="rgba(224,58,62,0.5)" stroke="rgba(214,48,58,0.7)" stroke-width="1.1"/>
<circle cx="429.0" cy="874.2" r="5.65" fill="rgba(224,58,62,0.5)" stroke="rgba(214,48,58,0.7)" stroke-width="1.1"/>
<circle cx="435.5" cy="917.1" r="5.65" fill="rgba(224,58,62,0.5)" stroke="rgba(214,48,58,0.7)" stroke-width="1.1"/>
<circle cx="435.4" cy="815.0" r="5.65" fill="rgba(224,58,62,0.5)" stroke="rgba(214,48,58,0.7)" stroke-width="1.1"/>
<circle cx="438.6" cy="781.9" r="5.65" fill="rgba(224,58,62,0.5)" stroke="rgba(214,48,58,0.7)" stroke-width="1.1"/>
<circle cx="452.5" cy="789.6" r="5.65" fill="rgba(224,58,62,0.5)" stroke="rgba(214,48,58,0.7)" stroke-width="1.1"/>
<circle cx="477.4" cy="777.8" r="5.65" fill="rgba(224,58,62,0.5)" stroke="rgba(214,48,58,0.7)" stroke-width="1.1"/>
<circle cx="439.9" cy="856.6" r="5.65" fill="rgba(224,58,62,0.5)" stroke="rgba(214,48,58,0.7)" stroke-width="1.1"/>
<circle cx="479.3" cy="784.4" r="5.65" fill="rgba(224,58,62,0.5)" stroke="rgba(214,48,58,0.7)" stroke-width="1.1"/>
<circle cx="475.8" cy="835.4" r="5.65" fill="rgba(224,58,62,0.5)" stroke="rgba(214,48,58,0.7)" stroke-width="1.1"/>
<circle cx="448.7" cy="782.2" r="5.65" fill="rgba(224,58,62,0.5)" stroke="rgba(214,48,58,0.7)" stroke-width="1.1"/>
<circle cx="461.8" cy="870.9" r="5.65" fill="rgba(224,58,62,0.5)" stroke="rgba(214,48,58,0.7)" stroke-width="1.1"/>
<circle cx="481.0" cy="759.0" r="5.65" fill="rgba(224,58,62,0.5)" stroke="rgba(214,48,58,0.7)" stroke-width="1.1"/>
<circle cx="450.8" cy="1019.6" r="5.65" fill="rgba(224,58,62,0.5)" stroke="rgba(214,48,58,0.7)" stroke-width="1.1"/>
<circle cx="453.0" cy="869.8" r="5.65" fill="rgba(224,58,62,0.5)" stroke="rgba(214,48,58,0.7)" stroke-width="1.1"/>
<circle cx="439.9" cy="787.4" r="5.65" fill="rgba(224,58,62,0.5)" stroke="rgba(214,48,58,0.7)" stroke-width="1.1"/>
<circle cx="445.4" cy="828.2" r="5.65" fill="rgba(224,58,62,0.5)" stroke="rgba(214,48,58,0.7)" stroke-width="1.1"/>
<circle cx="472.9" cy="787.3" r="5.65" fill="rgba(224,58,62,0.5)" stroke="rgba(214,48,58,0.7)" stroke-width="1.1"/>
<circle cx="456.3" cy="779.8" r="5.65" fill="rgba(224,58,62,0.5)" stroke="rgba(214,48,58,0.7)" stroke-width="1.1"/>
<circle cx="446.3" cy="807.9" r="5.65" fill="rgba(224,58,62,0.5)" stroke="rgba(214,48,58,0.7)" stroke-width="1.1"/>
<circle cx="433.3" cy="756.8" r="5.65" fill="rgba(224,58,62,0.5)" stroke="rgba(214,48,58,0.7)" stroke-width="1.1"/>
<circle cx="482.6" cy="878.8" r="5.65" fill="rgba(224,58,62,0.5)" stroke="rgba(214,48,58,0.7)" stroke-width="1.1"/>
<circle cx="429.0" cy="811.0" r="5.65" fill="rgba(224,58,62,0.5)" stroke="rgba(214,48,58,0.7)" stroke-width="1.1"/>
<circle cx="443.1" cy="868.1" r="5.65" fill="rgba(224,58,62,0.5)" stroke="rgba(214,48,58,0.7)" stroke-width="1.1"/>
<circle cx="428.0" cy="870.7" r="5.65" fill="rgba(224,58,62,0.5)" stroke="rgba(214,48,58,0.7)" stroke-width="1.1"/>
<circle cx="439.9" cy="786.2" r="5.65" fill="rgba(224,58,62,0.5)" stroke="rgba(214,48,58,0.7)" stroke-width="1.1"/>
<circle cx="439.9" cy="790.9" r="5.65" fill="rgba(224,58,62,0.5)" stroke="rgba(214,48,58,0.7)" stroke-width="1.1"/>
<circle cx="483.2" cy="786.7" r="5.65" fill="rgba(224,58,62,0.5)" stroke="rgba(214,48,58,0.7)" stroke-width="1.1"/>
<circle cx="435.9" cy="783.4" r="5.65" fill="rgba(224,58,62,0.5)" stroke="rgba(214,48,58,0.7)" stroke-width="1.1"/>
<circle cx="481.1" cy="875.1" r="5.65" fill="rgba(224,58,62,0.5)" stroke="rgba(214,48,58,0.7)" stroke-width="1.1"/>
<circle cx="456.3" cy="801.9" r="5.65" fill="rgba(224,58,62,0.5)" stroke="rgba(214,48,58,0.7)" stroke-width="1.1"/>
<circle cx="433.3" cy="874.9" r="5.65" fill="rgba(14,80,138,0.55)" stroke="rgba(8,62,112,0.8)" stroke-width="1.1"/>
<circle cx="450.8" cy="794.1" r="5.65" fill="rgba(14,80,138,0.55)" stroke="rgba(8,62,112,0.8)" stroke-width="1.1"/>
<circle cx="481.5" cy="796.4" r="5.65" fill="rgba(14,80,138,0.55)" stroke="rgba(8,62,112,0.8)" stroke-width="1.1"/>
<circle cx="455.2" cy="937.9" r="5.65" fill="rgba(14,80,138,0.55)" stroke="rgba(8,62,112,0.8)" stroke-width="1.1"/>
<circle cx="476.6" cy="896.8" r="5.65" fill="rgba(14,80,138,0.55)" stroke="rgba(8,62,112,0.8)" stroke-width="1.1"/>
<circle cx="437.7" cy="956.5" r="5.65" fill="rgba(14,80,138,0.55)" stroke="rgba(8,62,112,0.8)" stroke-width="1.1"/>
<circle cx="452.0" cy="774.3" r="5.65" fill="rgba(14,80,138,0.55)" stroke="rgba(8,62,112,0.8)" stroke-width="1.1"/>
<circle cx="482.6" cy="818.3" r="5.65" fill="rgba(14,80,138,0.55)" stroke="rgba(8,62,112,0.8)" stroke-width="1.1"/>
<circle cx="444.9" cy="802.8" r="5.65" fill="rgba(14,80,138,0.55)" stroke="rgba(8,62,112,0.8)" stroke-width="1.1"/>
<circle cx="471.6" cy="793.8" r="5.65" fill="rgba(14,80,138,0.55)" stroke="rgba(8,62,112,0.8)" stroke-width="1.1"/>
<circle cx="450.6" cy="836.4" r="5.65" fill="rgba(14,80,138,0.55)" stroke="rgba(8,62,112,0.8)" stroke-width="1.1"/>
<circle cx="431.7" cy="887.5" r="5.65" fill="rgba(14,80,138,0.55)" stroke="rgba(8,62,112,0.8)" stroke-width="1.1"/>
<circle cx="435.0" cy="810.3" r="5.65" fill="rgba(14,80,138,0.55)" stroke="rgba(8,62,112,0.8)" stroke-width="1.1"/>
<circle cx="456.3" cy="755.7" r="5.65" fill="rgba(14,80,138,0.55)" stroke="rgba(8,62,112,0.8)" stroke-width="1.1"/>
<circle cx="445.4" cy="811.0" r="5.65" fill="rgba(14,80,138,0.55)" stroke="rgba(8,62,112,0.8)" stroke-width="1.1"/>
<circle cx="452.0" cy="788.5" r="5.65" fill="rgba(14,80,138,0.55)" stroke="rgba(8,62,112,0.8)" stroke-width="1.1"/>
<circle cx="471.7" cy="810.4" r="5.65" fill="rgba(14,80,138,0.55)" stroke="rgba(8,62,112,0.8)" stroke-width="1.1"/>
<circle cx="444.1" cy="838.2" r="5.65" fill="rgba(14,80,138,0.55)" stroke="rgba(8,62,112,0.8)" stroke-width="1.1"/>
<circle cx="452.1" cy="784.1" r="5.65" fill="rgba(14,80,138,0.55)" stroke="rgba(8,62,112,0.8)" stroke-width="1.1"/>
<circle cx="450.8" cy="841.7" r="5.65" fill="rgba(14,80,138,0.55)" stroke="rgba(8,62,112,0.8)" stroke-width="1.1"/>
<circle cx="456.3" cy="921.5" r="5.65" fill="rgba(14,80,138,0.55)" stroke="rgba(8,62,112,0.8)" stroke-width="1.1"/>
<circle cx="470.0" cy="765.5" r="5.65" fill="rgba(14,80,138,0.55)" stroke="rgba(8,62,112,0.8)" stroke-width="1.1"/>
<circle cx="429.0" cy="897.9" r="5.65" fill="rgba(14,80,138,0.55)" stroke="rgba(8,62,112,0.8)" stroke-width="1.1"/>
<circle cx="448.7" cy="854.3" r="5.65" fill="rgba(14,80,138,0.55)" stroke="rgba(8,62,112,0.8)" stroke-width="1.1"/>
<circle cx="455.2" cy="818.3" r="5.65" fill="rgba(14,80,138,0.55)" stroke="rgba(8,62,112,0.8)" stroke-width="1.1"/>
<circle cx="447.6" cy="866.5" r="5.65" fill="rgba(14,80,138,0.55)" stroke="rgba(8,62,112,0.8)" stroke-width="1.1"/>
<circle cx="447.6" cy="812.8" r="5.65" fill="rgba(14,80,138,0.55)" stroke="rgba(8,62,112,0.8)" stroke-width="1.1"/>
<circle cx="441.0" cy="832.6" r="5.65" fill="rgba(14,80,138,0.55)" stroke="rgba(8,62,112,0.8)" stroke-width="1.1"/>
<circle cx="477.1" cy="872.0" r="5.65" fill="rgba(14,80,138,0.55)" stroke="rgba(8,62,112,0.8)" stroke-width="1.1"/>
<circle cx="481.5" cy="908.3" r="5.65" fill="rgba(14,80,138,0.55)" stroke="rgba(8,62,112,0.8)" stroke-width="1.1"/>
<circle cx="461.8" cy="913.8" r="5.65" fill="rgba(14,80,138,0.55)" stroke="rgba(8,62,112,0.8)" stroke-width="1.1"/>
<circle cx="468.4" cy="906.1" r="5.65" fill="rgba(14,80,138,0.55)" stroke="rgba(8,62,112,0.8)" stroke-width="1.1"/>
<circle cx="452.6" cy="801.3" r="5.65" fill="rgba(14,80,138,0.55)" stroke="rgba(8,62,112,0.8)" stroke-width="1.1"/>
<circle cx="431.1" cy="801.9" r="5.65" fill="rgba(14,80,138,0.55)" stroke="rgba(8,62,112,0.8)" stroke-width="1.1"/>
<circle cx="435.5" cy="936.8" r="5.65" fill="rgba(14,80,138,0.55)" stroke="rgba(8,62,112,0.8)" stroke-width="1.1"/>
<circle cx="453.0" cy="850.1" r="5.65" fill="rgba(14,80,138,0.55)" stroke="rgba(8,62,112,0.8)" stroke-width="1.1"/>
<circle cx="429.3" cy="861.0" r="5.65" fill="rgba(14,80,138,0.55)" stroke="rgba(8,62,112,0.8)" stroke-width="1.1"/>
<circle cx="429.0" cy="778.1" r="5.65" fill="rgba(14,80,138,0.55)" stroke="rgba(8,62,112,0.8)" stroke-width="1.1"/>
<circle cx="462.9" cy="832.6" r="5.65" fill="rgba(14,80,138,0.55)" stroke="rgba(8,62,112,0.8)" stroke-width="1.1"/>
<circle cx="471.7" cy="878.5" r="5.65" fill="rgba(14,80,138,0.55)" stroke="rgba(8,62,112,0.8)" stroke-width="1.1"/>
<circle cx="480.6" cy="734.9" r="5.65" fill="rgba(14,80,138,0.55)" stroke="rgba(8,62,112,0.8)" stroke-width="1.1"/>
<circle cx="434.4" cy="784.2" r="5.65" fill="rgba(14,80,138,0.55)" stroke="rgba(8,62,112,0.8)" stroke-width="1.1"/>
<circle cx="475.7" cy="784.3" r="5.65" fill="rgba(14,80,138,0.55)" stroke="rgba(8,62,112,0.8)" stroke-width="1.1"/>
<circle cx="437.7" cy="873.1" r="5.65" fill="rgba(14,80,138,0.55)" stroke="rgba(8,62,112,0.8)" stroke-width="1.1"/>
<circle cx="457.3" cy="816.3" r="5.65" fill="rgba(14,80,138,0.55)" stroke="rgba(8,62,112,0.8)" stroke-width="1.1"/>
<circle cx="443.1" cy="800.6" r="5.65" fill="rgba(14,80,138,0.55)" stroke="rgba(8,62,112,0.8)" stroke-width="1.1"/>
<circle cx="479.2" cy="822.6" r="5.65" fill="rgba(14,80,138,0.55)" stroke="rgba(8,62,112,0.8)" stroke-width="1.1"/>
<circle cx="476.3" cy="815.1" r="5.65" fill="rgba(14,80,138,0.55)" stroke="rgba(8,62,112,0.8)" stroke-width="1.1"/>
<circle cx="453.0" cy="833.7" r="5.65" fill="rgba(14,80,138,0.55)" stroke="rgba(8,62,112,0.8)" stroke-width="1.1"/>
<circle cx="467.3" cy="826.0" r="5.65" fill="rgba(14,80,138,0.55)" stroke="rgba(8,62,112,0.8)" stroke-width="1.1"/>
<circle cx="436.1" cy="756.8" r="5.65" fill="rgba(14,80,138,0.55)" stroke="rgba(8,62,112,0.8)" stroke-width="1.1"/>
<circle cx="439.5" cy="792.4" r="5.65" fill="rgba(14,80,138,0.55)" stroke="rgba(8,62,112,0.8)" stroke-width="1.1"/>
<circle cx="438.6" cy="832.3" r="5.65" fill="rgba(14,80,138,0.55)" stroke="rgba(8,62,112,0.8)" stroke-width="1.1"/>
<circle cx="432.2" cy="866.5" r="5.65" fill="rgba(14,80,138,0.55)" stroke="rgba(8,62,112,0.8)" stroke-width="1.1"/>
<circle cx="445.4" cy="773.8" r="5.65" fill="rgba(14,80,138,0.55)" stroke="rgba(8,62,112,0.8)" stroke-width="1.1"/>
<circle cx="437.7" cy="879.9" r="5.65" fill="rgba(14,80,138,0.55)" stroke="rgba(8,62,112,0.8)" stroke-width="1.1"/>
<circle cx="464.9" cy="830.9" r="5.65" fill="rgba(14,80,138,0.55)" stroke="rgba(8,62,112,0.8)" stroke-width="1.1"/>
<circle cx="432.2" cy="932.4" r="5.65" fill="rgba(14,80,138,0.55)" stroke="rgba(8,62,112,0.8)" stroke-width="1.1"/>
<circle cx="481.0" cy="952.1" r="5.65" fill="rgba(14,80,138,0.55)" stroke="rgba(8,62,112,0.8)" stroke-width="1.1"/>
<circle cx="436.6" cy="811.8" r="5.65" fill="rgba(14,80,138,0.55)" stroke="rgba(8,62,112,0.8)" stroke-width="1.1"/>
<circle cx="435.5" cy="846.8" r="5.65" fill="rgba(14,80,138,0.55)" stroke="rgba(8,62,112,0.8)" stroke-width="1.1"/>
<circle cx="434.4" cy="776.5" r="5.65" fill="rgba(14,80,138,0.55)" stroke="rgba(8,62,112,0.8)" stroke-width="1.1"/>
<circle cx="443.2" cy="750.2" r="5.65" fill="rgba(14,80,138,0.55)" stroke="rgba(8,62,112,0.8)" stroke-width="1.1"/>
<circle cx="429.0" cy="842.4" r="5.65" fill="rgba(14,80,138,0.55)" stroke="rgba(8,62,112,0.8)" stroke-width="1.1"/>
<circle cx="461.8" cy="812.8" r="5.65" fill="rgba(14,80,138,0.55)" stroke="rgba(8,62,112,0.8)" stroke-width="1.1"/>
<circle cx="429.2" cy="787.9" r="5.65" fill="rgba(14,80,138,0.55)" stroke="rgba(8,62,112,0.8)" stroke-width="1.1"/>
<circle cx="451.9" cy="750.8" r="5.65" fill="rgba(14,80,138,0.55)" stroke="rgba(8,62,112,0.8)" stroke-width="1.1"/>
<circle cx="467.3" cy="934.6" r="5.65" fill="rgba(14,80,138,0.55)" stroke="rgba(8,62,112,0.8)" stroke-width="1.1"/>
<circle cx="432.0" cy="825.0" r="5.65" fill="rgba(14,80,138,0.55)" stroke="rgba(8,62,112,0.8)" stroke-width="1.1"/>
<circle cx="479.3" cy="863.2" r="5.65" fill="rgba(14,80,138,0.55)" stroke="rgba(8,62,112,0.8)" stroke-width="1.1"/>
<circle cx="429.0" cy="793.1" r="5.65" fill="rgba(14,80,138,0.55)" stroke="rgba(8,62,112,0.8)" stroke-width="1.1"/>
<circle cx="478.9" cy="812.1" r="5.65" fill="rgba(14,80,138,0.55)" stroke="rgba(8,62,112,0.8)" stroke-width="1.1"/>
<circle cx="454.1" cy="841.3" r="5.65" fill="rgba(14,80,138,0.55)" stroke="rgba(8,62,112,0.8)" stroke-width="1.1"/>
<circle cx="439.5" cy="803.1" r="5.65" fill="rgba(14,80,138,0.55)" stroke="rgba(8,62,112,0.8)" stroke-width="1.1"/>
<circle cx="471.7" cy="881.0" r="5.65" fill="rgba(14,80,138,0.55)" stroke="rgba(8,62,112,0.8)" stroke-width="1.1"/>
<circle cx="467.3" cy="788.5" r="5.65" fill="rgba(14,80,138,0.55)" stroke="rgba(8,62,112,0.8)" stroke-width="1.1"/>
<circle cx="445.4" cy="805.2" r="5.65" fill="rgba(14,80,138,0.55)" stroke="rgba(8,62,112,0.8)" stroke-width="1.1"/>
<circle cx="447.6" cy="872.2" r="5.65" fill="rgba(14,80,138,0.55)" stroke="rgba(8,62,112,0.8)" stroke-width="1.1"/>
<circle cx="449.2" cy="980.7" r="5.65" fill="rgba(14,80,138,0.55)" stroke="rgba(8,62,112,0.8)" stroke-width="1.1"/>
<circle cx="468.4" cy="846.8" r="5.65" fill="rgba(14,80,138,0.55)" stroke="rgba(8,62,112,0.8)" stroke-width="1.1"/>
<circle cx="473.8" cy="804.1" r="5.65" fill="rgba(14,80,138,0.55)" stroke="rgba(8,62,112,0.8)" stroke-width="1.1"/>
<circle cx="474.9" cy="854.5" r="5.65" fill="rgba(14,80,138,0.55)" stroke="rgba(8,62,112,0.8)" stroke-width="1.1"/>
<circle cx="466.2" cy="797.5" r="5.65" fill="rgba(14,80,138,0.55)" stroke="rgba(8,62,112,0.8)" stroke-width="1.1"/>
<circle cx="449.8" cy="792.0" r="5.65" fill="rgba(14,80,138,0.55)" stroke="rgba(8,62,112,0.8)" stroke-width="1.1"/>
<circle cx="475.5" cy="972.0" r="5.65" fill="rgba(14,80,138,0.55)" stroke="rgba(8,62,112,0.8)" stroke-width="1.1"/>
<circle cx="479.3" cy="834.7" r="5.65" fill="rgba(14,80,138,0.55)" stroke="rgba(8,62,112,0.8)" stroke-width="1.1"/>
<circle cx="472.2" cy="756.8" r="5.65" fill="rgba(14,80,138,0.55)" stroke="rgba(8,62,112,0.8)" stroke-width="1.1"/>
<circle cx="481.5" cy="920.4" r="5.65" fill="rgba(14,80,138,0.55)" stroke="rgba(8,62,112,0.8)" stroke-width="1.1"/>
<circle cx="477.7" cy="903.4" r="5.65" fill="rgba(14,80,138,0.55)" stroke="rgba(8,62,112,0.8)" stroke-width="1.1"/>
<circle cx="432.2" cy="830.4" r="5.65" fill="rgba(14,80,138,0.55)" stroke="rgba(8,62,112,0.8)" stroke-width="1.1"/>
<circle cx="443.7" cy="895.7" r="5.65" fill="rgba(14,80,138,0.55)" stroke="rgba(8,62,112,0.8)" stroke-width="1.1"/>
<circle cx="469.5" cy="863.2" r="5.65" fill="rgba(14,80,138,0.55)" stroke="rgba(8,62,112,0.8)" stroke-width="1.1"/>
<circle cx="446.3" cy="868.2" r="5.65" fill="rgba(14,80,138,0.55)" stroke="rgba(8,62,112,0.8)" stroke-width="1.1"/>
<circle cx="435.1" cy="782.2" r="5.65" fill="rgba(14,80,138,0.55)" stroke="rgba(8,62,112,0.8)" stroke-width="1.1"/>
<circle cx="447.2" cy="836.1" r="5.65" fill="rgba(14,80,138,0.55)" stroke="rgba(8,62,112,0.8)" stroke-width="1.1"/>
<circle cx="449.8" cy="948.8" r="5.65" fill="rgba(14,80,138,0.55)" stroke="rgba(8,62,112,0.8)" stroke-width="1.1"/>
<circle cx="451.9" cy="797.5" r="5.65" fill="rgba(14,80,138,0.55)" stroke="rgba(8,62,112,0.8)" stroke-width="1.1"/>
<circle cx="618.5" cy="826.2" r="5.65" fill="rgba(224,58,62,0.5)" stroke="rgba(214,48,58,0.7)" stroke-width="1.1"/>
<circle cx="587.2" cy="900.3" r="5.65" fill="rgba(224,58,62,0.5)" stroke="rgba(214,48,58,0.7)" stroke-width="1.1"/>
<circle cx="624.0" cy="699.5" r="5.65" fill="rgba(224,58,62,0.5)" stroke="rgba(214,48,58,0.7)" stroke-width="1.1"/>
<circle cx="611.3" cy="845.8" r="5.65" fill="rgba(224,58,62,0.5)" stroke="rgba(214,48,58,0.7)" stroke-width="1.1"/>
<circle cx="623.2" cy="783.0" r="5.65" fill="rgba(224,58,62,0.5)" stroke="rgba(214,48,58,0.7)" stroke-width="1.1"/>
<circle cx="602.0" cy="998.3" r="5.65" fill="rgba(224,58,62,0.5)" stroke="rgba(214,48,58,0.7)" stroke-width="1.1"/>
<circle cx="620.6" cy="786.5" r="5.65" fill="rgba(224,58,62,0.5)" stroke="rgba(214,48,58,0.7)" stroke-width="1.1"/>
<circle cx="570.2" cy="782.1" r="5.65" fill="rgba(224,58,62,0.5)" stroke="rgba(214,48,58,0.7)" stroke-width="1.1"/>
<circle cx="568.3" cy="944.8" r="5.65" fill="rgba(224,58,62,0.5)" stroke="rgba(214,48,58,0.7)" stroke-width="1.1"/>
<circle cx="576.3" cy="682.3" r="5.65" fill="rgba(224,58,62,0.5)" stroke="rgba(214,48,58,0.7)" stroke-width="1.1"/>
<circle cx="588.8" cy="759.1" r="5.65" fill="rgba(224,58,62,0.5)" stroke="rgba(214,48,58,0.7)" stroke-width="1.1"/>
<circle cx="588.8" cy="659.8" r="5.65" fill="rgba(224,58,62,0.5)" stroke="rgba(214,48,58,0.7)" stroke-width="1.1"/>
<circle cx="588.8" cy="880.9" r="5.65" fill="rgba(224,58,62,0.5)" stroke="rgba(214,48,58,0.7)" stroke-width="1.1"/>
<circle cx="612.9" cy="915.0" r="5.65" fill="rgba(224,58,62,0.5)" stroke="rgba(214,48,58,0.7)" stroke-width="1.1"/>
<circle cx="623.1" cy="698.1" r="5.65" fill="rgba(224,58,62,0.5)" stroke="rgba(214,48,58,0.7)" stroke-width="1.1"/>
<circle cx="579.5" cy="749.3" r="5.65" fill="rgba(224,58,62,0.5)" stroke="rgba(214,48,58,0.7)" stroke-width="1.1"/>
<circle cx="587.8" cy="885.3" r="5.65" fill="rgba(224,58,62,0.5)" stroke="rgba(214,48,58,0.7)" stroke-width="1.1"/>
<circle cx="601.4" cy="703.5" r="5.65" fill="rgba(224,58,62,0.5)" stroke="rgba(214,48,58,0.7)" stroke-width="1.1"/>
<circle cx="593.2" cy="706.4" r="5.65" fill="rgba(224,58,62,0.5)" stroke="rgba(214,48,58,0.7)" stroke-width="1.1"/>
<circle cx="605.8" cy="994.4" r="5.65" fill="rgba(224,58,62,0.5)" stroke="rgba(214,48,58,0.7)" stroke-width="1.1"/>
<circle cx="569.1" cy="752.6" r="5.65" fill="rgba(224,58,62,0.5)" stroke="rgba(214,48,58,0.7)" stroke-width="1.1"/>
<circle cx="567.8" cy="750.1" r="5.65" fill="rgba(224,58,62,0.5)" stroke="rgba(214,48,58,0.7)" stroke-width="1.1"/>
<circle cx="588.3" cy="637.9" r="5.65" fill="rgba(224,58,62,0.5)" stroke="rgba(214,48,58,0.7)" stroke-width="1.1"/>
<circle cx="569.1" cy="705.3" r="5.65" fill="rgba(224,58,62,0.5)" stroke="rgba(214,48,58,0.7)" stroke-width="1.1"/>
<circle cx="601.4" cy="860.1" r="5.65" fill="rgba(224,58,62,0.5)" stroke="rgba(214,48,58,0.7)" stroke-width="1.1"/>
<circle cx="596.5" cy="750.4" r="5.65" fill="rgba(224,58,62,0.5)" stroke="rgba(214,48,58,0.7)" stroke-width="1.1"/>
<circle cx="585.6" cy="726.3" r="5.65" fill="rgba(224,58,62,0.5)" stroke="rgba(214,48,58,0.7)" stroke-width="1.1"/>
<circle cx="583.7" cy="697.7" r="5.65" fill="rgba(224,58,62,0.5)" stroke="rgba(214,48,58,0.7)" stroke-width="1.1"/>
<circle cx="621.7" cy="941.9" r="5.65" fill="rgba(224,58,62,0.5)" stroke="rgba(214,48,58,0.7)" stroke-width="1.1"/>
<circle cx="614.0" cy="822.8" r="5.65" fill="rgba(224,58,62,0.5)" stroke="rgba(214,48,58,0.7)" stroke-width="1.1"/>
<circle cx="619.5" cy="861.2" r="5.65" fill="rgba(224,58,62,0.5)" stroke="rgba(214,48,58,0.7)" stroke-width="1.1"/>
<circle cx="580.0" cy="790.8" r="5.65" fill="rgba(224,58,62,0.5)" stroke="rgba(214,48,58,0.7)" stroke-width="1.1"/>
<circle cx="616.8" cy="848.0" r="5.65" fill="rgba(224,58,62,0.5)" stroke="rgba(214,48,58,0.7)" stroke-width="1.1"/>
<circle cx="577.4" cy="840.9" r="5.65" fill="rgba(224,58,62,0.5)" stroke="rgba(214,48,58,0.7)" stroke-width="1.1"/>
<circle cx="597.6" cy="754.7" r="5.65" fill="rgba(224,58,62,0.5)" stroke="rgba(214,48,58,0.7)" stroke-width="1.1"/>
<circle cx="603.1" cy="683.4" r="5.65" fill="rgba(224,58,62,0.5)" stroke="rgba(214,48,58,0.7)" stroke-width="1.1"/>
<circle cx="606.4" cy="917.2" r="5.65" fill="rgba(224,58,62,0.5)" stroke="rgba(214,48,58,0.7)" stroke-width="1.1"/>
<circle cx="582.3" cy="692.1" r="5.65" fill="rgba(224,58,62,0.5)" stroke="rgba(214,48,58,0.7)" stroke-width="1.1"/>
<circle cx="585.0" cy="866.6" r="5.65" fill="rgba(224,58,62,0.5)" stroke="rgba(214,48,58,0.7)" stroke-width="1.1"/>
<circle cx="584.5" cy="710.9" r="5.65" fill="rgba(224,58,62,0.5)" stroke="rgba(214,48,58,0.7)" stroke-width="1.1"/>
<circle cx="573.0" cy="824.5" r="5.65" fill="rgba(224,58,62,0.5)" stroke="rgba(214,48,58,0.7)" stroke-width="1.1"/>
<circle cx="599.8" cy="932.6" r="5.65" fill="rgba(224,58,62,0.5)" stroke="rgba(214,48,58,0.7)" stroke-width="1.1"/>
<circle cx="603.1" cy="656.0" r="5.65" fill="rgba(224,58,62,0.5)" stroke="rgba(214,48,58,0.7)" stroke-width="1.1"/>
<circle cx="612.4" cy="763.5" r="5.65" fill="rgba(224,58,62,0.5)" stroke="rgba(214,48,58,0.7)" stroke-width="1.1"/>
<circle cx="579.5" cy="789.8" r="5.65" fill="rgba(224,58,62,0.5)" stroke="rgba(214,48,58,0.7)" stroke-width="1.1"/>
<circle cx="576.3" cy="650.5" r="5.65" fill="rgba(224,58,62,0.5)" stroke="rgba(214,48,58,0.7)" stroke-width="1.1"/>
<circle cx="567.0" cy="727.4" r="5.65" fill="rgba(224,58,62,0.5)" stroke="rgba(214,48,58,0.7)" stroke-width="1.1"/>
<circle cx="596.5" cy="767.9" r="5.65" fill="rgba(224,58,62,0.5)" stroke="rgba(214,48,58,0.7)" stroke-width="1.1"/>
<circle cx="570.2" cy="746.0" r="5.65" fill="rgba(224,58,62,0.5)" stroke="rgba(214,48,58,0.7)" stroke-width="1.1"/>
<circle cx="602.6" cy="809.5" r="5.65" fill="rgba(224,58,62,0.5)" stroke="rgba(214,48,58,0.7)" stroke-width="1.1"/>
<circle cx="606.4" cy="804.2" r="5.65" fill="rgba(224,58,62,0.5)" stroke="rgba(214,48,58,0.7)" stroke-width="1.1"/>
<circle cx="586.1" cy="831.6" r="5.65" fill="rgba(224,58,62,0.5)" stroke="rgba(214,48,58,0.7)" stroke-width="1.1"/>
<circle cx="619.5" cy="694.9" r="5.65" fill="rgba(224,58,62,0.5)" stroke="rgba(214,48,58,0.7)" stroke-width="1.1"/>
<circle cx="574.1" cy="641.2" r="5.65" fill="rgba(224,58,62,0.5)" stroke="rgba(214,48,58,0.7)" stroke-width="1.1"/>
<circle cx="568.6" cy="768.4" r="5.65" fill="rgba(224,58,62,0.5)" stroke="rgba(214,48,58,0.7)" stroke-width="1.1"/>
<circle cx="580.1" cy="791.1" r="5.65" fill="rgba(224,58,62,0.5)" stroke="rgba(214,48,58,0.7)" stroke-width="1.1"/>
<circle cx="607.5" cy="907.4" r="5.65" fill="rgba(224,58,62,0.5)" stroke="rgba(214,48,58,0.7)" stroke-width="1.1"/>
<circle cx="567.0" cy="687.2" r="5.65" fill="rgba(224,58,62,0.5)" stroke="rgba(214,48,58,0.7)" stroke-width="1.1"/>
<circle cx="606.4" cy="681.2" r="5.65" fill="rgba(224,58,62,0.5)" stroke="rgba(214,48,58,0.7)" stroke-width="1.1"/>
<circle cx="586.1" cy="697.6" r="5.65" fill="rgba(224,58,62,0.5)" stroke="rgba(214,48,58,0.7)" stroke-width="1.1"/>
<circle cx="602.0" cy="783.2" r="5.65" fill="rgba(224,58,62,0.5)" stroke="rgba(214,48,58,0.7)" stroke-width="1.1"/>
<circle cx="592.7" cy="945.1" r="5.65" fill="rgba(224,58,62,0.5)" stroke="rgba(214,48,58,0.7)" stroke-width="1.1"/>
<circle cx="608.6" cy="885.3" r="5.65" fill="rgba(224,58,62,0.5)" stroke="rgba(214,48,58,0.7)" stroke-width="1.1"/>
<circle cx="583.4" cy="815.2" r="5.65" fill="rgba(224,58,62,0.5)" stroke="rgba(214,48,58,0.7)" stroke-width="1.1"/>
<circle cx="620.6" cy="903.0" r="5.65" fill="rgba(224,58,62,0.5)" stroke="rgba(214,48,58,0.7)" stroke-width="1.1"/>
<circle cx="574.6" cy="696.5" r="5.65" fill="rgba(224,58,62,0.5)" stroke="rgba(214,48,58,0.7)" stroke-width="1.1"/>
<circle cx="592.1" cy="767.9" r="5.65" fill="rgba(224,58,62,0.5)" stroke="rgba(214,48,58,0.7)" stroke-width="1.1"/>
<circle cx="612.4" cy="661.5" r="5.65" fill="rgba(224,58,62,0.5)" stroke="rgba(214,48,58,0.7)" stroke-width="1.1"/>
<circle cx="618.6" cy="795.2" r="5.65" fill="rgba(224,58,62,0.5)" stroke="rgba(214,48,58,0.7)" stroke-width="1.1"/>
<circle cx="575.2" cy="726.8" r="5.65" fill="rgba(14,80,138,0.55)" stroke="rgba(8,62,112,0.8)" stroke-width="1.1"/>
<circle cx="609.7" cy="737.8" r="5.65" fill="rgba(14,80,138,0.55)" stroke="rgba(8,62,112,0.8)" stroke-width="1.1"/>
<circle cx="608.0" cy="696.5" r="5.65" fill="rgba(14,80,138,0.55)" stroke="rgba(8,62,112,0.8)" stroke-width="1.1"/>
<circle cx="593.2" cy="659.3" r="5.65" fill="rgba(14,80,138,0.55)" stroke="rgba(8,62,112,0.8)" stroke-width="1.1"/>
<circle cx="596.5" cy="725.7" r="5.65" fill="rgba(14,80,138,0.55)" stroke="rgba(8,62,112,0.8)" stroke-width="1.1"/>
<circle cx="602.0" cy="767.5" r="5.65" fill="rgba(14,80,138,0.55)" stroke="rgba(8,62,112,0.8)" stroke-width="1.1"/>
<circle cx="604.2" cy="697.6" r="5.65" fill="rgba(14,80,138,0.55)" stroke="rgba(8,62,112,0.8)" stroke-width="1.1"/>
<circle cx="580.7" cy="828.6" r="5.65" fill="rgba(14,80,138,0.55)" stroke="rgba(8,62,112,0.8)" stroke-width="1.1"/>
<circle cx="569.7" cy="889.0" r="5.65" fill="rgba(14,80,138,0.55)" stroke="rgba(8,62,112,0.8)" stroke-width="1.1"/>
<circle cx="604.2" cy="708.2" r="5.65" fill="rgba(14,80,138,0.55)" stroke="rgba(8,62,112,0.8)" stroke-width="1.1"/>
<circle cx="605.8" cy="848.6" r="5.65" fill="rgba(14,80,138,0.55)" stroke="rgba(8,62,112,0.8)" stroke-width="1.1"/>
<circle cx="618.4" cy="794.2" r="5.65" fill="rgba(14,80,138,0.55)" stroke="rgba(8,62,112,0.8)" stroke-width="1.1"/>
<circle cx="605.3" cy="815.2" r="5.65" fill="rgba(14,80,138,0.55)" stroke="rgba(8,62,112,0.8)" stroke-width="1.1"/>
<circle cx="586.7" cy="787.6" r="5.65" fill="rgba(14,80,138,0.55)" stroke="rgba(8,62,112,0.8)" stroke-width="1.1"/>
<circle cx="617.9" cy="800.4" r="5.65" fill="rgba(14,80,138,0.55)" stroke="rgba(8,62,112,0.8)" stroke-width="1.1"/>
<circle cx="579.0" cy="763.5" r="5.65" fill="rgba(14,80,138,0.55)" stroke="rgba(8,62,112,0.8)" stroke-width="1.1"/>
<circle cx="584.5" cy="798.5" r="5.65" fill="rgba(14,80,138,0.55)" stroke="rgba(8,62,112,0.8)" stroke-width="1.1"/>
<circle cx="614.0" cy="891.0" r="5.65" fill="rgba(14,80,138,0.55)" stroke="rgba(8,62,112,0.8)" stroke-width="1.1"/>
<circle cx="583.9" cy="845.3" r="5.65" fill="rgba(14,80,138,0.55)" stroke="rgba(8,62,112,0.8)" stroke-width="1.1"/>
<circle cx="619.0" cy="907.4" r="5.65" fill="rgba(14,80,138,0.55)" stroke="rgba(8,62,112,0.8)" stroke-width="1.1"/>
<circle cx="604.2" cy="706.4" r="5.65" fill="rgba(14,80,138,0.55)" stroke="rgba(8,62,112,0.8)" stroke-width="1.1"/>
<circle cx="575.2" cy="634.1" r="5.65" fill="rgba(14,80,138,0.55)" stroke="rgba(8,62,112,0.8)" stroke-width="1.1"/>
<circle cx="619.5" cy="726.3" r="5.65" fill="rgba(14,80,138,0.55)" stroke="rgba(8,62,112,0.8)" stroke-width="1.1"/>
<circle cx="596.5" cy="739.4" r="5.65" fill="rgba(14,80,138,0.55)" stroke="rgba(8,62,112,0.8)" stroke-width="1.1"/>
<circle cx="588.8" cy="807.5" r="5.65" fill="rgba(14,80,138,0.55)" stroke="rgba(8,62,112,0.8)" stroke-width="1.1"/>
<circle cx="610.7" cy="721.9" r="5.65" fill="rgba(14,80,138,0.55)" stroke="rgba(8,62,112,0.8)" stroke-width="1.1"/>
<circle cx="619.5" cy="828.3" r="5.65" fill="rgba(14,80,138,0.55)" stroke="rgba(8,62,112,0.8)" stroke-width="1.1"/>
<circle cx="572.4" cy="735.6" r="5.65" fill="rgba(14,80,138,0.55)" stroke="rgba(8,62,112,0.8)" stroke-width="1.1"/>
<circle cx="578.4" cy="904.6" r="5.65" fill="rgba(14,80,138,0.55)" stroke="rgba(8,62,112,0.8)" stroke-width="1.1"/>
<circle cx="583.4" cy="764.6" r="5.65" fill="rgba(14,80,138,0.55)" stroke="rgba(8,62,112,0.8)" stroke-width="1.1"/>
<circle cx="600.9" cy="930.4" r="5.65" fill="rgba(14,80,138,0.55)" stroke="rgba(8,62,112,0.8)" stroke-width="1.1"/>
<circle cx="620.7" cy="698.3" r="5.65" fill="rgba(14,80,138,0.55)" stroke="rgba(8,62,112,0.8)" stroke-width="1.1"/>
<circle cx="574.1" cy="982.4" r="5.65" fill="rgba(14,80,138,0.55)" stroke="rgba(8,62,112,0.8)" stroke-width="1.1"/>
<circle cx="613.5" cy="653.8" r="5.65" fill="rgba(14,80,138,0.55)" stroke="rgba(8,62,112,0.8)" stroke-width="1.1"/>
<circle cx="596.5" cy="885.3" r="5.65" fill="rgba(14,80,138,0.55)" stroke="rgba(8,62,112,0.8)" stroke-width="1.1"/>
<circle cx="568.0" cy="723.0" r="5.65" fill="rgba(14,80,138,0.55)" stroke="rgba(8,62,112,0.8)" stroke-width="1.1"/>
<circle cx="603.1" cy="795.3" r="5.65" fill="rgba(14,80,138,0.55)" stroke="rgba(8,62,112,0.8)" stroke-width="1.1"/>
<circle cx="612.4" cy="776.1" r="5.65" fill="rgba(14,80,138,0.55)" stroke="rgba(8,62,112,0.8)" stroke-width="1.1"/>
<circle cx="593.2" cy="860.1" r="5.65" fill="rgba(14,80,138,0.55)" stroke="rgba(8,62,112,0.8)" stroke-width="1.1"/>
<circle cx="581.2" cy="702.0" r="5.65" fill="rgba(14,80,138,0.55)" stroke="rgba(8,62,112,0.8)" stroke-width="1.1"/>
<circle cx="580.1" cy="828.9" r="5.65" fill="rgba(14,80,138,0.55)" stroke="rgba(8,62,112,0.8)" stroke-width="1.1"/>
<circle cx="592.1" cy="776.6" r="5.65" fill="rgba(14,80,138,0.55)" stroke="rgba(8,62,112,0.8)" stroke-width="1.1"/>
<circle cx="585.6" cy="682.3" r="5.65" fill="rgba(14,80,138,0.55)" stroke="rgba(8,62,112,0.8)" stroke-width="1.1"/>
<circle cx="580.9" cy="822.3" r="5.65" fill="rgba(14,80,138,0.55)" stroke="rgba(8,62,112,0.8)" stroke-width="1.1"/>
<circle cx="592.1" cy="815.2" r="5.65" fill="rgba(14,80,138,0.55)" stroke="rgba(8,62,112,0.8)" stroke-width="1.1"/>
<circle cx="602.0" cy="820.7" r="5.65" fill="rgba(14,80,138,0.55)" stroke="rgba(8,62,112,0.8)" stroke-width="1.1"/>
<circle cx="583.9" cy="859.0" r="5.65" fill="rgba(14,80,138,0.55)" stroke="rgba(8,62,112,0.8)" stroke-width="1.1"/>
<circle cx="588.8" cy="740.5" r="5.65" fill="rgba(14,80,138,0.55)" stroke="rgba(8,62,112,0.8)" stroke-width="1.1"/>
<circle cx="620.6" cy="682.8" r="5.65" fill="rgba(14,80,138,0.55)" stroke="rgba(8,62,112,0.8)" stroke-width="1.1"/>
<circle cx="606.4" cy="673.0" r="5.65" fill="rgba(14,80,138,0.55)" stroke="rgba(8,62,112,0.8)" stroke-width="1.1"/>
<circle cx="603.1" cy="733.9" r="5.65" fill="rgba(14,80,138,0.55)" stroke="rgba(8,62,112,0.8)" stroke-width="1.1"/>
<circle cx="600.9" cy="900.3" r="5.65" fill="rgba(14,80,138,0.55)" stroke="rgba(8,62,112,0.8)" stroke-width="1.1"/>
<circle cx="570.2" cy="709.9" r="5.65" fill="rgba(14,80,138,0.55)" stroke="rgba(8,62,112,0.8)" stroke-width="1.1"/>
<circle cx="586.1" cy="675.7" r="5.65" fill="rgba(14,80,138,0.55)" stroke="rgba(8,62,112,0.8)" stroke-width="1.1"/>
<circle cx="593.8" cy="647.2" r="5.65" fill="rgba(14,80,138,0.55)" stroke="rgba(8,62,112,0.8)" stroke-width="1.1"/>
<circle cx="584.5" cy="802.0" r="5.65" fill="rgba(14,80,138,0.55)" stroke="rgba(8,62,112,0.8)" stroke-width="1.1"/>
<circle cx="612.9" cy="896.4" r="5.65" fill="rgba(14,80,138,0.55)" stroke="rgba(8,62,112,0.8)" stroke-width="1.1"/>
<circle cx="603.6" cy="867.2" r="5.65" fill="rgba(14,80,138,0.55)" stroke="rgba(8,62,112,0.8)" stroke-width="1.1"/>
<circle cx="587.8" cy="776.6" r="5.65" fill="rgba(14,80,138,0.55)" stroke="rgba(8,62,112,0.8)" stroke-width="1.1"/>
<circle cx="616.3" cy="771.0" r="5.65" fill="rgba(14,80,138,0.55)" stroke="rgba(8,62,112,0.8)" stroke-width="1.1"/>
<circle cx="570.8" cy="707.4" r="5.65" fill="rgba(14,80,138,0.55)" stroke="rgba(8,62,112,0.8)" stroke-width="1.1"/>
<circle cx="597.3" cy="811.0" r="5.65" fill="rgba(14,80,138,0.55)" stroke="rgba(8,62,112,0.8)" stroke-width="1.1"/>
<circle cx="596.5" cy="810.3" r="5.65" fill="rgba(14,80,138,0.55)" stroke="rgba(8,62,112,0.8)" stroke-width="1.1"/>
<circle cx="586.1" cy="823.9" r="5.65" fill="rgba(14,80,138,0.55)" stroke="rgba(8,62,112,0.8)" stroke-width="1.1"/>
<circle cx="616.2" cy="822.8" r="5.65" fill="rgba(14,80,138,0.55)" stroke="rgba(8,62,112,0.8)" stroke-width="1.1"/>
<circle cx="571.3" cy="689.9" r="5.65" fill="rgba(14,80,138,0.55)" stroke="rgba(8,62,112,0.8)" stroke-width="1.1"/>
<circle cx="618.4" cy="673.0" r="5.65" fill="rgba(14,80,138,0.55)" stroke="rgba(8,62,112,0.8)" stroke-width="1.1"/>
<circle cx="589.4" cy="625.9" r="5.65" fill="rgba(14,80,138,0.55)" stroke="rgba(8,62,112,0.8)" stroke-width="1.1"/>
<circle cx="586.7" cy="647.2" r="5.65" fill="rgba(14,80,138,0.55)" stroke="rgba(8,62,112,0.8)" stroke-width="1.1"/>
<circle cx="573.0" cy="665.3" r="5.65" fill="rgba(14,80,138,0.55)" stroke="rgba(8,62,112,0.8)" stroke-width="1.1"/>
<circle cx="599.8" cy="622.6" r="5.65" fill="rgba(14,80,138,0.55)" stroke="rgba(8,62,112,0.8)" stroke-width="1.1"/>
<circle cx="577.9" cy="778.8" r="5.65" fill="rgba(14,80,138,0.55)" stroke="rgba(8,62,112,0.8)" stroke-width="1.1"/>
<line x1="128.6" y1="37.7" x2="128.6" y2="491.9" stroke="#2b2b2b" stroke-width="1.45" stroke-linecap="square"/>
<line x1="113.4" y1="37.7" x2="128.6" y2="37.7" stroke="#2b2b2b" stroke-width="1.45"/>
<text x="100.3" y="51.0" font-size="37.3" font-weight="400" text-anchor="end" >25</text>
<line x1="113.4" y1="151.5" x2="128.6" y2="151.5" stroke="#2b2b2b" stroke-width="1.45"/>
<text x="100.3" y="164.8" font-size="37.3" font-weight="400" text-anchor="end" >20</text>
<line x1="113.4" y1="265.1" x2="128.6" y2="265.1" stroke="#2b2b2b" stroke-width="1.45"/>
<text x="100.3" y="278.4" font-size="37.3" font-weight="400" text-anchor="end" >15</text>
<line x1="113.4" y1="378.5" x2="128.6" y2="378.5" stroke="#2b2b2b" stroke-width="1.45"/>
<text x="100.3" y="391.8" font-size="37.3" font-weight="400" text-anchor="end" >10</text>
<line x1="113.4" y1="491.9" x2="128.6" y2="491.9" stroke="#2b2b2b" stroke-width="1.45"/>
<text x="100.3" y="505.2" font-size="37.3" font-weight="400" text-anchor="end" >5</text>
<line x1="125.7" y1="594.4" x2="125.7" y2="1049.4" stroke="#2b2b2b" stroke-width="1.45" stroke-linecap="square"/>
<line x1="110" y1="594.4" x2="125.7" y2="594.4" stroke="#2b2b2b" stroke-width="1.45"/>
<text x="97.5" y="607.7" font-size="37.3" font-weight="400" text-anchor="end" >70</text>
<line x1="110" y1="658.3" x2="125.7" y2="658.3" stroke="#2b2b2b" stroke-width="1.45"/>
<text x="97.5" y="671.6" font-size="37.3" font-weight="400" text-anchor="end" >60</text>
<line x1="110" y1="722.5" x2="125.7" y2="722.5" stroke="#2b2b2b" stroke-width="1.45"/>
<text x="97.5" y="735.8" font-size="37.3" font-weight="400" text-anchor="end" >50</text>
<line x1="110" y1="786.4" x2="125.7" y2="786.4" stroke="#2b2b2b" stroke-width="1.45"/>
<text x="97.5" y="799.7" font-size="37.3" font-weight="400" text-anchor="end" >40</text>
<line x1="110" y1="850.6" x2="125.7" y2="850.6" stroke="#2b2b2b" stroke-width="1.45"/>
<text x="97.5" y="863.9" font-size="37.3" font-weight="400" text-anchor="end" >30</text>
<line x1="110" y1="914.4" x2="125.7" y2="914.4" stroke="#2b2b2b" stroke-width="1.45"/>
<text x="97.5" y="927.7" font-size="37.3" font-weight="400" text-anchor="end" >20</text>
<line x1="110" y1="978.8" x2="125.7" y2="978.8" stroke="#2b2b2b" stroke-width="1.45"/>
<text x="97.5" y="992.1" font-size="37.3" font-weight="400" text-anchor="end" >10</text>
<line x1="110" y1="1049.4" x2="125.7" y2="1049.4" stroke="#2b2b2b" stroke-width="1.45"/>
<text x="97.5" y="1062.7" font-size="37.3" font-weight="400" text-anchor="end" >0</text>
<line x1="208.4" y1="1071.8" x2="621.9" y2="1071.8" stroke="#2b2b2b" stroke-width="1.45" stroke-linecap="square"/>
<line x1="208.4" y1="1071" x2="208.4" y2="1087.4" stroke="#2b2b2b" stroke-width="1.45"/>
<text x="208.4" y="1127" font-size="36" font-weight="400" text-anchor="middle" >10</text>
<line x1="346.4" y1="1071" x2="346.4" y2="1087.4" stroke="#2b2b2b" stroke-width="1.45"/>
<text x="346.4" y="1127" font-size="36" font-weight="400" text-anchor="middle" >30</text>
<line x1="484.4" y1="1071" x2="484.4" y2="1087.4" stroke="#2b2b2b" stroke-width="1.45"/>
<text x="484.4" y="1127" font-size="36" font-weight="400" text-anchor="middle" >50</text>
<line x1="621.9" y1="1071" x2="621.9" y2="1087.4" stroke="#2b2b2b" stroke-width="1.45"/>
<text x="621.9" y="1127" font-size="36" font-weight="400" text-anchor="middle" >70</text>
<text x="416" y="1189.5" font-size="35" font-weight="400" text-anchor="middle" >Intensity (%MVC)</text>
<text transform="translate(33.9,264) rotate(-90)" font-size="35.8" text-anchor="middle">DR (pps)</text>
<text transform="translate(30.8,820.5) rotate(-90)" font-size="35.3" text-anchor="middle">RT (%MVC)</text>
<text x="5.2" y="35.5" font-size="46" font-weight="700" text-anchor="start" >A</text>
<text x="5.5" y="592.9" font-size="46" font-weight="700" text-anchor="start" >B</text>
<line x1="238.2" y1="74.6" x2="376.5" y2="74.6" stroke="#1e1e1e" stroke-width="1.75"/>
<text x="314.4" y="80.5" font-size="40" font-weight="700" text-anchor="middle" letter-spacing="1.3">***</text>
<line x1="376.5" y1="55.3" x2="514.8" y2="55.3" stroke="#1e1e1e" stroke-width="1.75"/>
<text x="454.15" y="60.5" font-size="40" font-weight="700" text-anchor="middle" letter-spacing="1.3">***</text>
<line x1="514.8" y1="35.3" x2="653.3" y2="35.3" stroke="#1e1e1e" stroke-width="1.75"/>
<text x="592.05" y="40.1" font-size="40" font-weight="700" text-anchor="middle" letter-spacing="1.3">***</text>
<line x1="233.9" y1="631.6" x2="372.5" y2="631.6" stroke="#1e1e1e" stroke-width="1.75"/>
<text x="310.55" y="638.3" font-size="40" font-weight="700" text-anchor="middle" letter-spacing="1.3">***</text>
<line x1="372.5" y1="612.0" x2="511.0" y2="612.0" stroke="#1e1e1e" stroke-width="1.75"/>
<text x="450.2" y="618.3" font-size="40" font-weight="700" text-anchor="middle" letter-spacing="1.3">***</text>
<line x1="511.0" y1="592.2" x2="649.5" y2="592.2" stroke="#1e1e1e" stroke-width="1.75"/>
<text x="588.0" y="597.4" font-size="40" font-weight="700" text-anchor="middle" letter-spacing="1.3">***</text>
<rect x="158.1" y="134.8" width="38.8" height="38.6" fill="#ef9a9e"/>
<rect x="158.1" y="177.7" width="38.8" height="37.8" fill="#7ea5c1"/>
<text x="207.5" y="164.8" font-size="30" font-weight="400" text-anchor="start" >VL</text>
<text x="207.5" y="207.7" font-size="30" font-weight="400" text-anchor="start" >VM</text>
<text x="134.0" y="187.8" font-size="35.5" font-weight="700" text-anchor="start" stroke="#000" stroke-width="1.3">#</text>
</svg>
</body></html>
